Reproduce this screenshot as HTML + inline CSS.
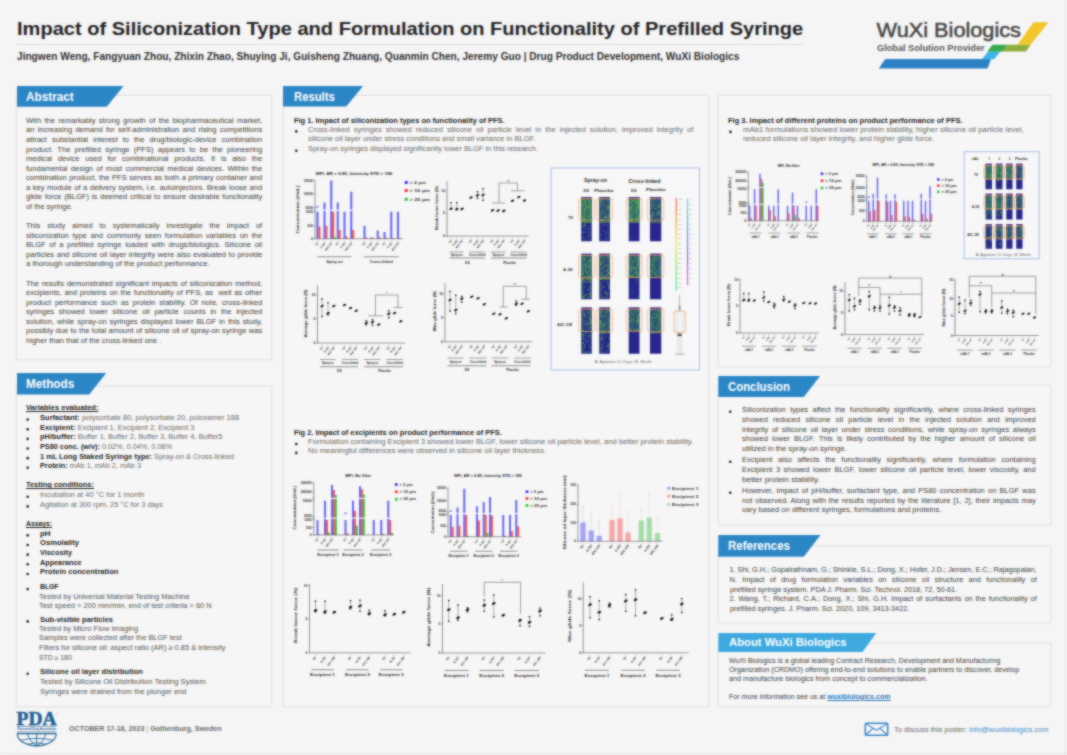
<!DOCTYPE html>
<html lang="en"><head><meta charset="utf-8"><title>Impact of Siliconization Type and Formulation on Functionality of Prefilled Syringe</title>
<style>
html,body{margin:0;padding:0}
body{width:1067px;height:755px;overflow:hidden;background:#f5f5f5;font-family:"Liberation Sans",sans-serif}
#pg{position:relative;width:1067px;height:755px;overflow:hidden;background:#f5f5f5}
#in{position:absolute;left:0;top:0;width:1067px;height:755px}
#soft{position:absolute;left:0;top:0;width:1067px;height:755px;-webkit-backdrop-filter:blur(.8px);backdrop-filter:blur(.8px);opacity:.65;pointer-events:none}
.t{position:absolute;white-space:pre;transform-origin:0 50%}
.box{position:absolute;border:1px solid #e6e6e6;background:#f6f6f6;box-shadow:0 0 1.5px rgba(0,0,0,.09)}
.tab{position:absolute}
#ov{position:absolute;left:0;top:0}
#ov text{font-family:"Liberation Sans",sans-serif}
.edge{position:absolute;background:#e4e4e4}
</style></head>
<body><div id="pg"><div id="in">
<div class="t " style="left:16.5px;top:17.48px;font-size:18.6px;line-height:23.25px;color:#232323;transform:scaleX(1.0785);"><span style="font-weight:700;">Impact of Siliconization Type and Formulation on Functionality of Prefilled Syringe</span></div>
<div style="position:absolute;left:17px;top:43.8px;width:786px;height:1px;background:#dcdcdc"></div>
<div class="t " style="left:16.8px;top:50.73px;font-size:10.2px;line-height:12.75px;color:#333;transform:scaleX(0.9928);"><span style="font-weight:700;">Jingwen Weng, Fangyuan Zhou, Zhixin Zhao, Shuying Ji, Guisheng Zhuang, Quanmin Chen, Jeremy Guo | Drug Product Development, WuXi Biologics</span></div>
<div class="box" style="left:16px;top:95.25px;width:254.4px;height:262.35px"></div>
<div class="box" style="left:16px;top:386px;width:254.4px;height:319px"></div>
<div class="box" style="left:282.5px;top:95px;width:424.75px;height:610px"></div>
<div class="box" style="left:717.75px;top:95px;width:330.75px;height:269.75px"></div>
<div class="box" style="left:717.75px;top:384.8px;width:330.75px;height:138.2px"></div>
<div class="box" style="left:717.75px;top:546.25px;width:330.75px;height:74.75px"></div>
<div class="box" style="left:717.75px;top:643.25px;width:330.75px;height:61.55px"></div>
<div class="tab" style="left:16.5px;top:85.75px;width:107.25px;height:21px;background:#2b86c5;clip-path:polygon(0 0,100% 0,84.15% 100%,0 100%)"></div>
<div class="t " style="left:26px;top:89.81px;font-size:11.9px;line-height:14.88px;color:#fff;transform:scaleX(0.9891);"><span style="font-weight:700;">Abstract</span></div>
<div class="tab" style="left:16.5px;top:373px;width:89.75px;height:21.5px;background:#2b86c5;clip-path:polygon(0 0,100% 0,81.06% 100%,0 100%)"></div>
<div class="t " style="left:26px;top:377.31px;font-size:11.9px;line-height:14.88px;color:#fff;transform:scaleX(0.9863);"><span style="font-weight:700;">Methods</span></div>
<div class="tab" style="left:283px;top:85.5px;width:80.5px;height:21px;background:#2b86c5;clip-path:polygon(0 0,100% 0,78.57% 100%,0 100%)"></div>
<div class="t " style="left:293.75px;top:89.56px;font-size:11.9px;line-height:14.88px;color:#fff;transform:scaleX(0.9480);"><span style="font-weight:700;">Results</span></div>
<div class="tab" style="left:718.25px;top:375.5px;width:102.25px;height:21.5px;background:#2b86c5;clip-path:polygon(0 0,100% 0,83.62% 100%,0 100%)"></div>
<div class="t " style="left:727.5px;top:379.81px;font-size:11.9px;line-height:14.88px;color:#fff;transform:scaleX(0.9570);"><span style="font-weight:700;">Conclusion</span></div>
<div class="tab" style="left:718.25px;top:535px;width:102.25px;height:21.75px;background:#2b86c5;clip-path:polygon(0 0,100% 0,83.62% 100%,0 100%)"></div>
<div class="t " style="left:727.5px;top:539.43px;font-size:11.9px;line-height:14.88px;color:#fff;transform:scaleX(0.9662);"><span style="font-weight:700;">References</span></div>
<div class="tab" style="left:718.25px;top:633px;width:158px;height:19px;background:#3eaadf;clip-path:polygon(0 0,100% 0,91.3% 100%,0 100%)"></div>
<div class="t " style="left:728.75px;top:635.05px;font-size:11.6px;line-height:14.5px;color:#fff;transform:scaleX(0.9716);"><span style="font-weight:700;">About WuXi Biologics</span></div>
<div class="t " style="left:26px;top:115.78px;font-size:7.55px;line-height:9.44px;color:#3e3e3e;word-spacing:1.21px;">With the remarkably strong growth of the biopharmaceutical market,</div>
<div class="t " style="left:26px;top:125.36px;font-size:7.55px;line-height:9.44px;color:#3e3e3e;word-spacing:1.2px;">an increasing demand for self-administration and rising competitions</div>
<div class="t " style="left:26px;top:134.93px;font-size:7.55px;line-height:9.44px;color:#3e3e3e;word-spacing:2.87px;">attract substantial interest to the drug/biologic-device combination</div>
<div class="t " style="left:26px;top:144.51px;font-size:7.55px;line-height:9.44px;color:#3e3e3e;word-spacing:2.12px;">product. The prefilled syringe (PFS) appears to be the pioneering</div>
<div class="t " style="left:26px;top:154.08px;font-size:7.55px;line-height:9.44px;color:#3e3e3e;word-spacing:3.64px;">medical device used for combinational products. It is also the</div>
<div class="t " style="left:26px;top:163.66px;font-size:7.55px;line-height:9.44px;color:#3e3e3e;word-spacing:1.16px;">fundamental design of most commercial medical devices. Within the</div>
<div class="t " style="left:26px;top:173.24px;font-size:7.55px;line-height:9.44px;color:#3e3e3e;word-spacing:0.42px;">combination product, the PFS serves as both a primary container and</div>
<div class="t " style="left:26px;top:182.81px;font-size:7.55px;line-height:9.44px;color:#3e3e3e;word-spacing:0.42px;">a key module of a delivery system, i.e. autoinjectors. Break loose and</div>
<div class="t " style="left:26px;top:192.39px;font-size:7.55px;line-height:9.44px;color:#3e3e3e;word-spacing:0.66px;">glide force (BLGF) is deemed critical to ensure desirable functionality</div>
<div class="t " style="left:26px;top:201.96px;font-size:7.55px;line-height:9.44px;color:#3e3e3e;transform:scaleX(0.9826);">of the syringe.</div>
<div class="t " style="left:26px;top:221.12px;font-size:7.55px;line-height:9.44px;color:#3e3e3e;word-spacing:4.78px;">This study aimed to systematically investigate the impact of</div>
<div class="t " style="left:26px;top:230.69px;font-size:7.55px;line-height:9.44px;color:#3e3e3e;word-spacing:1.58px;">siliconization type and commonly seen formulation variables on the</div>
<div class="t " style="left:26px;top:240.27px;font-size:7.55px;line-height:9.44px;color:#3e3e3e;word-spacing:1.54px;">BLGF of a prefilled syringe loaded with drugs/biologics. Silicone oil</div>
<div class="t " style="left:26px;top:249.84px;font-size:7.55px;line-height:9.44px;color:#3e3e3e;word-spacing:0.51px;">particles and silicone oil layer integrity were also evaluated to provide</div>
<div class="t " style="left:26px;top:259.42px;font-size:7.55px;line-height:9.44px;color:#3e3e3e;transform:scaleX(1.0149);">a thorough understanding of the product performance.</div>
<div class="t " style="left:26px;top:278.57px;font-size:7.55px;line-height:9.44px;color:#3e3e3e;word-spacing:0.61px;">The results demonstrated significant impacts of siliconization method,</div>
<div class="t " style="left:26px;top:288.15px;font-size:7.55px;line-height:9.44px;color:#3e3e3e;word-spacing:0.67px;">excipients, and proteins on the functionality of PFS, as  well as other</div>
<div class="t " style="left:26px;top:297.72px;font-size:7.55px;line-height:9.44px;color:#3e3e3e;word-spacing:1.65px;">product performance such as protein stability. Of note, cross-linked</div>
<div class="t " style="left:26px;top:307.3px;font-size:7.55px;line-height:9.44px;color:#3e3e3e;word-spacing:2.61px;">syringes showed lower silicone oil particle counts in the injected</div>
<div class="t " style="left:26px;top:316.88px;font-size:7.55px;line-height:9.44px;color:#3e3e3e;word-spacing:0.86px;">solution, while spray-on syringes displayed lower BLGF in this study,</div>
<div class="t " style="left:26px;top:326.45px;font-size:7.55px;line-height:9.44px;color:#3e3e3e;word-spacing:0.21px;">possibly due to the total amount of silicone oil of spray-on syringe was</div>
<div class="t " style="left:26px;top:336.03px;font-size:7.55px;line-height:9.44px;color:#3e3e3e;transform:scaleX(1.0043);">higher than that of the cross-linked one .</div>
<div class="t " style="left:25.5px;top:403.28px;font-size:7.55px;line-height:9.44px;color:#262626;transform:scaleX(0.9986);"><span style="font-weight:700;color:#262626;text-decoration:underline;">Variables evaluated:</span></div>
<div class="t " style="left:39.5px;top:412.93px;font-size:7.55px;line-height:9.44px;color:#6a6a6a;transform:scaleX(0.9995);"><span style="font-weight:700;color:#262626;">Surfactant:</span><span style="color:#6a6a6a;"> polysorbate 80, polysorbate 20, poloxamer 188</span></div>
<div class="t " style="left:39.5px;top:422.58px;font-size:7.55px;line-height:9.44px;color:#6a6a6a;transform:scaleX(0.9818);"><span style="font-weight:700;color:#262626;">Excipient:</span><span style="color:#6a6a6a;"> Excipient 1, Excipient 2, Excipient 3</span></div>
<div class="t " style="left:39.5px;top:432.23px;font-size:7.55px;line-height:9.44px;color:#6a6a6a;transform:scaleX(0.9899);"><span style="font-weight:700;color:#262626;">pH/buffer:</span><span style="color:#6a6a6a;"> Buffer 1, Buffer 2, Buffer 3, Buffer 4, Buffer5</span></div>
<div class="t " style="left:39.5px;top:441.88px;font-size:7.55px;line-height:9.44px;color:#6a6a6a;transform:scaleX(0.9649);"><span style="font-weight:700;color:#262626;">PS80 conc. (w/v):</span><span style="color:#6a6a6a;"> 0.02%, 0.04%, 0.08%</span></div>
<div class="t " style="left:39.5px;top:451.53px;font-size:7.55px;line-height:9.44px;color:#6a6a6a;transform:scaleX(0.9762);"><span style="font-weight:700;color:#262626;">1 mL Long Staked Syringe type:</span><span style="color:#6a6a6a;"> Spray-on &amp; Cross-linked</span></div>
<div class="t " style="left:39.5px;top:461.18px;font-size:7.55px;line-height:9.44px;color:#6a6a6a;transform:scaleX(0.9668);"><span style="font-weight:700;color:#262626;">Protein:</span><span style="color:#6a6a6a;"> mAb 1, mAb 2, mAb 3</span></div>
<div class="t " style="left:25.5px;top:480.48px;font-size:7.55px;line-height:9.44px;color:#262626;transform:scaleX(0.9846);"><span style="font-weight:700;color:#262626;text-decoration:underline;">Testing conditions:</span></div>
<div class="t " style="left:39.5px;top:490.13px;font-size:7.55px;line-height:9.44px;color:#6a6a6a;transform:scaleX(0.9992);">Incubation at 40 °C for 1 month</div>
<div class="t " style="left:39.5px;top:499.78px;font-size:7.55px;line-height:9.44px;color:#6a6a6a;transform:scaleX(0.9763);">Agitation at 300 rpm, 25 °C for 3 days</div>
<div class="t " style="left:25.5px;top:519.08px;font-size:7.55px;line-height:9.44px;color:#262626;transform:scaleX(0.8977);"><span style="font-weight:700;color:#262626;text-decoration:underline;">Assays:</span></div>
<div class="t " style="left:39.5px;top:528.73px;font-size:7.55px;line-height:9.44px;color:#262626;transform:scaleX(1.0433);"><span style="font-weight:700;color:#262626;">pH</span></div>
<div class="t " style="left:39.5px;top:538.38px;font-size:7.55px;line-height:9.44px;color:#262626;transform:scaleX(1.0103);"><span style="font-weight:700;color:#262626;">Osmolality</span></div>
<div class="t " style="left:39.5px;top:548.03px;font-size:7.55px;line-height:9.44px;color:#262626;transform:scaleX(0.9692);"><span style="font-weight:700;color:#262626;">Viscosity</span></div>
<div class="t " style="left:39.5px;top:557.68px;font-size:7.55px;line-height:9.44px;color:#262626;transform:scaleX(0.9602);"><span style="font-weight:700;color:#262626;">Appearance</span></div>
<div class="t " style="left:39.5px;top:567.33px;font-size:7.55px;line-height:9.44px;color:#262626;transform:scaleX(1.0061);"><span style="font-weight:700;color:#262626;">Protein concentration</span></div>
<div class="t " style="left:39.5px;top:582.28px;font-size:7.55px;line-height:9.44px;color:#262626;transform:scaleX(0.9003);"><span style="font-weight:700;color:#262626;">BLGF</span></div>
<div class="t " style="left:38.75px;top:591.78px;font-size:7.55px;line-height:9.44px;color:#555;transform:scaleX(0.9960);">Tested by Universal Material Testing Machine</div>
<div class="t " style="left:38.75px;top:601.28px;font-size:7.55px;line-height:9.44px;color:#555;transform:scaleX(0.9848);">Test speed = 200 mm/min, end of test criteria = 60 N</div>
<div class="t " style="left:39.5px;top:614.53px;font-size:7.55px;line-height:9.44px;color:#262626;transform:scaleX(0.9942);"><span style="font-weight:700;color:#262626;">Sub-visible particles</span></div>
<div class="t " style="left:38.75px;top:623.78px;font-size:7.55px;line-height:9.44px;color:#555;transform:scaleX(0.9938);">Tested by Micro Flow Imaging</div>
<div class="t " style="left:38.75px;top:633.28px;font-size:7.55px;line-height:9.44px;color:#555;transform:scaleX(0.9803);">Samples were collected after the BLGF test</div>
<div class="t " style="left:38.75px;top:643.28px;font-size:7.55px;line-height:9.44px;color:#555;transform:scaleX(0.9860);">Filters for silicone oil: aspect ratio (AR) ≥ 0.85 &amp; intensity</div>
<div class="t " style="left:38.75px;top:653.75px;font-size:6.4px;line-height:8px;color:#555;transform:scaleX(1.0721);">STD ≥ 180</div>
<div class="t " style="left:39.5px;top:666.78px;font-size:7.55px;line-height:9.44px;color:#262626;transform:scaleX(0.9981);"><span style="font-weight:700;color:#262626;">Silicone oil layer distribution</span></div>
<div class="t " style="left:40.25px;top:676.78px;font-size:7.55px;line-height:9.44px;color:#555;transform:scaleX(1.0046);">Tested by Silicone Oil Distribution Testing System</div>
<div class="t " style="left:40.25px;top:686.5px;font-size:7.2px;line-height:9px;color:#555;transform:scaleX(1.0476);">Syringes were drained from the plunger end</div>
<div class="t " style="left:293.75px;top:116.01px;font-size:7.5px;line-height:9.38px;color:#262626;transform:scaleX(0.9927);"><span style="font-weight:700;">Fig 1. Impact of siliconization types on functionality of PFS.</span></div>
<div class="t " style="left:308px;top:124.56px;font-size:7.5px;line-height:9.38px;color:#6a6a6a;word-spacing:2px;">Cross-linked syringes showed reduced silicone oil particle level in the injected solution, improved integrity of</div>
<div class="t " style="left:308px;top:134.06px;font-size:7.5px;line-height:9.38px;color:#6a6a6a;transform:scaleX(0.9986);">silicone oil layer under stress conditions and small variance in BLGF.</div>
<div class="t " style="left:308px;top:143.81px;font-size:7.5px;line-height:9.38px;color:#6a6a6a;transform:scaleX(0.9924);">Spray-on syringes displayed significantly lower BLGF in this research.</div>
<div class="t " style="left:293.75px;top:427.71px;font-size:7.5px;line-height:9.38px;color:#262626;transform:scaleX(0.9872);"><span style="font-weight:700;">Fig 2. Impact of excipients on product performance of PFS.</span></div>
<div class="t " style="left:308px;top:437.31px;font-size:7.5px;line-height:9.38px;color:#6a6a6a;transform:scaleX(1.0203);">Formulation containing Excipient 3 showed lower BLGF, lower silicone oil particle level, and better protein stability.</div>
<div class="t " style="left:308px;top:446.06px;font-size:7.5px;line-height:9.38px;color:#6a6a6a;transform:scaleX(1.0057);">No meaningful differences were observed in silicone oil layer thickness.</div>
<div class="t " style="left:728.25px;top:116.01px;font-size:7.5px;line-height:9.38px;color:#262626;transform:scaleX(0.9962);"><span style="font-weight:700;">Fig 3. Impact of different proteins on product performance of PFS.</span></div>
<div class="t " style="left:742.5px;top:125.12px;font-size:7.8px;line-height:9.75px;color:#6a6a6a;transform:scaleX(1.0019);">mAb1 formulations showed lower protein stability, higher silicone oil particle level,</div>
<div class="t " style="left:742.5px;top:134.43px;font-size:7.8px;line-height:9.75px;color:#6a6a6a;transform:scaleX(0.9779);">reduced silicone oil layer integrity, and higher glide force.</div>
<div class="t " style="left:742px;top:404.81px;font-size:7.5px;line-height:9.38px;color:#3e3e3e;word-spacing:2.3px;">Siliconization types affect the functionality significantly, where cross-linked syringes</div>
<div class="t " style="left:742px;top:414.56px;font-size:7.5px;line-height:9.38px;color:#3e3e3e;word-spacing:3.13px;">showed reduced silicone oil particle level in the injected solution and improved</div>
<div class="t " style="left:742px;top:424.56px;font-size:7.5px;line-height:9.38px;color:#3e3e3e;word-spacing:1.58px;">integrity of silicone oil layer under stress conditions, while spray-on syringes always</div>
<div class="t " style="left:742px;top:434.06px;font-size:7.5px;line-height:9.38px;color:#3e3e3e;word-spacing:1.98px;">showed lower BLGF. This is likely contributed by the higher amount of silicone oil</div>
<div class="t " style="left:742px;top:443.81px;font-size:7.5px;line-height:9.38px;color:#3e3e3e;transform:scaleX(1.0108);">utilized in the spray-on syringe.</div>
<div class="t " style="left:742px;top:454.81px;font-size:7.5px;line-height:9.38px;color:#3e3e3e;word-spacing:3.6px;">Excipient also affects the functionality significantly, where formulation containing</div>
<div class="t " style="left:742px;top:464.81px;font-size:7.5px;line-height:9.38px;color:#3e3e3e;word-spacing:1.42px;">Excipient 3 showed lower BLGF, lower silicone oil particle level, lower viscosity, and</div>
<div class="t " style="left:742px;top:474.56px;font-size:7.5px;line-height:9.38px;color:#3e3e3e;transform:scaleX(1.0644);">better protein stability.</div>
<div class="t " style="left:742px;top:485.81px;font-size:7.5px;line-height:9.38px;color:#3e3e3e;word-spacing:1.13px;">However, impact of pH/buffer, surfactant type, and PS80 concentration on BLGF was</div>
<div class="t " style="left:742px;top:495.56px;font-size:7.5px;line-height:9.38px;color:#3e3e3e;word-spacing:0.7px;">not observed. Along with the results reported by the literature [1, 2], their impacts may</div>
<div class="t " style="left:742px;top:505.31px;font-size:7.5px;line-height:9.38px;color:#3e3e3e;transform:scaleX(1.0146);">vary based on different syringes, formulations and proteins.</div>
<div class="t " style="left:729.5px;top:565.38px;font-size:7.4px;line-height:9.25px;color:#3e3e3e;letter-spacing:-0.06px;">1. Shi, G.H.; Gopalrathnam, G.; Shinkle, S.L.; Dong, X.; Hofer, J.D.; Jensen, E.C.; Rajagopalan,</div>
<div class="t " style="left:729.5px;top:575.38px;font-size:7.4px;line-height:9.25px;color:#3e3e3e;word-spacing:3.29px;">N. Impact of drug formulation variables on silicone oil structure and functionality of</div>
<div class="t " style="left:729.5px;top:584.88px;font-size:7.4px;line-height:9.25px;color:#3e3e3e;transform:scaleX(0.9900);">prefilled syringe system. PDA J. Pharm. Sci. Technol. 2018, 72, 50-61.</div>
<div class="t " style="left:729.5px;top:594.38px;font-size:7.4px;line-height:9.25px;color:#3e3e3e;word-spacing:0.85px;">2. Wang, T.; Richard, C.A.; Dong, X.; Shi, G.H. Impact of surfactants on the functionality of</div>
<div class="t " style="left:729.5px;top:603.88px;font-size:7.4px;line-height:9.25px;color:#3e3e3e;transform:scaleX(0.9850);">prefilled syringes. J. Pharm. Sci. 2020, 109, 3413-3422.</div>
<div class="t " style="left:728.75px;top:655.5px;font-size:7.2px;line-height:9px;color:#3e3e3e;transform:scaleX(0.9796);">WuXi Biologics is a global leading Contract Research, Development and Manufacturing</div>
<div class="t " style="left:728.75px;top:664.75px;font-size:7.2px;line-height:9px;color:#3e3e3e;transform:scaleX(0.9902);">Organization (CRDMO) offering end-to-end solutions to enable partners to discover, develop</div>
<div class="t " style="left:728.75px;top:673.5px;font-size:7.2px;line-height:9px;color:#3e3e3e;transform:scaleX(1.0084);">and manufacture biologics from concept to commercialization.</div>
<div class="t " style="left:728.75px;top:691.69px;font-size:7.3px;line-height:9.12px;color:#3e3e3e;transform:scaleX(0.9689);"><span style="color:#3e3e3e;">For more information see us at </span><span style="font-weight:700;color:#2a7bbf;text-decoration:underline;">wuxibiologics.com</span></div>
<div class="t " style="left:68.75px;top:723.95px;font-size:7.6px;line-height:9.5px;color:#6b6b6b;transform:scaleX(0.9362);"><span style="font-weight:700;color:#6b6b6b;">OCTOBER 17-18, 2023 </span><span style="color:#999;">| </span><span style="font-weight:700;color:#6b6b6b;">Gothenburg, Sweden</span></div>
<div class="t " style="left:893.75px;top:724.65px;font-size:7.6px;line-height:9.5px;color:#6a6a6a;transform:scaleX(0.9770);"><span style="color:#6a6a6a;">To discuss this poster: </span><span style="color:#3f8fcf;">info@wuxibiologics.com</span></div>
<div class="edge" style="left:1065px;top:0;width:1px;height:755px"></div><div class="edge" style="left:0;top:753px;width:1067px;height:1px"></div>
<svg id="ov" width="1067" height="755" viewBox="0 0 1067 755" >
<circle cx="27.7" cy="419.55" r="1.3" fill="#222"/>
<circle cx="27.7" cy="429.2" r="1.3" fill="#222"/>
<circle cx="27.7" cy="438.85" r="1.3" fill="#222"/>
<circle cx="27.7" cy="448.5" r="1.3" fill="#222"/>
<circle cx="27.7" cy="458.15" r="1.3" fill="#222"/>
<circle cx="27.7" cy="467.8" r="1.3" fill="#222"/>
<circle cx="27.7" cy="496.75" r="1.3" fill="#222"/>
<circle cx="27.7" cy="506.4" r="1.3" fill="#222"/>
<circle cx="27.7" cy="535.35" r="1.3" fill="#222"/>
<circle cx="27.7" cy="545" r="1.3" fill="#222"/>
<circle cx="27.7" cy="554.65" r="1.3" fill="#222"/>
<circle cx="27.7" cy="564.3" r="1.3" fill="#222"/>
<circle cx="27.7" cy="573.95" r="1.3" fill="#222"/>
<circle cx="27.7" cy="589.1" r="1.3" fill="#222"/>
<circle cx="27.7" cy="621.4" r="1.3" fill="#222"/>
<circle cx="27.7" cy="673.7" r="1.3" fill="#222"/>
<circle cx="296.3" cy="131.4" r="1.3" fill="#222"/>
<circle cx="296.3" cy="150.7" r="1.3" fill="#222"/>
<circle cx="296.3" cy="444.1" r="1.3" fill="#222"/>
<circle cx="296.3" cy="452.9" r="1.3" fill="#222"/>
<circle cx="730.5" cy="131.9" r="1.3" fill="#222"/>
<circle cx="730.2" cy="411.7" r="1.3" fill="#222"/>
<circle cx="730.2" cy="461.7" r="1.3" fill="#222"/>
<circle cx="730.2" cy="492.7" r="1.3" fill="#222"/>
<g id="fig1">
<text x="354.1" y="175.4" font-size="3.5" text-anchor="middle" font-weight="700" fill="#222" textLength="76.5" lengthAdjust="spacingAndGlyphs">MFI, AR &gt; 0.85, Intensity STD &gt; 180</text>
<rect x="316.45" y="211.75" width="2.1" height="27" fill="#6767f8"/>
<rect x="318.35" y="226.75" width="2.1" height="12" fill="#f25353"/>
<rect x="316.45" y="206" width="2.1" height="1.6" fill="#6767f8"/>
<rect x="323.45" y="202.5" width="2.1" height="36.25" fill="#6767f8"/>
<rect x="325.35" y="225.75" width="2.1" height="13" fill="#f25353"/>
<rect x="330.2" y="180.5" width="2.1" height="58.25" fill="#6767f8"/>
<rect x="332.1" y="211.75" width="2.1" height="27" fill="#f25353"/>
<rect x="334" y="237.2" width="2.1" height="1.55" fill="#35c240"/>
<rect x="336.7" y="202.5" width="2.1" height="36.25" fill="#6767f8"/>
<rect x="338.6" y="230" width="2.1" height="8.75" fill="#f25353"/>
<rect x="343.45" y="211.75" width="2.1" height="27" fill="#6767f8"/>
<rect x="345.35" y="236.25" width="2.1" height="2.5" fill="#f25353"/>
<rect x="350.2" y="191.75" width="2.1" height="47" fill="#6767f8"/>
<rect x="352.1" y="230" width="2.1" height="8.75" fill="#f25353"/>
<rect x="363.45" y="225.75" width="2.1" height="13" fill="#6767f8"/>
<rect x="365.35" y="237.6" width="2.1" height="1.15" fill="#f25353"/>
<rect x="370.2" y="237.3" width="2.1" height="1.45" fill="#6767f8"/>
<rect x="372.1" y="238" width="2.1" height="0.75" fill="#f25353"/>
<rect x="376.7" y="230.5" width="2.1" height="8.25" fill="#6767f8"/>
<rect x="378.6" y="237.3" width="2.1" height="1.45" fill="#f25353"/>
<rect x="383.45" y="232" width="2.1" height="6.75" fill="#6767f8"/>
<rect x="385.35" y="237.6" width="2.1" height="1.15" fill="#f25353"/>
<rect x="390.2" y="211.75" width="2.1" height="27" fill="#6767f8"/>
<rect x="392.1" y="238" width="2.1" height="0.75" fill="#f25353"/>
<rect x="396.95" y="211.75" width="2.1" height="27" fill="#6767f8"/>
<rect x="398.85" y="238" width="2.1" height="0.75" fill="#f25353"/>
<rect x="315.3" y="209.65" width="87.5" height="1.3" fill="#f6f6f6"/>
<path d="M315 180L315 239" stroke="#3a3a3a" stroke-width="0.5" fill="none"/>
<path d="M314.75 238.75L402.5 238.75" stroke="#3a3a3a" stroke-width="0.5" fill="none"/>
<path d="M313.4 180.5L315 180.5" stroke="#3a3a3a" stroke-width="0.45" fill="none"/>
<text x="312.7" y="181.6" font-size="3.2" text-anchor="end" font-weight="700" fill="#2a2a2a">15000</text>
<path d="M313.4 194L315 194" stroke="#3a3a3a" stroke-width="0.45" fill="none"/>
<text x="312.7" y="195.1" font-size="3.2" text-anchor="end" font-weight="700" fill="#2a2a2a">10000</text>
<path d="M313.4 207.5L315 207.5" stroke="#3a3a3a" stroke-width="0.45" fill="none"/>
<text x="312.7" y="208.6" font-size="3.2" text-anchor="end" font-weight="700" fill="#2a2a2a">5000</text>
<path d="M313.4 211.75L315 211.75" stroke="#3a3a3a" stroke-width="0.45" fill="none"/>
<text x="312.7" y="212.85" font-size="3.2" text-anchor="end" font-weight="700" fill="#2a2a2a">1000</text>
<path d="M313.4 225.75L315 225.75" stroke="#3a3a3a" stroke-width="0.45" fill="none"/>
<text x="312.7" y="226.85" font-size="3.2" text-anchor="end" font-weight="700" fill="#2a2a2a">500</text>
<path d="M313.4 238.75L315 238.75" stroke="#3a3a3a" stroke-width="0.45" fill="none"/>
<text x="312.7" y="239.85" font-size="3.2" text-anchor="end" font-weight="700" fill="#2a2a2a">0</text>
<rect x="313.5" y="209" width="3" height="1.4" fill="#f6f6f6"/>
<path d="M313.7 209L316.3 209" stroke="#3a3a3a" stroke-width="0.35" fill="none"/>
<path d="M313.7 210.4L316.3 210.4" stroke="#3a3a3a" stroke-width="0.35" fill="none"/>
<text x="299.2" y="209.5" font-size="3.3" text-anchor="middle" font-weight="700" fill="#2a2a2a" transform="rotate(-90 299.2 209.5)" textLength="48" lengthAdjust="spacingAndGlyphs">Concentration (#/mL)</text>
<rect x="404.75" y="181" width="3" height="3" fill="#3535ff"/>
<text x="409.45" y="183.8" font-size="3.6" font-weight="700" fill="#333" textLength="16.44" lengthAdjust="spacingAndGlyphs">&gt; 2 µm</text>
<rect x="404.75" y="189" width="3" height="3" fill="#ff3030"/>
<text x="409.45" y="191.8" font-size="3.6" font-weight="700" fill="#333" textLength="20.55" lengthAdjust="spacingAndGlyphs">&gt; 10 µm</text>
<rect x="404.75" y="197.75" width="3" height="3" fill="#28c832"/>
<text x="409.45" y="200.55" font-size="3.6" font-weight="700" fill="#333" textLength="20.55" lengthAdjust="spacingAndGlyphs">&gt; 25 µm</text>
<path d="M317.5 241L317.5 242.2" stroke="#3a3a3a" stroke-width="0.4" fill="none"/>
<text x="318.4" y="243.4" font-size="2.8" text-anchor="end" font-weight="700" fill="#2a2a2a" transform="rotate(-52 318.4 243.4)">T0</text>
<path d="M324.5 241L324.5 242.2" stroke="#3a3a3a" stroke-width="0.4" fill="none"/>
<text x="325.4" y="243.4" font-size="2.8" text-anchor="end" font-weight="700" fill="#2a2a2a" transform="rotate(-52 325.4 243.4)">A-3D</text>
<path d="M331.25 241L331.25 242.2" stroke="#3a3a3a" stroke-width="0.4" fill="none"/>
<text x="332.15" y="243.4" font-size="2.8" text-anchor="end" font-weight="700" fill="#2a2a2a" transform="rotate(-52 332.15 243.4)">40C-1M</text>
<path d="M337.75 241L337.75 242.2" stroke="#3a3a3a" stroke-width="0.4" fill="none"/>
<text x="338.65" y="243.4" font-size="2.8" text-anchor="end" font-weight="700" fill="#2a2a2a" transform="rotate(-52 338.65 243.4)">T0</text>
<path d="M344.5 241L344.5 242.2" stroke="#3a3a3a" stroke-width="0.4" fill="none"/>
<text x="345.4" y="243.4" font-size="2.8" text-anchor="end" font-weight="700" fill="#2a2a2a" transform="rotate(-52 345.4 243.4)">A-3D</text>
<path d="M351.25 241L351.25 242.2" stroke="#3a3a3a" stroke-width="0.4" fill="none"/>
<text x="352.15" y="243.4" font-size="2.8" text-anchor="end" font-weight="700" fill="#2a2a2a" transform="rotate(-52 352.15 243.4)">40C-1M</text>
<path d="M364.5 241L364.5 242.2" stroke="#3a3a3a" stroke-width="0.4" fill="none"/>
<text x="365.4" y="243.4" font-size="2.8" text-anchor="end" font-weight="700" fill="#2a2a2a" transform="rotate(-52 365.4 243.4)">T0</text>
<path d="M371.25 241L371.25 242.2" stroke="#3a3a3a" stroke-width="0.4" fill="none"/>
<text x="372.15" y="243.4" font-size="2.8" text-anchor="end" font-weight="700" fill="#2a2a2a" transform="rotate(-52 372.15 243.4)">A-3D</text>
<path d="M377.75 241L377.75 242.2" stroke="#3a3a3a" stroke-width="0.4" fill="none"/>
<text x="378.65" y="243.4" font-size="2.8" text-anchor="end" font-weight="700" fill="#2a2a2a" transform="rotate(-52 378.65 243.4)">40C-1M</text>
<path d="M384.5 241L384.5 242.2" stroke="#3a3a3a" stroke-width="0.4" fill="none"/>
<text x="385.4" y="243.4" font-size="2.8" text-anchor="end" font-weight="700" fill="#2a2a2a" transform="rotate(-52 385.4 243.4)">T0</text>
<path d="M391.25 241L391.25 242.2" stroke="#3a3a3a" stroke-width="0.4" fill="none"/>
<text x="392.15" y="243.4" font-size="2.8" text-anchor="end" font-weight="700" fill="#2a2a2a" transform="rotate(-52 392.15 243.4)">A-3D</text>
<path d="M398 241L398 242.2" stroke="#3a3a3a" stroke-width="0.4" fill="none"/>
<text x="398.9" y="243.4" font-size="2.8" text-anchor="end" font-weight="700" fill="#2a2a2a" transform="rotate(-52 398.9 243.4)">40C-1M</text>
<path d="M317.5 256.75L351.5 256.75" stroke="#333" stroke-width="0.55" fill="none"/>
<text x="334.5" y="262.97" font-size="3.4" text-anchor="middle" font-weight="700" fill="#2a2a2a" textLength="16.5" lengthAdjust="spacingAndGlyphs">Spray-on</text>
<path d="M363.75 256.75L398.75 256.75" stroke="#333" stroke-width="0.55" fill="none"/>
<text x="381.25" y="262.97" font-size="3.4" text-anchor="middle" font-weight="700" fill="#2a2a2a" textLength="23" lengthAdjust="spacingAndGlyphs">Cross-linked</text>
<path d="M447 181L447 236.35" stroke="#3a3a3a" stroke-width="0.5" fill="none"/>
<path d="M446.75 236.1L528.75 236.1" stroke="#3a3a3a" stroke-width="0.5" fill="none"/>
<path d="M445.4 190.75L447 190.75" stroke="#3a3a3a" stroke-width="0.45" fill="none"/>
<text x="444.7" y="191.85" font-size="3.2" text-anchor="end" font-weight="700" fill="#2a2a2a">10</text>
<path d="M445.4 213.2L447 213.2" stroke="#3a3a3a" stroke-width="0.45" fill="none"/>
<text x="444.7" y="214.3" font-size="3.2" text-anchor="end" font-weight="700" fill="#2a2a2a">5</text>
<path d="M445.4 236.1L447 236.1" stroke="#3a3a3a" stroke-width="0.45" fill="none"/>
<text x="444.7" y="237.2" font-size="3.2" text-anchor="end" font-weight="700" fill="#2a2a2a">0</text>
<path d="M446.1 195.24L447 195.24" stroke="#555" stroke-width="0.35" fill="none"/>
<path d="M446.1 199.73L447 199.73" stroke="#555" stroke-width="0.35" fill="none"/>
<path d="M446.1 204.22L447 204.22" stroke="#555" stroke-width="0.35" fill="none"/>
<path d="M446.1 208.71L447 208.71" stroke="#555" stroke-width="0.35" fill="none"/>
<path d="M446.1 217.78L447 217.78" stroke="#555" stroke-width="0.35" fill="none"/>
<path d="M446.1 222.36L447 222.36" stroke="#555" stroke-width="0.35" fill="none"/>
<path d="M446.1 226.94L447 226.94" stroke="#555" stroke-width="0.35" fill="none"/>
<path d="M446.1 231.52L447 231.52" stroke="#555" stroke-width="0.35" fill="none"/>
<text x="438" y="208" font-size="3.1" text-anchor="middle" font-weight="700" fill="#2a2a2a" transform="rotate(-90 438 208)" textLength="44" lengthAdjust="spacingAndGlyphs">Break loose force (N)</text>
<path d="M451 202.5L451 209.5" stroke="#444" stroke-width="0.4" fill="none"/>
<path d="M450 202.5L452 202.5" stroke="#444" stroke-width="0.4" fill="none"/>
<path d="M450 209.5L452 209.5" stroke="#444" stroke-width="0.4" fill="none"/>
<circle cx="451" cy="202.8" r="0.75" fill="#111"/>
<circle cx="451" cy="209.2" r="0.75" fill="#111"/>
<circle cx="451" cy="208.75" r="1.05" fill="#111"/>
<circle cx="451.9" cy="208.25" r="0.84" fill="#111"/>
<circle cx="450.2" cy="209.25" r="0.84" fill="#111"/>
<path d="M456.75 202.5L456.75 210" stroke="#444" stroke-width="0.4" fill="none"/>
<path d="M455.75 202.5L457.75 202.5" stroke="#444" stroke-width="0.4" fill="none"/>
<path d="M455.75 210L457.75 210" stroke="#444" stroke-width="0.4" fill="none"/>
<circle cx="456.75" cy="202.8" r="0.75" fill="#111"/>
<circle cx="456.75" cy="209.7" r="0.75" fill="#111"/>
<circle cx="456.75" cy="209" r="1.05" fill="#111"/>
<circle cx="457.65" cy="208.5" r="0.84" fill="#111"/>
<circle cx="455.95" cy="209.5" r="0.84" fill="#111"/>
<circle cx="462" cy="208.9" r="1.05" fill="#111"/>
<circle cx="462.9" cy="208.4" r="0.84" fill="#111"/>
<circle cx="461.2" cy="209.4" r="0.84" fill="#111"/>
<circle cx="471" cy="197.5" r="1.05" fill="#111"/>
<circle cx="471.9" cy="197" r="0.84" fill="#111"/>
<circle cx="470.2" cy="198" r="0.84" fill="#111"/>
<path d="M477.5 191.5L477.5 198.5" stroke="#444" stroke-width="0.4" fill="none"/>
<path d="M476.5 191.5L478.5 191.5" stroke="#444" stroke-width="0.4" fill="none"/>
<path d="M476.5 198.5L478.5 198.5" stroke="#444" stroke-width="0.4" fill="none"/>
<circle cx="477.5" cy="191.8" r="0.75" fill="#111"/>
<circle cx="477.5" cy="198.2" r="0.75" fill="#111"/>
<circle cx="477.5" cy="195.3" r="1.05" fill="#111"/>
<circle cx="478.4" cy="194.8" r="0.84" fill="#111"/>
<circle cx="476.7" cy="195.8" r="0.84" fill="#111"/>
<path d="M483 188.5L483 200.5" stroke="#444" stroke-width="0.4" fill="none"/>
<path d="M482 188.5L484 188.5" stroke="#444" stroke-width="0.4" fill="none"/>
<path d="M482 200.5L484 200.5" stroke="#444" stroke-width="0.4" fill="none"/>
<circle cx="483" cy="188.8" r="0.75" fill="#111"/>
<circle cx="483" cy="200.2" r="0.75" fill="#111"/>
<circle cx="483" cy="195" r="1.05" fill="#111"/>
<circle cx="483.9" cy="194.5" r="0.84" fill="#111"/>
<circle cx="482.2" cy="195.5" r="0.84" fill="#111"/>
<circle cx="492.5" cy="210.3" r="1.05" fill="#111"/>
<circle cx="493.4" cy="209.8" r="0.84" fill="#111"/>
<circle cx="491.7" cy="210.8" r="0.84" fill="#111"/>
<circle cx="498" cy="210.6" r="1.05" fill="#111"/>
<circle cx="498.9" cy="210.1" r="0.84" fill="#111"/>
<circle cx="497.2" cy="211.1" r="0.84" fill="#111"/>
<circle cx="503.75" cy="210.9" r="1.05" fill="#111"/>
<circle cx="504.65" cy="210.4" r="0.84" fill="#111"/>
<circle cx="502.95" cy="211.4" r="0.84" fill="#111"/>
<circle cx="512.5" cy="200.75" r="1.05" fill="#111"/>
<circle cx="513.4" cy="200.25" r="0.84" fill="#111"/>
<circle cx="511.7" cy="201.25" r="0.84" fill="#111"/>
<circle cx="518.75" cy="197" r="1.05" fill="#111"/>
<circle cx="519.65" cy="196.5" r="0.84" fill="#111"/>
<circle cx="517.95" cy="197.5" r="0.84" fill="#111"/>
<circle cx="524.5" cy="200.5" r="1.05" fill="#111"/>
<circle cx="525.4" cy="200" r="0.84" fill="#111"/>
<circle cx="523.7" cy="201" r="0.84" fill="#111"/>
<path d="M499 203L499 183L517.5 183L517.5 190.75" stroke="#444" stroke-width="0.5" fill="none"/>
<path d="M492 203L505 203" stroke="#444" stroke-width="0.5" fill="none"/>
<path d="M511 190.75L524.5 190.75" stroke="#444" stroke-width="0.5" fill="none"/>
<text x="508.25" y="182.6" font-size="2.8" text-anchor="middle" font-weight="700" fill="#333">**</text>
<path d="M451 238.4L451 239.6" stroke="#3a3a3a" stroke-width="0.4" fill="none"/>
<text x="451.9" y="240.8" font-size="2.8" text-anchor="end" font-weight="700" fill="#2a2a2a" transform="rotate(-52 451.9 240.8)">T0</text>
<path d="M456.75 238.4L456.75 239.6" stroke="#3a3a3a" stroke-width="0.4" fill="none"/>
<text x="457.65" y="240.8" font-size="2.8" text-anchor="end" font-weight="700" fill="#2a2a2a" transform="rotate(-52 457.65 240.8)">A-3D</text>
<path d="M462 238.4L462 239.6" stroke="#3a3a3a" stroke-width="0.4" fill="none"/>
<text x="462.9" y="240.8" font-size="2.8" text-anchor="end" font-weight="700" fill="#2a2a2a" transform="rotate(-52 462.9 240.8)">40C-1M</text>
<path d="M471 238.4L471 239.6" stroke="#3a3a3a" stroke-width="0.4" fill="none"/>
<text x="471.9" y="240.8" font-size="2.8" text-anchor="end" font-weight="700" fill="#2a2a2a" transform="rotate(-52 471.9 240.8)">T0</text>
<path d="M477.5 238.4L477.5 239.6" stroke="#3a3a3a" stroke-width="0.4" fill="none"/>
<text x="478.4" y="240.8" font-size="2.8" text-anchor="end" font-weight="700" fill="#2a2a2a" transform="rotate(-52 478.4 240.8)">A-3D</text>
<path d="M483 238.4L483 239.6" stroke="#3a3a3a" stroke-width="0.4" fill="none"/>
<text x="483.9" y="240.8" font-size="2.8" text-anchor="end" font-weight="700" fill="#2a2a2a" transform="rotate(-52 483.9 240.8)">40C-1M</text>
<path d="M492.5 238.4L492.5 239.6" stroke="#3a3a3a" stroke-width="0.4" fill="none"/>
<text x="493.4" y="240.8" font-size="2.8" text-anchor="end" font-weight="700" fill="#2a2a2a" transform="rotate(-52 493.4 240.8)">T0</text>
<path d="M498 238.4L498 239.6" stroke="#3a3a3a" stroke-width="0.4" fill="none"/>
<text x="498.9" y="240.8" font-size="2.8" text-anchor="end" font-weight="700" fill="#2a2a2a" transform="rotate(-52 498.9 240.8)">A-3D</text>
<path d="M503.75 238.4L503.75 239.6" stroke="#3a3a3a" stroke-width="0.4" fill="none"/>
<text x="504.65" y="240.8" font-size="2.8" text-anchor="end" font-weight="700" fill="#2a2a2a" transform="rotate(-52 504.65 240.8)">40C-1M</text>
<path d="M512.5 238.4L512.5 239.6" stroke="#3a3a3a" stroke-width="0.4" fill="none"/>
<text x="513.4" y="240.8" font-size="2.8" text-anchor="end" font-weight="700" fill="#2a2a2a" transform="rotate(-52 513.4 240.8)">T0</text>
<path d="M518.75 238.4L518.75 239.6" stroke="#3a3a3a" stroke-width="0.4" fill="none"/>
<text x="519.65" y="240.8" font-size="2.8" text-anchor="end" font-weight="700" fill="#2a2a2a" transform="rotate(-52 519.65 240.8)">A-3D</text>
<path d="M524.5 238.4L524.5 239.6" stroke="#3a3a3a" stroke-width="0.4" fill="none"/>
<text x="525.4" y="240.8" font-size="2.8" text-anchor="end" font-weight="700" fill="#2a2a2a" transform="rotate(-52 525.4 240.8)">40C-1M</text>
<path d="M449.5 252L463.5 252" stroke="#333" stroke-width="0.45" fill="none"/>
<text x="456.5" y="255.97" font-size="2.7" text-anchor="middle" font-weight="700" fill="#2a2a2a">Spray-on</text>
<path d="M469.5 252L485 252" stroke="#333" stroke-width="0.45" fill="none"/>
<text x="477.25" y="255.97" font-size="2.7" text-anchor="middle" font-weight="700" fill="#2a2a2a">Cross-linked</text>
<path d="M491 252L505.5 252" stroke="#333" stroke-width="0.45" fill="none"/>
<text x="498.25" y="255.97" font-size="2.7" text-anchor="middle" font-weight="700" fill="#2a2a2a">Spray-on</text>
<path d="M511 252L526.5 252" stroke="#333" stroke-width="0.45" fill="none"/>
<text x="518.75" y="255.97" font-size="2.7" text-anchor="middle" font-weight="700" fill="#2a2a2a">Cross-linked</text>
<path d="M449.5 258L485 258" stroke="#333" stroke-width="0.55" fill="none"/>
<path d="M491 258L526.5 258" stroke="#333" stroke-width="0.55" fill="none"/>
<text x="467.3" y="263.6" font-size="3.3" text-anchor="middle" font-weight="700" fill="#2a2a2a">DS</text>
<text x="509.5" y="263.6" font-size="3.3" text-anchor="middle" font-weight="700" fill="#2a2a2a">Placebo</text>
<path d="M317.5 285L317.5 343.25" stroke="#3a3a3a" stroke-width="0.5" fill="none"/>
<path d="M317.25 343L405 343" stroke="#3a3a3a" stroke-width="0.5" fill="none"/>
<path d="M315.9 295L317.5 295" stroke="#3a3a3a" stroke-width="0.45" fill="none"/>
<text x="315.2" y="296.1" font-size="3.2" text-anchor="end" font-weight="700" fill="#2a2a2a">10</text>
<path d="M315.9 318.5L317.5 318.5" stroke="#3a3a3a" stroke-width="0.45" fill="none"/>
<text x="315.2" y="319.6" font-size="3.2" text-anchor="end" font-weight="700" fill="#2a2a2a">5</text>
<path d="M315.9 343L317.5 343" stroke="#3a3a3a" stroke-width="0.45" fill="none"/>
<text x="315.2" y="344.1" font-size="3.2" text-anchor="end" font-weight="700" fill="#2a2a2a">0</text>
<path d="M316.6 299.7L317.5 299.7" stroke="#555" stroke-width="0.35" fill="none"/>
<path d="M316.6 304.4L317.5 304.4" stroke="#555" stroke-width="0.35" fill="none"/>
<path d="M316.6 309.1L317.5 309.1" stroke="#555" stroke-width="0.35" fill="none"/>
<path d="M316.6 313.8L317.5 313.8" stroke="#555" stroke-width="0.35" fill="none"/>
<path d="M316.6 323.4L317.5 323.4" stroke="#555" stroke-width="0.35" fill="none"/>
<path d="M316.6 328.3L317.5 328.3" stroke="#555" stroke-width="0.35" fill="none"/>
<path d="M316.6 333.2L317.5 333.2" stroke="#555" stroke-width="0.35" fill="none"/>
<path d="M316.6 338.1L317.5 338.1" stroke="#555" stroke-width="0.35" fill="none"/>
<text x="307.3" y="313.5" font-size="3.1" text-anchor="middle" font-weight="700" fill="#2a2a2a" transform="rotate(-90 307.3 313.5)" textLength="48" lengthAdjust="spacingAndGlyphs">Average glide force (N)</text>
<path d="M322 298.75L322 316.75" stroke="#444" stroke-width="0.4" fill="none"/>
<path d="M321 298.75L323 298.75" stroke="#444" stroke-width="0.4" fill="none"/>
<path d="M321 316.75L323 316.75" stroke="#444" stroke-width="0.4" fill="none"/>
<circle cx="322" cy="299.05" r="0.75" fill="#111"/>
<circle cx="322" cy="316.45" r="0.75" fill="#111"/>
<circle cx="322" cy="306" r="1.05" fill="#111"/>
<circle cx="322.9" cy="305.5" r="0.84" fill="#111"/>
<circle cx="321.2" cy="306.5" r="0.84" fill="#111"/>
<path d="M328 302.5L328 315" stroke="#444" stroke-width="0.4" fill="none"/>
<path d="M327 302.5L329 302.5" stroke="#444" stroke-width="0.4" fill="none"/>
<path d="M327 315L329 315" stroke="#444" stroke-width="0.4" fill="none"/>
<circle cx="328" cy="302.8" r="0.75" fill="#111"/>
<circle cx="328" cy="314.7" r="0.75" fill="#111"/>
<circle cx="328" cy="313.2" r="1.05" fill="#111"/>
<circle cx="328.9" cy="312.7" r="0.84" fill="#111"/>
<circle cx="327.2" cy="313.7" r="0.84" fill="#111"/>
<circle cx="333.75" cy="306" r="1.05" fill="#111"/>
<circle cx="334.65" cy="305.5" r="0.84" fill="#111"/>
<circle cx="332.95" cy="306.5" r="0.84" fill="#111"/>
<circle cx="344.5" cy="305" r="1.05" fill="#111"/>
<circle cx="345.4" cy="304.5" r="0.84" fill="#111"/>
<circle cx="343.7" cy="305.5" r="0.84" fill="#111"/>
<circle cx="350.5" cy="308" r="1.05" fill="#111"/>
<circle cx="351.4" cy="307.5" r="0.84" fill="#111"/>
<circle cx="349.7" cy="308.5" r="0.84" fill="#111"/>
<circle cx="356.25" cy="310.75" r="1.05" fill="#111"/>
<circle cx="357.15" cy="310.25" r="0.84" fill="#111"/>
<circle cx="355.45" cy="311.25" r="0.84" fill="#111"/>
<path d="M366.25 320.5L366.25 325" stroke="#444" stroke-width="0.4" fill="none"/>
<path d="M365.25 320.5L367.25 320.5" stroke="#444" stroke-width="0.4" fill="none"/>
<path d="M365.25 325L367.25 325" stroke="#444" stroke-width="0.4" fill="none"/>
<circle cx="366.25" cy="320.8" r="0.75" fill="#111"/>
<circle cx="366.25" cy="324.7" r="0.75" fill="#111"/>
<circle cx="366.25" cy="323" r="1.05" fill="#111"/>
<circle cx="367.15" cy="322.5" r="0.84" fill="#111"/>
<circle cx="365.45" cy="323.5" r="0.84" fill="#111"/>
<path d="M372.5 319.5L372.5 325.5" stroke="#444" stroke-width="0.4" fill="none"/>
<path d="M371.5 319.5L373.5 319.5" stroke="#444" stroke-width="0.4" fill="none"/>
<path d="M371.5 325.5L373.5 325.5" stroke="#444" stroke-width="0.4" fill="none"/>
<circle cx="372.5" cy="319.8" r="0.75" fill="#111"/>
<circle cx="372.5" cy="325.2" r="0.75" fill="#111"/>
<circle cx="372.5" cy="322" r="1.05" fill="#111"/>
<circle cx="373.4" cy="321.5" r="0.84" fill="#111"/>
<circle cx="371.7" cy="322.5" r="0.84" fill="#111"/>
<circle cx="378.75" cy="324.5" r="1.05" fill="#111"/>
<circle cx="379.65" cy="324" r="0.84" fill="#111"/>
<circle cx="377.95" cy="325" r="0.84" fill="#111"/>
<path d="M388.75 310.5L388.75 318" stroke="#444" stroke-width="0.4" fill="none"/>
<path d="M387.75 310.5L389.75 310.5" stroke="#444" stroke-width="0.4" fill="none"/>
<path d="M387.75 318L389.75 318" stroke="#444" stroke-width="0.4" fill="none"/>
<circle cx="388.75" cy="310.8" r="0.75" fill="#111"/>
<circle cx="388.75" cy="317.7" r="0.75" fill="#111"/>
<circle cx="388.75" cy="313.75" r="1.05" fill="#111"/>
<circle cx="389.65" cy="313.25" r="0.84" fill="#111"/>
<circle cx="387.95" cy="314.25" r="0.84" fill="#111"/>
<circle cx="394.5" cy="313" r="1.05" fill="#111"/>
<circle cx="395.4" cy="312.5" r="0.84" fill="#111"/>
<circle cx="393.7" cy="313.5" r="0.84" fill="#111"/>
<circle cx="400.75" cy="321.25" r="1.05" fill="#111"/>
<circle cx="401.65" cy="320.75" r="0.84" fill="#111"/>
<circle cx="399.95" cy="321.75" r="0.84" fill="#111"/>
<path d="M375.5 315.75L375.5 295L398 295L398 307.5" stroke="#444" stroke-width="0.5" fill="none"/>
<path d="M368 315.75L383 315.75" stroke="#444" stroke-width="0.5" fill="none"/>
<path d="M393.75 307.5L402.5 307.5" stroke="#444" stroke-width="0.5" fill="none"/>
<text x="386.75" y="294.6" font-size="2.8" text-anchor="middle" font-weight="700" fill="#333">*</text>
<path d="M322 345.4L322 346.6" stroke="#3a3a3a" stroke-width="0.4" fill="none"/>
<text x="322.9" y="347.8" font-size="2.8" text-anchor="end" font-weight="700" fill="#2a2a2a" transform="rotate(-52 322.9 347.8)">T0</text>
<path d="M328 345.4L328 346.6" stroke="#3a3a3a" stroke-width="0.4" fill="none"/>
<text x="328.9" y="347.8" font-size="2.8" text-anchor="end" font-weight="700" fill="#2a2a2a" transform="rotate(-52 328.9 347.8)">A-3D</text>
<path d="M333.75 345.4L333.75 346.6" stroke="#3a3a3a" stroke-width="0.4" fill="none"/>
<text x="334.65" y="347.8" font-size="2.8" text-anchor="end" font-weight="700" fill="#2a2a2a" transform="rotate(-52 334.65 347.8)">40C-1M</text>
<path d="M344.5 345.4L344.5 346.6" stroke="#3a3a3a" stroke-width="0.4" fill="none"/>
<text x="345.4" y="347.8" font-size="2.8" text-anchor="end" font-weight="700" fill="#2a2a2a" transform="rotate(-52 345.4 347.8)">T0</text>
<path d="M350.5 345.4L350.5 346.6" stroke="#3a3a3a" stroke-width="0.4" fill="none"/>
<text x="351.4" y="347.8" font-size="2.8" text-anchor="end" font-weight="700" fill="#2a2a2a" transform="rotate(-52 351.4 347.8)">A-3D</text>
<path d="M356.25 345.4L356.25 346.6" stroke="#3a3a3a" stroke-width="0.4" fill="none"/>
<text x="357.15" y="347.8" font-size="2.8" text-anchor="end" font-weight="700" fill="#2a2a2a" transform="rotate(-52 357.15 347.8)">40C-1M</text>
<path d="M366.25 345.4L366.25 346.6" stroke="#3a3a3a" stroke-width="0.4" fill="none"/>
<text x="367.15" y="347.8" font-size="2.8" text-anchor="end" font-weight="700" fill="#2a2a2a" transform="rotate(-52 367.15 347.8)">T0</text>
<path d="M372.5 345.4L372.5 346.6" stroke="#3a3a3a" stroke-width="0.4" fill="none"/>
<text x="373.4" y="347.8" font-size="2.8" text-anchor="end" font-weight="700" fill="#2a2a2a" transform="rotate(-52 373.4 347.8)">A-3D</text>
<path d="M378.75 345.4L378.75 346.6" stroke="#3a3a3a" stroke-width="0.4" fill="none"/>
<text x="379.65" y="347.8" font-size="2.8" text-anchor="end" font-weight="700" fill="#2a2a2a" transform="rotate(-52 379.65 347.8)">40C-1M</text>
<path d="M388.75 345.4L388.75 346.6" stroke="#3a3a3a" stroke-width="0.4" fill="none"/>
<text x="389.65" y="347.8" font-size="2.8" text-anchor="end" font-weight="700" fill="#2a2a2a" transform="rotate(-52 389.65 347.8)">T0</text>
<path d="M394.5 345.4L394.5 346.6" stroke="#3a3a3a" stroke-width="0.4" fill="none"/>
<text x="395.4" y="347.8" font-size="2.8" text-anchor="end" font-weight="700" fill="#2a2a2a" transform="rotate(-52 395.4 347.8)">A-3D</text>
<path d="M400.75 345.4L400.75 346.6" stroke="#3a3a3a" stroke-width="0.4" fill="none"/>
<text x="401.65" y="347.8" font-size="2.8" text-anchor="end" font-weight="700" fill="#2a2a2a" transform="rotate(-52 401.65 347.8)">40C-1M</text>
<path d="M320 359.5L335.5 359.5" stroke="#333" stroke-width="0.45" fill="none"/>
<text x="327.75" y="363.97" font-size="2.7" text-anchor="middle" font-weight="700" fill="#2a2a2a">Spray-on</text>
<path d="M342 359.5L358 359.5" stroke="#333" stroke-width="0.45" fill="none"/>
<text x="350" y="363.97" font-size="2.7" text-anchor="middle" font-weight="700" fill="#2a2a2a">Cross-linked</text>
<path d="M364 359.5L380.5 359.5" stroke="#333" stroke-width="0.45" fill="none"/>
<text x="372.25" y="363.97" font-size="2.7" text-anchor="middle" font-weight="700" fill="#2a2a2a">Spray-on</text>
<path d="M386.5 359.5L403 359.5" stroke="#333" stroke-width="0.45" fill="none"/>
<text x="394.75" y="363.97" font-size="2.7" text-anchor="middle" font-weight="700" fill="#2a2a2a">Cross-linked</text>
<path d="M320 366.75L358 366.75" stroke="#333" stroke-width="0.55" fill="none"/>
<path d="M364 366.75L403 366.75" stroke="#333" stroke-width="0.55" fill="none"/>
<text x="339.3" y="372.4" font-size="3.3" text-anchor="middle" font-weight="700" fill="#2a2a2a">DS</text>
<text x="384.5" y="372.4" font-size="3.3" text-anchor="middle" font-weight="700" fill="#2a2a2a">Placebo</text>
<path d="M445 283L445 342" stroke="#3a3a3a" stroke-width="0.5" fill="none"/>
<path d="M444.75 341.75L532.5 341.75" stroke="#3a3a3a" stroke-width="0.5" fill="none"/>
<path d="M443.4 293.75L445 293.75" stroke="#3a3a3a" stroke-width="0.45" fill="none"/>
<text x="442.7" y="294.85" font-size="3.2" text-anchor="end" font-weight="700" fill="#2a2a2a">10</text>
<path d="M443.4 317.5L445 317.5" stroke="#3a3a3a" stroke-width="0.45" fill="none"/>
<text x="442.7" y="318.6" font-size="3.2" text-anchor="end" font-weight="700" fill="#2a2a2a">5</text>
<path d="M443.4 341.75L445 341.75" stroke="#3a3a3a" stroke-width="0.45" fill="none"/>
<text x="442.7" y="342.85" font-size="3.2" text-anchor="end" font-weight="700" fill="#2a2a2a">0</text>
<path d="M444.1 298.5L445 298.5" stroke="#555" stroke-width="0.35" fill="none"/>
<path d="M444.1 303.25L445 303.25" stroke="#555" stroke-width="0.35" fill="none"/>
<path d="M444.1 308L445 308" stroke="#555" stroke-width="0.35" fill="none"/>
<path d="M444.1 312.75L445 312.75" stroke="#555" stroke-width="0.35" fill="none"/>
<path d="M444.1 322.35L445 322.35" stroke="#555" stroke-width="0.35" fill="none"/>
<path d="M444.1 327.2L445 327.2" stroke="#555" stroke-width="0.35" fill="none"/>
<path d="M444.1 332.05L445 332.05" stroke="#555" stroke-width="0.35" fill="none"/>
<path d="M444.1 336.9L445 336.9" stroke="#555" stroke-width="0.35" fill="none"/>
<text x="435.6" y="311" font-size="3.1" text-anchor="middle" font-weight="700" fill="#2a2a2a" transform="rotate(-90 435.6 311)" textLength="40" lengthAdjust="spacingAndGlyphs">Max glide force (N)</text>
<path d="M450 291.25L450 311.25" stroke="#444" stroke-width="0.4" fill="none"/>
<path d="M449 291.25L451 291.25" stroke="#444" stroke-width="0.4" fill="none"/>
<path d="M449 311.25L451 311.25" stroke="#444" stroke-width="0.4" fill="none"/>
<circle cx="450" cy="291.55" r="0.75" fill="#111"/>
<circle cx="450" cy="310.95" r="0.75" fill="#111"/>
<circle cx="450" cy="300" r="1.05" fill="#111"/>
<circle cx="450.9" cy="299.5" r="0.84" fill="#111"/>
<circle cx="449.2" cy="300.5" r="0.84" fill="#111"/>
<path d="M455.75 295L455.75 313.75" stroke="#444" stroke-width="0.4" fill="none"/>
<path d="M454.75 295L456.75 295" stroke="#444" stroke-width="0.4" fill="none"/>
<path d="M454.75 313.75L456.75 313.75" stroke="#444" stroke-width="0.4" fill="none"/>
<circle cx="455.75" cy="295.3" r="0.75" fill="#111"/>
<circle cx="455.75" cy="313.45" r="0.75" fill="#111"/>
<circle cx="455.75" cy="310" r="1.05" fill="#111"/>
<circle cx="456.65" cy="309.5" r="0.84" fill="#111"/>
<circle cx="454.95" cy="310.5" r="0.84" fill="#111"/>
<path d="M461.75 296.25L461.75 302.5" stroke="#444" stroke-width="0.4" fill="none"/>
<path d="M460.75 296.25L462.75 296.25" stroke="#444" stroke-width="0.4" fill="none"/>
<path d="M460.75 302.5L462.75 302.5" stroke="#444" stroke-width="0.4" fill="none"/>
<circle cx="461.75" cy="296.55" r="0.75" fill="#111"/>
<circle cx="461.75" cy="302.2" r="0.75" fill="#111"/>
<circle cx="461.75" cy="298.75" r="1.05" fill="#111"/>
<circle cx="462.65" cy="298.25" r="0.84" fill="#111"/>
<circle cx="460.95" cy="299.25" r="0.84" fill="#111"/>
<circle cx="471.75" cy="296.75" r="1.05" fill="#111"/>
<circle cx="472.65" cy="296.25" r="0.84" fill="#111"/>
<circle cx="470.95" cy="297.25" r="0.84" fill="#111"/>
<circle cx="478" cy="298.25" r="1.05" fill="#111"/>
<circle cx="478.9" cy="297.75" r="0.84" fill="#111"/>
<circle cx="477.2" cy="298.75" r="0.84" fill="#111"/>
<circle cx="484.25" cy="304.25" r="1.05" fill="#111"/>
<circle cx="485.15" cy="303.75" r="0.84" fill="#111"/>
<circle cx="483.45" cy="304.75" r="0.84" fill="#111"/>
<circle cx="493.75" cy="313.75" r="1.05" fill="#111"/>
<circle cx="494.65" cy="313.25" r="0.84" fill="#111"/>
<circle cx="492.95" cy="314.25" r="0.84" fill="#111"/>
<circle cx="500" cy="314.25" r="1.05" fill="#111"/>
<circle cx="500.9" cy="313.75" r="0.84" fill="#111"/>
<circle cx="499.2" cy="314.75" r="0.84" fill="#111"/>
<circle cx="506.25" cy="318.25" r="1.05" fill="#111"/>
<circle cx="507.15" cy="317.75" r="0.84" fill="#111"/>
<circle cx="505.45" cy="318.75" r="0.84" fill="#111"/>
<path d="M516.25 301L516.25 305.5" stroke="#444" stroke-width="0.4" fill="none"/>
<path d="M515.25 301L517.25 301" stroke="#444" stroke-width="0.4" fill="none"/>
<path d="M515.25 305.5L517.25 305.5" stroke="#444" stroke-width="0.4" fill="none"/>
<circle cx="516.25" cy="301.3" r="0.75" fill="#111"/>
<circle cx="516.25" cy="305.2" r="0.75" fill="#111"/>
<circle cx="516.25" cy="303.75" r="1.05" fill="#111"/>
<circle cx="517.15" cy="303.25" r="0.84" fill="#111"/>
<circle cx="515.45" cy="304.25" r="0.84" fill="#111"/>
<circle cx="522" cy="303.75" r="1.05" fill="#111"/>
<circle cx="522.9" cy="303.25" r="0.84" fill="#111"/>
<circle cx="521.2" cy="304.25" r="0.84" fill="#111"/>
<circle cx="528.25" cy="311.25" r="1.05" fill="#111"/>
<circle cx="529.15" cy="310.75" r="0.84" fill="#111"/>
<circle cx="527.45" cy="311.75" r="0.84" fill="#111"/>
<path d="M503.25 307L503.25 286.25L526.25 286.25L526.25 299.25" stroke="#444" stroke-width="0.5" fill="none"/>
<path d="M499.5 307L508 307" stroke="#444" stroke-width="0.5" fill="none"/>
<path d="M521.25 299.25L530 299.25" stroke="#444" stroke-width="0.5" fill="none"/>
<text x="514.75" y="285.85" font-size="2.8" text-anchor="middle" font-weight="700" fill="#333">**</text>
<path d="M450 344.1L450 345.3" stroke="#3a3a3a" stroke-width="0.4" fill="none"/>
<text x="450.9" y="346.5" font-size="2.8" text-anchor="end" font-weight="700" fill="#2a2a2a" transform="rotate(-52 450.9 346.5)">T0</text>
<path d="M455.75 344.1L455.75 345.3" stroke="#3a3a3a" stroke-width="0.4" fill="none"/>
<text x="456.65" y="346.5" font-size="2.8" text-anchor="end" font-weight="700" fill="#2a2a2a" transform="rotate(-52 456.65 346.5)">A-3D</text>
<path d="M461.75 344.1L461.75 345.3" stroke="#3a3a3a" stroke-width="0.4" fill="none"/>
<text x="462.65" y="346.5" font-size="2.8" text-anchor="end" font-weight="700" fill="#2a2a2a" transform="rotate(-52 462.65 346.5)">40C-1M</text>
<path d="M471.75 344.1L471.75 345.3" stroke="#3a3a3a" stroke-width="0.4" fill="none"/>
<text x="472.65" y="346.5" font-size="2.8" text-anchor="end" font-weight="700" fill="#2a2a2a" transform="rotate(-52 472.65 346.5)">T0</text>
<path d="M478 344.1L478 345.3" stroke="#3a3a3a" stroke-width="0.4" fill="none"/>
<text x="478.9" y="346.5" font-size="2.8" text-anchor="end" font-weight="700" fill="#2a2a2a" transform="rotate(-52 478.9 346.5)">A-3D</text>
<path d="M484.25 344.1L484.25 345.3" stroke="#3a3a3a" stroke-width="0.4" fill="none"/>
<text x="485.15" y="346.5" font-size="2.8" text-anchor="end" font-weight="700" fill="#2a2a2a" transform="rotate(-52 485.15 346.5)">40C-1M</text>
<path d="M493.75 344.1L493.75 345.3" stroke="#3a3a3a" stroke-width="0.4" fill="none"/>
<text x="494.65" y="346.5" font-size="2.8" text-anchor="end" font-weight="700" fill="#2a2a2a" transform="rotate(-52 494.65 346.5)">T0</text>
<path d="M500 344.1L500 345.3" stroke="#3a3a3a" stroke-width="0.4" fill="none"/>
<text x="500.9" y="346.5" font-size="2.8" text-anchor="end" font-weight="700" fill="#2a2a2a" transform="rotate(-52 500.9 346.5)">A-3D</text>
<path d="M506.25 344.1L506.25 345.3" stroke="#3a3a3a" stroke-width="0.4" fill="none"/>
<text x="507.15" y="346.5" font-size="2.8" text-anchor="end" font-weight="700" fill="#2a2a2a" transform="rotate(-52 507.15 346.5)">40C-1M</text>
<path d="M516.25 344.1L516.25 345.3" stroke="#3a3a3a" stroke-width="0.4" fill="none"/>
<text x="517.15" y="346.5" font-size="2.8" text-anchor="end" font-weight="700" fill="#2a2a2a" transform="rotate(-52 517.15 346.5)">T0</text>
<path d="M522 344.1L522 345.3" stroke="#3a3a3a" stroke-width="0.4" fill="none"/>
<text x="522.9" y="346.5" font-size="2.8" text-anchor="end" font-weight="700" fill="#2a2a2a" transform="rotate(-52 522.9 346.5)">A-3D</text>
<path d="M528.25 344.1L528.25 345.3" stroke="#3a3a3a" stroke-width="0.4" fill="none"/>
<text x="529.15" y="346.5" font-size="2.8" text-anchor="end" font-weight="700" fill="#2a2a2a" transform="rotate(-52 529.15 346.5)">40C-1M</text>
<path d="M447.5 358L463.5 358" stroke="#333" stroke-width="0.45" fill="none"/>
<text x="455.5" y="362.67" font-size="2.7" text-anchor="middle" font-weight="700" fill="#2a2a2a">Spray-on</text>
<path d="M469.5 358L486.5 358" stroke="#333" stroke-width="0.45" fill="none"/>
<text x="478" y="362.67" font-size="2.7" text-anchor="middle" font-weight="700" fill="#2a2a2a">Cross-linked</text>
<path d="M491.5 358L508.5 358" stroke="#333" stroke-width="0.45" fill="none"/>
<text x="500" y="362.67" font-size="2.7" text-anchor="middle" font-weight="700" fill="#2a2a2a">Spray-on</text>
<path d="M514 358L530.5 358" stroke="#333" stroke-width="0.45" fill="none"/>
<text x="522.25" y="362.67" font-size="2.7" text-anchor="middle" font-weight="700" fill="#2a2a2a">Cross-linked</text>
<path d="M447.5 365.75L486.5 365.75" stroke="#333" stroke-width="0.55" fill="none"/>
<path d="M491.5 365.75L530.5 365.75" stroke="#333" stroke-width="0.55" fill="none"/>
<text x="467" y="371.4" font-size="3.3" text-anchor="middle" font-weight="700" fill="#2a2a2a">DS</text>
<text x="512.5" y="371.4" font-size="3.3" text-anchor="middle" font-weight="700" fill="#2a2a2a">Placebo</text>
</g>
<g id="fig2">
<text x="358.25" y="476.8" font-size="3.2" text-anchor="middle" font-weight="700" fill="#222" textLength="26" lengthAdjust="spacingAndGlyphs">MFI, No filter</text>
<rect x="316.5" y="520" width="2" height="15" fill="#6767f8"/>
<rect x="318.4" y="534.25" width="2" height="0.75" fill="#f25353"/>
<rect x="324" y="500.75" width="2" height="34.25" fill="#6767f8"/>
<rect x="325.9" y="520" width="2" height="15" fill="#f25353"/>
<rect x="327.8" y="532.5" width="2" height="2.5" fill="#35c240"/>
<rect x="331" y="485" width="2" height="50" fill="#6767f8"/>
<rect x="332.9" y="490" width="2" height="45" fill="#f25353"/>
<rect x="334.8" y="495" width="2" height="40" fill="#35c240"/>
<rect x="344.5" y="520" width="2" height="15" fill="#6767f8"/>
<rect x="346.4" y="533.25" width="2" height="1.75" fill="#f25353"/>
<rect x="344.5" y="512.5" width="2" height="1.6" fill="#6767f8"/>
<rect x="352" y="500.75" width="2" height="34.25" fill="#6767f8"/>
<rect x="353.9" y="510.75" width="2" height="24.25" fill="#f25353"/>
<rect x="355.8" y="525.75" width="2" height="9.25" fill="#35c240"/>
<rect x="359" y="486.25" width="2" height="48.75" fill="#6767f8"/>
<rect x="360.9" y="489.25" width="2" height="45.75" fill="#f25353"/>
<rect x="362.8" y="494.5" width="2" height="40.5" fill="#35c240"/>
<rect x="372.75" y="520" width="2" height="15" fill="#6767f8"/>
<rect x="380.25" y="520" width="2" height="15" fill="#6767f8"/>
<rect x="382.15" y="534" width="2" height="1" fill="#f25353"/>
<rect x="387.25" y="500.75" width="2" height="34.25" fill="#6767f8"/>
<rect x="389.15" y="520" width="2" height="15" fill="#f25353"/>
<rect x="391.05" y="533" width="2" height="2" fill="#35c240"/>
<rect x="314.05" y="497.8" width="80" height="1.2" fill="#f6f6f6"/>
<rect x="314.05" y="517.6" width="80" height="1.2" fill="#f6f6f6"/>
<path d="M313.75 482L313.75 535.25" stroke="#3a3a3a" stroke-width="0.5" fill="none"/>
<path d="M313.5 535L393.75 535" stroke="#3a3a3a" stroke-width="0.5" fill="none"/>
<path d="M312.15 482.5L313.75 482.5" stroke="#3a3a3a" stroke-width="0.45" fill="none"/>
<text x="311.45" y="483.6" font-size="3.2" text-anchor="end" font-weight="700" fill="#2a2a2a">300000</text>
<path d="M312.15 492L313.75 492" stroke="#3a3a3a" stroke-width="0.45" fill="none"/>
<text x="311.45" y="493.1" font-size="3.2" text-anchor="end" font-weight="700" fill="#2a2a2a">200000</text>
<path d="M312.15 500.75L313.75 500.75" stroke="#3a3a3a" stroke-width="0.45" fill="none"/>
<text x="311.45" y="501.85" font-size="3.2" text-anchor="end" font-weight="700" fill="#2a2a2a">10000</text>
<path d="M312.15 516.25L313.75 516.25" stroke="#3a3a3a" stroke-width="0.45" fill="none"/>
<text x="311.45" y="517.35" font-size="3.2" text-anchor="end" font-weight="700" fill="#2a2a2a">5000</text>
<path d="M312.15 519.8L313.75 519.8" stroke="#3a3a3a" stroke-width="0.45" fill="none"/>
<text x="311.45" y="520.9" font-size="3.2" text-anchor="end" font-weight="700" fill="#2a2a2a">1000</text>
<path d="M312.15 527.5L313.75 527.5" stroke="#3a3a3a" stroke-width="0.45" fill="none"/>
<text x="311.45" y="528.6" font-size="3.2" text-anchor="end" font-weight="700" fill="#2a2a2a">500</text>
<path d="M312.15 535L313.75 535" stroke="#3a3a3a" stroke-width="0.45" fill="none"/>
<text x="311.45" y="536.1" font-size="3.2" text-anchor="end" font-weight="700" fill="#2a2a2a">0</text>
<rect x="312.25" y="497.5" width="3" height="1.4" fill="#f6f6f6"/>
<path d="M312.45 497.5L315.05 497.5" stroke="#3a3a3a" stroke-width="0.35" fill="none"/>
<path d="M312.45 498.9L315.05 498.9" stroke="#3a3a3a" stroke-width="0.35" fill="none"/>
<rect x="312.25" y="517.3" width="3" height="1.4" fill="#f6f6f6"/>
<path d="M312.45 517.3L315.05 517.3" stroke="#3a3a3a" stroke-width="0.35" fill="none"/>
<path d="M312.45 518.7L315.05 518.7" stroke="#3a3a3a" stroke-width="0.35" fill="none"/>
<text x="296" y="507.5" font-size="3.1" text-anchor="middle" font-weight="700" fill="#2a2a2a" transform="rotate(-90 296 507.5)" textLength="44" lengthAdjust="spacingAndGlyphs">Concentration (#/mL)</text>
<rect x="394.9" y="483.15" width="2.7" height="2.7" fill="#3535ff"/>
<text x="399.45" y="485.65" font-size="3.2" font-weight="700" fill="#333" textLength="13.24" lengthAdjust="spacingAndGlyphs">&gt; 2 µm</text>
<rect x="394.9" y="490.4" width="2.7" height="2.7" fill="#ff3030"/>
<text x="399.45" y="492.9" font-size="3.2" font-weight="700" fill="#333" textLength="16.55" lengthAdjust="spacingAndGlyphs">&gt; 10 µm</text>
<rect x="394.9" y="497.9" width="2.7" height="2.7" fill="#28c832"/>
<text x="399.45" y="500.4" font-size="3.2" font-weight="700" fill="#333" textLength="16.55" lengthAdjust="spacingAndGlyphs">&gt; 25 µm</text>
<path d="M317.5 537L317.5 538.2" stroke="#3a3a3a" stroke-width="0.4" fill="none"/>
<text x="318.4" y="539.4" font-size="2.8" text-anchor="end" font-weight="700" fill="#2a2a2a" transform="rotate(-52 318.4 539.4)">T0</text>
<path d="M325 537L325 538.2" stroke="#3a3a3a" stroke-width="0.4" fill="none"/>
<text x="325.9" y="539.4" font-size="2.8" text-anchor="end" font-weight="700" fill="#2a2a2a" transform="rotate(-52 325.9 539.4)">A-3D</text>
<path d="M332 537L332 538.2" stroke="#3a3a3a" stroke-width="0.4" fill="none"/>
<text x="332.9" y="539.4" font-size="2.8" text-anchor="end" font-weight="700" fill="#2a2a2a" transform="rotate(-52 332.9 539.4)">40C-1M</text>
<path d="M345.5 537L345.5 538.2" stroke="#3a3a3a" stroke-width="0.4" fill="none"/>
<text x="346.4" y="539.4" font-size="2.8" text-anchor="end" font-weight="700" fill="#2a2a2a" transform="rotate(-52 346.4 539.4)">T0</text>
<path d="M353 537L353 538.2" stroke="#3a3a3a" stroke-width="0.4" fill="none"/>
<text x="353.9" y="539.4" font-size="2.8" text-anchor="end" font-weight="700" fill="#2a2a2a" transform="rotate(-52 353.9 539.4)">A-3D</text>
<path d="M360 537L360 538.2" stroke="#3a3a3a" stroke-width="0.4" fill="none"/>
<text x="360.9" y="539.4" font-size="2.8" text-anchor="end" font-weight="700" fill="#2a2a2a" transform="rotate(-52 360.9 539.4)">40C-1M</text>
<path d="M373.75 537L373.75 538.2" stroke="#3a3a3a" stroke-width="0.4" fill="none"/>
<text x="374.65" y="539.4" font-size="2.8" text-anchor="end" font-weight="700" fill="#2a2a2a" transform="rotate(-52 374.65 539.4)">T0</text>
<path d="M381.25 537L381.25 538.2" stroke="#3a3a3a" stroke-width="0.4" fill="none"/>
<text x="382.15" y="539.4" font-size="2.8" text-anchor="end" font-weight="700" fill="#2a2a2a" transform="rotate(-52 382.15 539.4)">A-3D</text>
<path d="M388.25 537L388.25 538.2" stroke="#3a3a3a" stroke-width="0.4" fill="none"/>
<text x="389.15" y="539.4" font-size="2.8" text-anchor="end" font-weight="700" fill="#2a2a2a" transform="rotate(-52 389.15 539.4)">40C-1M</text>
<path d="M317.5 550L338.75 550" stroke="#333" stroke-width="0.55" fill="none"/>
<text x="328.12" y="556.4" font-size="3.2" text-anchor="middle" font-weight="700" fill="#2a2a2a" textLength="21.5" lengthAdjust="spacingAndGlyphs">Excipient 1</text>
<path d="M343.75 550L362.5 550" stroke="#333" stroke-width="0.55" fill="none"/>
<text x="353.12" y="556.4" font-size="3.2" text-anchor="middle" font-weight="700" fill="#2a2a2a" textLength="21.5" lengthAdjust="spacingAndGlyphs">Excipient 2</text>
<path d="M371.25 550L390 550" stroke="#333" stroke-width="0.55" fill="none"/>
<text x="380.62" y="556.4" font-size="3.2" text-anchor="middle" font-weight="700" fill="#2a2a2a" textLength="21.5" lengthAdjust="spacingAndGlyphs">Excipient 3</text>
<text x="488.1" y="476.8" font-size="3.1" text-anchor="middle" font-weight="700" fill="#222" textLength="67.5" lengthAdjust="spacingAndGlyphs">MFI, AR &gt; 0.85, Intensity STD &gt; 180</text>
<rect x="449.75" y="515" width="2" height="21.75" fill="#6767f8"/>
<rect x="451.65" y="526.75" width="2" height="10" fill="#f25353"/>
<rect x="449.75" y="510.4" width="2" height="1.6" fill="#6767f8"/>
<rect x="456.5" y="507.5" width="2" height="29.25" fill="#6767f8"/>
<rect x="458.4" y="525.75" width="2" height="11" fill="#f25353"/>
<rect x="463.25" y="488.75" width="2" height="48" fill="#6767f8"/>
<rect x="465.15" y="515" width="2" height="21.75" fill="#f25353"/>
<rect x="467.05" y="535.75" width="2" height="1" fill="#35c240"/>
<rect x="476" y="506.25" width="2" height="30.5" fill="#6767f8"/>
<rect x="477.9" y="520.5" width="2" height="16.25" fill="#f25353"/>
<rect x="482.75" y="502" width="2" height="34.75" fill="#6767f8"/>
<rect x="484.65" y="515" width="2" height="21.75" fill="#f25353"/>
<rect x="486.55" y="533" width="2" height="3.75" fill="#35c240"/>
<rect x="489" y="497" width="2" height="39.75" fill="#6767f8"/>
<rect x="490.9" y="515.5" width="2" height="21.25" fill="#f25353"/>
<rect x="502.25" y="515" width="2" height="21.75" fill="#6767f8"/>
<rect x="504.15" y="535.75" width="2" height="1" fill="#f25353"/>
<rect x="509" y="515" width="2" height="21.75" fill="#6767f8"/>
<rect x="510.9" y="531.25" width="2" height="5.5" fill="#f25353"/>
<rect x="515.25" y="500" width="2" height="36.75" fill="#6767f8"/>
<rect x="517.15" y="526.25" width="2" height="10.5" fill="#f25353"/>
<rect x="448.3" y="512.9" width="73.25" height="1.2" fill="#f6f6f6"/>
<path d="M448 487.5L448 537" stroke="#3a3a3a" stroke-width="0.5" fill="none"/>
<path d="M447.75 536.75L521.25 536.75" stroke="#3a3a3a" stroke-width="0.5" fill="none"/>
<path d="M446.4 488.25L448 488.25" stroke="#3a3a3a" stroke-width="0.45" fill="none"/>
<text x="445.7" y="489.35" font-size="3.2" text-anchor="end" font-weight="700" fill="#2a2a2a">15000</text>
<path d="M446.4 500.75L448 500.75" stroke="#3a3a3a" stroke-width="0.45" fill="none"/>
<text x="445.7" y="501.85" font-size="3.2" text-anchor="end" font-weight="700" fill="#2a2a2a">10000</text>
<path d="M446.4 511.25L448 511.25" stroke="#3a3a3a" stroke-width="0.45" fill="none"/>
<text x="445.7" y="512.35" font-size="3.2" text-anchor="end" font-weight="700" fill="#2a2a2a">5000</text>
<path d="M446.4 515L448 515" stroke="#3a3a3a" stroke-width="0.45" fill="none"/>
<text x="445.7" y="516.1" font-size="3.2" text-anchor="end" font-weight="700" fill="#2a2a2a">1000</text>
<path d="M446.4 526.25L448 526.25" stroke="#3a3a3a" stroke-width="0.45" fill="none"/>
<text x="445.7" y="527.35" font-size="3.2" text-anchor="end" font-weight="700" fill="#2a2a2a">500</text>
<path d="M446.4 536.75L448 536.75" stroke="#3a3a3a" stroke-width="0.45" fill="none"/>
<text x="445.7" y="537.85" font-size="3.2" text-anchor="end" font-weight="700" fill="#2a2a2a">0</text>
<rect x="446.5" y="512.5" width="3" height="1.4" fill="#f6f6f6"/>
<path d="M446.7 512.5L449.3 512.5" stroke="#3a3a3a" stroke-width="0.35" fill="none"/>
<path d="M446.7 513.9L449.3 513.9" stroke="#3a3a3a" stroke-width="0.35" fill="none"/>
<text x="434" y="512.5" font-size="3.1" text-anchor="middle" font-weight="700" fill="#2a2a2a" transform="rotate(-90 434 512.5)" textLength="42" lengthAdjust="spacingAndGlyphs">Concentration (#/mL)</text>
<rect x="525.65" y="490.4" width="2.7" height="2.7" fill="#3535ff"/>
<text x="530.2" y="492.9" font-size="3.2" font-weight="700" fill="#333" textLength="13.44" lengthAdjust="spacingAndGlyphs">&gt; 2 µm</text>
<rect x="525.65" y="497.15" width="2.7" height="2.7" fill="#ff3030"/>
<text x="530.2" y="499.65" font-size="3.2" font-weight="700" fill="#333" textLength="16.8" lengthAdjust="spacingAndGlyphs">&gt; 10 µm</text>
<rect x="525.65" y="504.15" width="2.7" height="2.7" fill="#28c832"/>
<text x="530.2" y="506.65" font-size="3.2" font-weight="700" fill="#333" textLength="16.8" lengthAdjust="spacingAndGlyphs">&gt; 25 µm</text>
<path d="M450.75 538.7L450.75 539.9" stroke="#3a3a3a" stroke-width="0.4" fill="none"/>
<text x="451.65" y="541.1" font-size="2.8" text-anchor="end" font-weight="700" fill="#2a2a2a" transform="rotate(-52 451.65 541.1)">T0</text>
<path d="M457.5 538.7L457.5 539.9" stroke="#3a3a3a" stroke-width="0.4" fill="none"/>
<text x="458.4" y="541.1" font-size="2.8" text-anchor="end" font-weight="700" fill="#2a2a2a" transform="rotate(-52 458.4 541.1)">A-3D</text>
<path d="M464.25 538.7L464.25 539.9" stroke="#3a3a3a" stroke-width="0.4" fill="none"/>
<text x="465.15" y="541.1" font-size="2.8" text-anchor="end" font-weight="700" fill="#2a2a2a" transform="rotate(-52 465.15 541.1)">40C-1M</text>
<path d="M477 538.7L477 539.9" stroke="#3a3a3a" stroke-width="0.4" fill="none"/>
<text x="477.9" y="541.1" font-size="2.8" text-anchor="end" font-weight="700" fill="#2a2a2a" transform="rotate(-52 477.9 541.1)">T0</text>
<path d="M483.75 538.7L483.75 539.9" stroke="#3a3a3a" stroke-width="0.4" fill="none"/>
<text x="484.65" y="541.1" font-size="2.8" text-anchor="end" font-weight="700" fill="#2a2a2a" transform="rotate(-52 484.65 541.1)">A-3D</text>
<path d="M490 538.7L490 539.9" stroke="#3a3a3a" stroke-width="0.4" fill="none"/>
<text x="490.9" y="541.1" font-size="2.8" text-anchor="end" font-weight="700" fill="#2a2a2a" transform="rotate(-52 490.9 541.1)">40C-1M</text>
<path d="M503.25 538.7L503.25 539.9" stroke="#3a3a3a" stroke-width="0.4" fill="none"/>
<text x="504.15" y="541.1" font-size="2.8" text-anchor="end" font-weight="700" fill="#2a2a2a" transform="rotate(-52 504.15 541.1)">T0</text>
<path d="M510 538.7L510 539.9" stroke="#3a3a3a" stroke-width="0.4" fill="none"/>
<text x="510.9" y="541.1" font-size="2.8" text-anchor="end" font-weight="700" fill="#2a2a2a" transform="rotate(-52 510.9 541.1)">A-3D</text>
<path d="M516.25 538.7L516.25 539.9" stroke="#3a3a3a" stroke-width="0.4" fill="none"/>
<text x="517.15" y="541.1" font-size="2.8" text-anchor="end" font-weight="700" fill="#2a2a2a" transform="rotate(-52 517.15 541.1)">40C-1M</text>
<path d="M450 551.25L467.5 551.25" stroke="#333" stroke-width="0.55" fill="none"/>
<text x="458.75" y="556.9" font-size="3.2" text-anchor="middle" font-weight="700" fill="#2a2a2a" textLength="20.5" lengthAdjust="spacingAndGlyphs">Excipient 1</text>
<path d="M475 551.25L492.5 551.25" stroke="#333" stroke-width="0.55" fill="none"/>
<text x="483.75" y="556.9" font-size="3.2" text-anchor="middle" font-weight="700" fill="#2a2a2a" textLength="20.5" lengthAdjust="spacingAndGlyphs">Excipient 2</text>
<path d="M500 551.25L517.5 551.25" stroke="#333" stroke-width="0.55" fill="none"/>
<text x="508.75" y="556.9" font-size="3.2" text-anchor="middle" font-weight="700" fill="#2a2a2a" textLength="20.5" lengthAdjust="spacingAndGlyphs">Excipient 3</text>
<path d="M583 506.25L583 522.5" stroke="#a3a3fb" stroke-width="0.45" fill="none" opacity="0.6"/>
<path d="M581.8 506.25L584.2 506.25" stroke="#a3a3fb" stroke-width="0.45" fill="none" opacity="0.6"/>
<rect x="580.35" y="522.5" width="5.3" height="18.75" fill="#a3a3fb"/>
<path d="M591.25 513.75L591.25 530.5" stroke="#a3a3fb" stroke-width="0.45" fill="none" opacity="0.6"/>
<path d="M590.05 513.75L592.45 513.75" stroke="#a3a3fb" stroke-width="0.45" fill="none" opacity="0.6"/>
<rect x="588.6" y="530.5" width="5.3" height="10.75" fill="#a3a3fb"/>
<path d="M599.25 520.5L599.25 535.75" stroke="#a3a3fb" stroke-width="0.45" fill="none" opacity="0.6"/>
<path d="M598.05 520.5L600.45 520.5" stroke="#a3a3fb" stroke-width="0.45" fill="none" opacity="0.6"/>
<rect x="596.6" y="535.75" width="5.3" height="5.5" fill="#a3a3fb"/>
<path d="M612 505.5L612 520" stroke="#f6a6a6" stroke-width="0.45" fill="none" opacity="0.6"/>
<path d="M610.8 505.5L613.2 505.5" stroke="#f6a6a6" stroke-width="0.45" fill="none" opacity="0.6"/>
<rect x="609.35" y="520" width="5.3" height="21.25" fill="#f6a6a6"/>
<path d="M620 491.75L620 518.25" stroke="#f6a6a6" stroke-width="0.45" fill="none" opacity="0.6"/>
<path d="M618.8 491.75L621.2 491.75" stroke="#f6a6a6" stroke-width="0.45" fill="none" opacity="0.6"/>
<rect x="617.35" y="518.25" width="5.3" height="23" fill="#f6a6a6"/>
<path d="M628 511.25L628 532.5" stroke="#f6a6a6" stroke-width="0.45" fill="none" opacity="0.6"/>
<path d="M626.8 511.25L629.2 511.25" stroke="#f6a6a6" stroke-width="0.45" fill="none" opacity="0.6"/>
<rect x="625.35" y="532.5" width="5.3" height="8.75" fill="#f6a6a6"/>
<path d="M641.25 508.75L641.25 520.5" stroke="#a6dca9" stroke-width="0.45" fill="none" opacity="0.6"/>
<path d="M640.05 508.75L642.45 508.75" stroke="#a6dca9" stroke-width="0.45" fill="none" opacity="0.6"/>
<rect x="638.6" y="520.5" width="5.3" height="20.75" fill="#a6dca9"/>
<path d="M649.25 492.5L649.25 517.5" stroke="#a6dca9" stroke-width="0.45" fill="none" opacity="0.6"/>
<path d="M648.05 492.5L650.45 492.5" stroke="#a6dca9" stroke-width="0.45" fill="none" opacity="0.6"/>
<rect x="646.6" y="517.5" width="5.3" height="23.75" fill="#a6dca9"/>
<path d="M657.5 516.25L657.5 533" stroke="#a6dca9" stroke-width="0.45" fill="none" opacity="0.6"/>
<path d="M656.3 516.25L658.7 516.25" stroke="#a6dca9" stroke-width="0.45" fill="none" opacity="0.6"/>
<rect x="654.85" y="533" width="5.3" height="8.25" fill="#a6dca9"/>
<path d="M578 484.5L578 541.5" stroke="#3a3a3a" stroke-width="0.5" fill="none"/>
<path d="M577.75 541.25L662.5 541.25" stroke="#3a3a3a" stroke-width="0.5" fill="none"/>
<path d="M576.4 485L578 485" stroke="#3a3a3a" stroke-width="0.45" fill="none"/>
<text x="575.7" y="486.1" font-size="3.2" text-anchor="end" font-weight="700" fill="#2a2a2a">300</text>
<path d="M576.4 504.25L578 504.25" stroke="#3a3a3a" stroke-width="0.45" fill="none"/>
<text x="575.7" y="505.35" font-size="3.2" text-anchor="end" font-weight="700" fill="#2a2a2a">200</text>
<path d="M576.4 522.5L578 522.5" stroke="#3a3a3a" stroke-width="0.45" fill="none"/>
<text x="575.7" y="523.6" font-size="3.2" text-anchor="end" font-weight="700" fill="#2a2a2a">100</text>
<path d="M576.4 541.25L578 541.25" stroke="#3a3a3a" stroke-width="0.45" fill="none"/>
<text x="575.7" y="542.35" font-size="3.2" text-anchor="end" font-weight="700" fill="#2a2a2a">0</text>
<text x="565.8" y="512.5" font-size="3.3" text-anchor="middle" font-weight="700" fill="#2a2a2a" transform="rotate(-90 565.8 512.5)" textLength="74" lengthAdjust="spacingAndGlyphs">Silicone oil layer thickness (nm)</text>
<rect x="667.25" y="486.75" width="3" height="3" fill="#a3a3fb"/>
<text x="671.95" y="489.55" font-size="3.6" font-weight="700" fill="#333" textLength="26.5" lengthAdjust="spacingAndGlyphs">Excipient 1</text>
<rect x="667.25" y="494.75" width="3" height="3" fill="#f6a6a6"/>
<text x="671.95" y="497.55" font-size="3.6" font-weight="700" fill="#333" textLength="26.5" lengthAdjust="spacingAndGlyphs">Excipient 2</text>
<rect x="667.25" y="503" width="3" height="3" fill="#a6dca9"/>
<text x="671.95" y="505.8" font-size="3.6" font-weight="700" fill="#333" textLength="26.5" lengthAdjust="spacingAndGlyphs">Excipient 3</text>
<path d="M583 543.8L583 545" stroke="#3a3a3a" stroke-width="0.4" fill="none"/>
<text x="583.9" y="546.2" font-size="3.3" text-anchor="end" font-weight="700" fill="#2a2a2a" transform="rotate(-52 583.9 546.2)">T0</text>
<path d="M591.25 543.8L591.25 545" stroke="#3a3a3a" stroke-width="0.4" fill="none"/>
<text x="592.15" y="546.2" font-size="3.3" text-anchor="end" font-weight="700" fill="#2a2a2a" transform="rotate(-52 592.15 546.2)">A-3D</text>
<path d="M599.25 543.8L599.25 545" stroke="#3a3a3a" stroke-width="0.4" fill="none"/>
<text x="600.15" y="546.2" font-size="3.3" text-anchor="end" font-weight="700" fill="#2a2a2a" transform="rotate(-52 600.15 546.2)">40C-1M</text>
<path d="M612 543.8L612 545" stroke="#3a3a3a" stroke-width="0.4" fill="none"/>
<text x="612.9" y="546.2" font-size="3.3" text-anchor="end" font-weight="700" fill="#2a2a2a" transform="rotate(-52 612.9 546.2)">T0</text>
<path d="M620 543.8L620 545" stroke="#3a3a3a" stroke-width="0.4" fill="none"/>
<text x="620.9" y="546.2" font-size="3.3" text-anchor="end" font-weight="700" fill="#2a2a2a" transform="rotate(-52 620.9 546.2)">A-3D</text>
<path d="M628 543.8L628 545" stroke="#3a3a3a" stroke-width="0.4" fill="none"/>
<text x="628.9" y="546.2" font-size="3.3" text-anchor="end" font-weight="700" fill="#2a2a2a" transform="rotate(-52 628.9 546.2)">40C-1M</text>
<path d="M641.25 543.8L641.25 545" stroke="#3a3a3a" stroke-width="0.4" fill="none"/>
<text x="642.15" y="546.2" font-size="3.3" text-anchor="end" font-weight="700" fill="#2a2a2a" transform="rotate(-52 642.15 546.2)">T0</text>
<path d="M649.25 543.8L649.25 545" stroke="#3a3a3a" stroke-width="0.4" fill="none"/>
<text x="650.15" y="546.2" font-size="3.3" text-anchor="end" font-weight="700" fill="#2a2a2a" transform="rotate(-52 650.15 546.2)">A-3D</text>
<path d="M657.5 543.8L657.5 545" stroke="#3a3a3a" stroke-width="0.4" fill="none"/>
<text x="658.4" y="546.2" font-size="3.3" text-anchor="end" font-weight="700" fill="#2a2a2a" transform="rotate(-52 658.4 546.2)">40C-1M</text>
<path d="M309.5 584L309.5 653" stroke="#3a3a3a" stroke-width="0.5" fill="none"/>
<path d="M309.25 652.75L410.5 652.75" stroke="#3a3a3a" stroke-width="0.5" fill="none"/>
<path d="M307.9 585.5L309.5 585.5" stroke="#3a3a3a" stroke-width="0.45" fill="none"/>
<text x="307.2" y="586.6" font-size="3.2" text-anchor="end" font-weight="700" fill="#2a2a2a">10</text>
<path d="M307.9 619L309.5 619" stroke="#3a3a3a" stroke-width="0.45" fill="none"/>
<text x="307.2" y="620.1" font-size="3.2" text-anchor="end" font-weight="700" fill="#2a2a2a">5</text>
<path d="M307.9 652.75L309.5 652.75" stroke="#3a3a3a" stroke-width="0.45" fill="none"/>
<text x="307.2" y="653.85" font-size="3.2" text-anchor="end" font-weight="700" fill="#2a2a2a">0</text>
<path d="M308.6 592.2L309.5 592.2" stroke="#555" stroke-width="0.35" fill="none"/>
<path d="M308.6 598.9L309.5 598.9" stroke="#555" stroke-width="0.35" fill="none"/>
<path d="M308.6 605.6L309.5 605.6" stroke="#555" stroke-width="0.35" fill="none"/>
<path d="M308.6 612.3L309.5 612.3" stroke="#555" stroke-width="0.35" fill="none"/>
<path d="M308.6 625.75L309.5 625.75" stroke="#555" stroke-width="0.35" fill="none"/>
<path d="M308.6 632.5L309.5 632.5" stroke="#555" stroke-width="0.35" fill="none"/>
<path d="M308.6 639.25L309.5 639.25" stroke="#555" stroke-width="0.35" fill="none"/>
<path d="M308.6 646L309.5 646" stroke="#555" stroke-width="0.35" fill="none"/>
<text x="297.3" y="615.5" font-size="3.4" text-anchor="middle" font-weight="700" fill="#2a2a2a" transform="rotate(-90 297.3 615.5)" textLength="55.5" lengthAdjust="spacingAndGlyphs">Break loose force (N)</text>
<path d="M315.5 601L315.5 612" stroke="#444" stroke-width="0.4" fill="none"/>
<path d="M314.5 601L316.5 601" stroke="#444" stroke-width="0.4" fill="none"/>
<path d="M314.5 612L316.5 612" stroke="#444" stroke-width="0.4" fill="none"/>
<circle cx="315.5" cy="601.3" r="0.75" fill="#111"/>
<circle cx="315.5" cy="611.7" r="0.75" fill="#111"/>
<circle cx="315.5" cy="610.5" r="1.15" fill="#111"/>
<circle cx="316.4" cy="610" r="0.92" fill="#111"/>
<circle cx="314.7" cy="611" r="0.92" fill="#111"/>
<path d="M325 601L325 613.5" stroke="#444" stroke-width="0.4" fill="none"/>
<path d="M324 601L326 601" stroke="#444" stroke-width="0.4" fill="none"/>
<path d="M324 613.5L326 613.5" stroke="#444" stroke-width="0.4" fill="none"/>
<circle cx="325" cy="601.3" r="0.75" fill="#111"/>
<circle cx="325" cy="613.2" r="0.75" fill="#111"/>
<circle cx="325" cy="611.75" r="1.15" fill="#111"/>
<circle cx="325.9" cy="611.25" r="0.92" fill="#111"/>
<circle cx="324.2" cy="612.25" r="0.92" fill="#111"/>
<circle cx="334.25" cy="612.25" r="1.15" fill="#111"/>
<circle cx="335.15" cy="611.75" r="0.92" fill="#111"/>
<circle cx="333.45" cy="612.75" r="0.92" fill="#111"/>
<path d="M350.5 600.5L350.5 609" stroke="#444" stroke-width="0.4" fill="none"/>
<path d="M349.5 600.5L351.5 600.5" stroke="#444" stroke-width="0.4" fill="none"/>
<path d="M349.5 609L351.5 609" stroke="#444" stroke-width="0.4" fill="none"/>
<circle cx="350.5" cy="600.8" r="0.75" fill="#111"/>
<circle cx="350.5" cy="608.7" r="0.75" fill="#111"/>
<circle cx="350.5" cy="607.25" r="1.15" fill="#111"/>
<circle cx="351.4" cy="606.75" r="0.92" fill="#111"/>
<circle cx="349.7" cy="607.75" r="0.92" fill="#111"/>
<path d="M360 600L360 611.5" stroke="#444" stroke-width="0.4" fill="none"/>
<path d="M359 600L361 600" stroke="#444" stroke-width="0.4" fill="none"/>
<path d="M359 611.5L361 611.5" stroke="#444" stroke-width="0.4" fill="none"/>
<circle cx="360" cy="600.3" r="0.75" fill="#111"/>
<circle cx="360" cy="611.2" r="0.75" fill="#111"/>
<circle cx="360" cy="606" r="1.15" fill="#111"/>
<circle cx="360.9" cy="605.5" r="0.92" fill="#111"/>
<circle cx="359.2" cy="606.5" r="0.92" fill="#111"/>
<path d="M369.25 610L369.25 615" stroke="#444" stroke-width="0.4" fill="none"/>
<path d="M368.25 610L370.25 610" stroke="#444" stroke-width="0.4" fill="none"/>
<path d="M368.25 615L370.25 615" stroke="#444" stroke-width="0.4" fill="none"/>
<circle cx="369.25" cy="610.3" r="0.75" fill="#111"/>
<circle cx="369.25" cy="614.7" r="0.75" fill="#111"/>
<circle cx="369.25" cy="613.5" r="1.15" fill="#111"/>
<circle cx="370.15" cy="613" r="0.92" fill="#111"/>
<circle cx="368.45" cy="614" r="0.92" fill="#111"/>
<path d="M385 610.5L385 616" stroke="#444" stroke-width="0.4" fill="none"/>
<path d="M384 610.5L386 610.5" stroke="#444" stroke-width="0.4" fill="none"/>
<path d="M384 616L386 616" stroke="#444" stroke-width="0.4" fill="none"/>
<circle cx="385" cy="610.8" r="0.75" fill="#111"/>
<circle cx="385" cy="615.7" r="0.75" fill="#111"/>
<circle cx="385" cy="614.75" r="1.15" fill="#111"/>
<circle cx="385.9" cy="614.25" r="0.92" fill="#111"/>
<circle cx="384.2" cy="615.25" r="0.92" fill="#111"/>
<circle cx="394.25" cy="614.25" r="1.15" fill="#111"/>
<circle cx="395.15" cy="613.75" r="0.92" fill="#111"/>
<circle cx="393.45" cy="614.75" r="0.92" fill="#111"/>
<circle cx="403.75" cy="612.25" r="1.15" fill="#111"/>
<circle cx="404.65" cy="611.75" r="0.92" fill="#111"/>
<circle cx="402.95" cy="612.75" r="0.92" fill="#111"/>
<path d="M315.5 655.4L315.5 656.6" stroke="#3a3a3a" stroke-width="0.4" fill="none"/>
<text x="316.4" y="657.8" font-size="3" text-anchor="end" font-weight="700" fill="#2a2a2a" transform="rotate(-52 316.4 657.8)">T0</text>
<path d="M325 655.4L325 656.6" stroke="#3a3a3a" stroke-width="0.4" fill="none"/>
<text x="325.9" y="657.8" font-size="3" text-anchor="end" font-weight="700" fill="#2a2a2a" transform="rotate(-52 325.9 657.8)">A-3D</text>
<path d="M334.25 655.4L334.25 656.6" stroke="#3a3a3a" stroke-width="0.4" fill="none"/>
<text x="335.15" y="657.8" font-size="3" text-anchor="end" font-weight="700" fill="#2a2a2a" transform="rotate(-52 335.15 657.8)">40C-1M</text>
<path d="M350.5 655.4L350.5 656.6" stroke="#3a3a3a" stroke-width="0.4" fill="none"/>
<text x="351.4" y="657.8" font-size="3" text-anchor="end" font-weight="700" fill="#2a2a2a" transform="rotate(-52 351.4 657.8)">T0</text>
<path d="M360 655.4L360 656.6" stroke="#3a3a3a" stroke-width="0.4" fill="none"/>
<text x="360.9" y="657.8" font-size="3" text-anchor="end" font-weight="700" fill="#2a2a2a" transform="rotate(-52 360.9 657.8)">A-3D</text>
<path d="M369.25 655.4L369.25 656.6" stroke="#3a3a3a" stroke-width="0.4" fill="none"/>
<text x="370.15" y="657.8" font-size="3" text-anchor="end" font-weight="700" fill="#2a2a2a" transform="rotate(-52 370.15 657.8)">40C-1M</text>
<path d="M385 655.4L385 656.6" stroke="#3a3a3a" stroke-width="0.4" fill="none"/>
<text x="385.9" y="657.8" font-size="3" text-anchor="end" font-weight="700" fill="#2a2a2a" transform="rotate(-52 385.9 657.8)">T0</text>
<path d="M394.25 655.4L394.25 656.6" stroke="#3a3a3a" stroke-width="0.4" fill="none"/>
<text x="395.15" y="657.8" font-size="3" text-anchor="end" font-weight="700" fill="#2a2a2a" transform="rotate(-52 395.15 657.8)">A-3D</text>
<path d="M403.75 655.4L403.75 656.6" stroke="#3a3a3a" stroke-width="0.4" fill="none"/>
<text x="404.65" y="657.8" font-size="3" text-anchor="end" font-weight="700" fill="#2a2a2a" transform="rotate(-52 404.65 657.8)">40C-1M</text>
<path d="M311.25 669.75L333.75 669.75" stroke="#333" stroke-width="0.55" fill="none"/>
<text x="322.5" y="676.3" font-size="3.6" text-anchor="middle" font-weight="700" fill="#2a2a2a" textLength="25" lengthAdjust="spacingAndGlyphs">Excipient 1</text>
<path d="M346.25 669.75L368.75 669.75" stroke="#333" stroke-width="0.55" fill="none"/>
<text x="357.5" y="676.3" font-size="3.6" text-anchor="middle" font-weight="700" fill="#2a2a2a" textLength="25" lengthAdjust="spacingAndGlyphs">Excipient 2</text>
<path d="M380 669.75L402.5 669.75" stroke="#333" stroke-width="0.55" fill="none"/>
<text x="391.25" y="676.3" font-size="3.6" text-anchor="middle" font-weight="700" fill="#2a2a2a" textLength="25" lengthAdjust="spacingAndGlyphs">Excipient 3</text>
<path d="M442.5 584L442.5 653.25" stroke="#3a3a3a" stroke-width="0.5" fill="none"/>
<path d="M442.25 653L545.5 653" stroke="#3a3a3a" stroke-width="0.5" fill="none"/>
<path d="M440.9 595.5L442.5 595.5" stroke="#3a3a3a" stroke-width="0.45" fill="none"/>
<text x="440.2" y="596.6" font-size="3.2" text-anchor="end" font-weight="700" fill="#2a2a2a">10</text>
<path d="M440.9 624L442.5 624" stroke="#3a3a3a" stroke-width="0.45" fill="none"/>
<text x="440.2" y="625.1" font-size="3.2" text-anchor="end" font-weight="700" fill="#2a2a2a">5</text>
<path d="M440.9 653L442.5 653" stroke="#3a3a3a" stroke-width="0.45" fill="none"/>
<text x="440.2" y="654.1" font-size="3.2" text-anchor="end" font-weight="700" fill="#2a2a2a">0</text>
<path d="M441.6 601.2L442.5 601.2" stroke="#555" stroke-width="0.35" fill="none"/>
<path d="M441.6 606.9L442.5 606.9" stroke="#555" stroke-width="0.35" fill="none"/>
<path d="M441.6 612.6L442.5 612.6" stroke="#555" stroke-width="0.35" fill="none"/>
<path d="M441.6 618.3L442.5 618.3" stroke="#555" stroke-width="0.35" fill="none"/>
<path d="M441.6 629.8L442.5 629.8" stroke="#555" stroke-width="0.35" fill="none"/>
<path d="M441.6 635.6L442.5 635.6" stroke="#555" stroke-width="0.35" fill="none"/>
<path d="M441.6 641.4L442.5 641.4" stroke="#555" stroke-width="0.35" fill="none"/>
<path d="M441.6 647.2L442.5 647.2" stroke="#555" stroke-width="0.35" fill="none"/>
<text x="430" y="617.2" font-size="3.4" text-anchor="middle" font-weight="700" fill="#2a2a2a" transform="rotate(-90 430 617.2)" textLength="59" lengthAdjust="spacingAndGlyphs">Average glide force (N)</text>
<path d="M448.75 600.25L448.75 621.5" stroke="#444" stroke-width="0.4" fill="none"/>
<path d="M447.75 600.25L449.75 600.25" stroke="#444" stroke-width="0.4" fill="none"/>
<path d="M447.75 621.5L449.75 621.5" stroke="#444" stroke-width="0.4" fill="none"/>
<circle cx="448.75" cy="600.55" r="0.75" fill="#111"/>
<circle cx="448.75" cy="621.2" r="0.75" fill="#111"/>
<circle cx="448.75" cy="609.75" r="1.15" fill="#111"/>
<circle cx="449.65" cy="609.25" r="0.92" fill="#111"/>
<circle cx="447.95" cy="610.25" r="0.92" fill="#111"/>
<path d="M458 604.75L458 620.5" stroke="#444" stroke-width="0.4" fill="none"/>
<path d="M457 604.75L459 604.75" stroke="#444" stroke-width="0.4" fill="none"/>
<path d="M457 620.5L459 620.5" stroke="#444" stroke-width="0.4" fill="none"/>
<circle cx="458" cy="605.05" r="0.75" fill="#111"/>
<circle cx="458" cy="620.2" r="0.75" fill="#111"/>
<circle cx="458" cy="617.75" r="1.15" fill="#111"/>
<circle cx="458.9" cy="617.25" r="0.92" fill="#111"/>
<circle cx="457.2" cy="618.25" r="0.92" fill="#111"/>
<path d="M467.5 607.5L467.5 612" stroke="#444" stroke-width="0.4" fill="none"/>
<path d="M466.5 607.5L468.5 607.5" stroke="#444" stroke-width="0.4" fill="none"/>
<path d="M466.5 612L468.5 612" stroke="#444" stroke-width="0.4" fill="none"/>
<circle cx="467.5" cy="607.8" r="0.75" fill="#111"/>
<circle cx="467.5" cy="611.7" r="0.75" fill="#111"/>
<circle cx="467.5" cy="609.75" r="1.15" fill="#111"/>
<circle cx="468.4" cy="609.25" r="0.92" fill="#111"/>
<circle cx="466.7" cy="610.25" r="0.92" fill="#111"/>
<path d="M484.25 599.75L484.25 611.5" stroke="#444" stroke-width="0.4" fill="none"/>
<path d="M483.25 599.75L485.25 599.75" stroke="#444" stroke-width="0.4" fill="none"/>
<path d="M483.25 611.5L485.25 611.5" stroke="#444" stroke-width="0.4" fill="none"/>
<circle cx="484.25" cy="600.05" r="0.75" fill="#111"/>
<circle cx="484.25" cy="611.2" r="0.75" fill="#111"/>
<circle cx="484.25" cy="605.25" r="1.15" fill="#111"/>
<circle cx="485.15" cy="604.75" r="0.92" fill="#111"/>
<circle cx="483.45" cy="605.75" r="0.92" fill="#111"/>
<path d="M493.75 594.75L493.75 617.25" stroke="#444" stroke-width="0.4" fill="none"/>
<path d="M492.75 594.75L494.75 594.75" stroke="#444" stroke-width="0.4" fill="none"/>
<path d="M492.75 617.25L494.75 617.25" stroke="#444" stroke-width="0.4" fill="none"/>
<circle cx="493.75" cy="595.05" r="0.75" fill="#111"/>
<circle cx="493.75" cy="616.95" r="0.75" fill="#111"/>
<circle cx="493.75" cy="603.5" r="1.15" fill="#111"/>
<circle cx="494.65" cy="603" r="0.92" fill="#111"/>
<circle cx="492.95" cy="604" r="0.92" fill="#111"/>
<circle cx="503.25" cy="615.25" r="1.15" fill="#111"/>
<circle cx="504.15" cy="614.75" r="0.92" fill="#111"/>
<circle cx="502.45" cy="615.75" r="0.92" fill="#111"/>
<path d="M520 619.25L520 626" stroke="#444" stroke-width="0.4" fill="none"/>
<path d="M519 619.25L521 619.25" stroke="#444" stroke-width="0.4" fill="none"/>
<path d="M519 626L521 626" stroke="#444" stroke-width="0.4" fill="none"/>
<circle cx="520" cy="619.55" r="0.75" fill="#111"/>
<circle cx="520" cy="625.7" r="0.75" fill="#111"/>
<circle cx="520" cy="620.5" r="1.15" fill="#111"/>
<circle cx="520.9" cy="620" r="0.92" fill="#111"/>
<circle cx="519.2" cy="621" r="0.92" fill="#111"/>
<path d="M529.5 616.75L529.5 626.75" stroke="#444" stroke-width="0.4" fill="none"/>
<path d="M528.5 616.75L530.5 616.75" stroke="#444" stroke-width="0.4" fill="none"/>
<path d="M528.5 626.75L530.5 626.75" stroke="#444" stroke-width="0.4" fill="none"/>
<circle cx="529.5" cy="617.05" r="0.75" fill="#111"/>
<circle cx="529.5" cy="626.45" r="0.75" fill="#111"/>
<circle cx="529.5" cy="622.25" r="1.15" fill="#111"/>
<circle cx="530.4" cy="621.75" r="0.92" fill="#111"/>
<circle cx="528.7" cy="622.75" r="0.92" fill="#111"/>
<path d="M540 608L540 616" stroke="#444" stroke-width="0.4" fill="none"/>
<path d="M539 608L541 608" stroke="#444" stroke-width="0.4" fill="none"/>
<path d="M539 616L541 616" stroke="#444" stroke-width="0.4" fill="none"/>
<circle cx="540" cy="608.3" r="0.75" fill="#111"/>
<circle cx="540" cy="615.7" r="0.75" fill="#111"/>
<circle cx="540" cy="611" r="1.15" fill="#111"/>
<circle cx="540.9" cy="610.5" r="0.92" fill="#111"/>
<circle cx="539.2" cy="611.5" r="0.92" fill="#111"/>
<path d="M484.25 596.5L484.25 582.25L520.5 582.25L520.5 614" stroke="#444" stroke-width="0.5" fill="none"/>
<text x="502.38" y="581.85" font-size="2.8" text-anchor="middle" font-weight="700" fill="#333">*</text>
<path d="M448.75 655.7L448.75 656.9" stroke="#3a3a3a" stroke-width="0.4" fill="none"/>
<text x="449.65" y="658.1" font-size="3" text-anchor="end" font-weight="700" fill="#2a2a2a" transform="rotate(-52 449.65 658.1)">T0</text>
<path d="M458 655.7L458 656.9" stroke="#3a3a3a" stroke-width="0.4" fill="none"/>
<text x="458.9" y="658.1" font-size="3" text-anchor="end" font-weight="700" fill="#2a2a2a" transform="rotate(-52 458.9 658.1)">A-3D</text>
<path d="M467.5 655.7L467.5 656.9" stroke="#3a3a3a" stroke-width="0.4" fill="none"/>
<text x="468.4" y="658.1" font-size="3" text-anchor="end" font-weight="700" fill="#2a2a2a" transform="rotate(-52 468.4 658.1)">40C-1M</text>
<path d="M484.25 655.7L484.25 656.9" stroke="#3a3a3a" stroke-width="0.4" fill="none"/>
<text x="485.15" y="658.1" font-size="3" text-anchor="end" font-weight="700" fill="#2a2a2a" transform="rotate(-52 485.15 658.1)">T0</text>
<path d="M493.75 655.7L493.75 656.9" stroke="#3a3a3a" stroke-width="0.4" fill="none"/>
<text x="494.65" y="658.1" font-size="3" text-anchor="end" font-weight="700" fill="#2a2a2a" transform="rotate(-52 494.65 658.1)">A-3D</text>
<path d="M503.25 655.7L503.25 656.9" stroke="#3a3a3a" stroke-width="0.4" fill="none"/>
<text x="504.15" y="658.1" font-size="3" text-anchor="end" font-weight="700" fill="#2a2a2a" transform="rotate(-52 504.15 658.1)">40C-1M</text>
<path d="M520 655.7L520 656.9" stroke="#3a3a3a" stroke-width="0.4" fill="none"/>
<text x="520.9" y="658.1" font-size="3" text-anchor="end" font-weight="700" fill="#2a2a2a" transform="rotate(-52 520.9 658.1)">T0</text>
<path d="M529.5 655.7L529.5 656.9" stroke="#3a3a3a" stroke-width="0.4" fill="none"/>
<text x="530.4" y="658.1" font-size="3" text-anchor="end" font-weight="700" fill="#2a2a2a" transform="rotate(-52 530.4 658.1)">A-3D</text>
<path d="M540 655.7L540 656.9" stroke="#3a3a3a" stroke-width="0.4" fill="none"/>
<text x="540.9" y="658.1" font-size="3" text-anchor="end" font-weight="700" fill="#2a2a2a" transform="rotate(-52 540.9 658.1)">40C-1M</text>
<path d="M444.5 670.5L468.5 670.5" stroke="#333" stroke-width="0.55" fill="none"/>
<text x="456.5" y="676.8" font-size="3.6" text-anchor="middle" font-weight="700" fill="#2a2a2a" textLength="25" lengthAdjust="spacingAndGlyphs">Excipient 1</text>
<path d="M479.5 670.5L504 670.5" stroke="#333" stroke-width="0.55" fill="none"/>
<text x="491.75" y="676.8" font-size="3.6" text-anchor="middle" font-weight="700" fill="#2a2a2a" textLength="25" lengthAdjust="spacingAndGlyphs">Excipient 2</text>
<path d="M514.5 670.5L539 670.5" stroke="#333" stroke-width="0.55" fill="none"/>
<text x="526.75" y="676.8" font-size="3.6" text-anchor="middle" font-weight="700" fill="#2a2a2a" textLength="25" lengthAdjust="spacingAndGlyphs">Excipient 3</text>
<path d="M583.25 582.25L583.25 653" stroke="#3a3a3a" stroke-width="0.5" fill="none"/>
<path d="M583 652.75L688.75 652.75" stroke="#3a3a3a" stroke-width="0.5" fill="none"/>
<path d="M581.65 598.5L583.25 598.5" stroke="#3a3a3a" stroke-width="0.45" fill="none"/>
<text x="580.95" y="599.6" font-size="3.2" text-anchor="end" font-weight="700" fill="#2a2a2a">10</text>
<path d="M581.65 625.5L583.25 625.5" stroke="#3a3a3a" stroke-width="0.45" fill="none"/>
<text x="580.95" y="626.6" font-size="3.2" text-anchor="end" font-weight="700" fill="#2a2a2a">5</text>
<path d="M581.65 652.75L583.25 652.75" stroke="#3a3a3a" stroke-width="0.45" fill="none"/>
<text x="580.95" y="653.85" font-size="3.2" text-anchor="end" font-weight="700" fill="#2a2a2a">0</text>
<path d="M582.35 603.9L583.25 603.9" stroke="#555" stroke-width="0.35" fill="none"/>
<path d="M582.35 609.3L583.25 609.3" stroke="#555" stroke-width="0.35" fill="none"/>
<path d="M582.35 614.7L583.25 614.7" stroke="#555" stroke-width="0.35" fill="none"/>
<path d="M582.35 620.1L583.25 620.1" stroke="#555" stroke-width="0.35" fill="none"/>
<path d="M582.35 630.95L583.25 630.95" stroke="#555" stroke-width="0.35" fill="none"/>
<path d="M582.35 636.4L583.25 636.4" stroke="#555" stroke-width="0.35" fill="none"/>
<path d="M582.35 641.85L583.25 641.85" stroke="#555" stroke-width="0.35" fill="none"/>
<path d="M582.35 647.3L583.25 647.3" stroke="#555" stroke-width="0.35" fill="none"/>
<text x="570.6" y="616" font-size="3.4" text-anchor="middle" font-weight="700" fill="#2a2a2a" transform="rotate(-90 570.6 616)" textLength="52" lengthAdjust="spacingAndGlyphs">Max glide force (N)</text>
<path d="M590 596.5L590 618" stroke="#444" stroke-width="0.4" fill="none"/>
<path d="M589 596.5L591 596.5" stroke="#444" stroke-width="0.4" fill="none"/>
<path d="M589 618L591 618" stroke="#444" stroke-width="0.4" fill="none"/>
<circle cx="590" cy="596.8" r="0.75" fill="#111"/>
<circle cx="590" cy="617.7" r="0.75" fill="#111"/>
<circle cx="590" cy="604.75" r="1.15" fill="#111"/>
<circle cx="590.9" cy="604.25" r="0.92" fill="#111"/>
<circle cx="589.2" cy="605.25" r="0.92" fill="#111"/>
<path d="M599.25 600.5L599.25 619.75" stroke="#444" stroke-width="0.4" fill="none"/>
<path d="M598.25 600.5L600.25 600.5" stroke="#444" stroke-width="0.4" fill="none"/>
<path d="M598.25 619.75L600.25 619.75" stroke="#444" stroke-width="0.4" fill="none"/>
<circle cx="599.25" cy="600.8" r="0.75" fill="#111"/>
<circle cx="599.25" cy="619.45" r="0.75" fill="#111"/>
<circle cx="599.25" cy="612.25" r="1.15" fill="#111"/>
<circle cx="600.15" cy="611.75" r="0.92" fill="#111"/>
<circle cx="598.45" cy="612.75" r="0.92" fill="#111"/>
<path d="M609.5 603L609.5 607.25" stroke="#444" stroke-width="0.4" fill="none"/>
<path d="M608.5 603L610.5 603" stroke="#444" stroke-width="0.4" fill="none"/>
<path d="M608.5 607.25L610.5 607.25" stroke="#444" stroke-width="0.4" fill="none"/>
<circle cx="609.5" cy="603.3" r="0.75" fill="#111"/>
<circle cx="609.5" cy="606.95" r="0.75" fill="#111"/>
<circle cx="609.5" cy="605.25" r="1.15" fill="#111"/>
<circle cx="610.4" cy="604.75" r="0.92" fill="#111"/>
<circle cx="608.7" cy="605.75" r="0.92" fill="#111"/>
<path d="M625.75 594.25L625.75 611.5" stroke="#444" stroke-width="0.4" fill="none"/>
<path d="M624.75 594.25L626.75 594.25" stroke="#444" stroke-width="0.4" fill="none"/>
<path d="M624.75 611.5L626.75 611.5" stroke="#444" stroke-width="0.4" fill="none"/>
<circle cx="625.75" cy="594.55" r="0.75" fill="#111"/>
<circle cx="625.75" cy="611.2" r="0.75" fill="#111"/>
<circle cx="625.75" cy="601" r="1.15" fill="#111"/>
<circle cx="626.65" cy="600.5" r="0.92" fill="#111"/>
<circle cx="624.95" cy="601.5" r="0.92" fill="#111"/>
<path d="M635.5 589.75L635.5 616" stroke="#444" stroke-width="0.4" fill="none"/>
<path d="M634.5 589.75L636.5 589.75" stroke="#444" stroke-width="0.4" fill="none"/>
<path d="M634.5 616L636.5 616" stroke="#444" stroke-width="0.4" fill="none"/>
<circle cx="635.5" cy="590.05" r="0.75" fill="#111"/>
<circle cx="635.5" cy="615.7" r="0.75" fill="#111"/>
<circle cx="635.5" cy="599.75" r="1.15" fill="#111"/>
<circle cx="636.4" cy="599.25" r="0.92" fill="#111"/>
<circle cx="634.7" cy="600.25" r="0.92" fill="#111"/>
<circle cx="645" cy="612.75" r="1.15" fill="#111"/>
<circle cx="645.9" cy="612.25" r="0.92" fill="#111"/>
<circle cx="644.2" cy="613.25" r="0.92" fill="#111"/>
<circle cx="661.75" cy="618.5" r="1.15" fill="#111"/>
<circle cx="662.65" cy="618" r="0.92" fill="#111"/>
<circle cx="660.95" cy="619" r="0.92" fill="#111"/>
<path d="M671.75 614.5L671.75 620.5" stroke="#444" stroke-width="0.4" fill="none"/>
<path d="M670.75 614.5L672.75 614.5" stroke="#444" stroke-width="0.4" fill="none"/>
<path d="M670.75 620.5L672.75 620.5" stroke="#444" stroke-width="0.4" fill="none"/>
<circle cx="671.75" cy="614.8" r="0.75" fill="#111"/>
<circle cx="671.75" cy="620.2" r="0.75" fill="#111"/>
<circle cx="671.75" cy="619.25" r="1.15" fill="#111"/>
<circle cx="672.65" cy="618.75" r="0.92" fill="#111"/>
<circle cx="670.95" cy="619.75" r="0.92" fill="#111"/>
<path d="M681.75 598.5L681.75 612.75" stroke="#444" stroke-width="0.4" fill="none"/>
<path d="M680.75 598.5L682.75 598.5" stroke="#444" stroke-width="0.4" fill="none"/>
<path d="M680.75 612.75L682.75 612.75" stroke="#444" stroke-width="0.4" fill="none"/>
<circle cx="681.75" cy="598.8" r="0.75" fill="#111"/>
<circle cx="681.75" cy="612.45" r="0.75" fill="#111"/>
<circle cx="681.75" cy="604" r="1.15" fill="#111"/>
<circle cx="682.65" cy="603.5" r="0.92" fill="#111"/>
<circle cx="680.95" cy="604.5" r="0.92" fill="#111"/>
<path d="M590 655.4L590 656.6" stroke="#3a3a3a" stroke-width="0.4" fill="none"/>
<text x="590.9" y="657.8" font-size="3" text-anchor="end" font-weight="700" fill="#2a2a2a" transform="rotate(-52 590.9 657.8)">T0</text>
<path d="M599.25 655.4L599.25 656.6" stroke="#3a3a3a" stroke-width="0.4" fill="none"/>
<text x="600.15" y="657.8" font-size="3" text-anchor="end" font-weight="700" fill="#2a2a2a" transform="rotate(-52 600.15 657.8)">A-3D</text>
<path d="M609.5 655.4L609.5 656.6" stroke="#3a3a3a" stroke-width="0.4" fill="none"/>
<text x="610.4" y="657.8" font-size="3" text-anchor="end" font-weight="700" fill="#2a2a2a" transform="rotate(-52 610.4 657.8)">40C-1M</text>
<path d="M625.75 655.4L625.75 656.6" stroke="#3a3a3a" stroke-width="0.4" fill="none"/>
<text x="626.65" y="657.8" font-size="3" text-anchor="end" font-weight="700" fill="#2a2a2a" transform="rotate(-52 626.65 657.8)">T0</text>
<path d="M635.5 655.4L635.5 656.6" stroke="#3a3a3a" stroke-width="0.4" fill="none"/>
<text x="636.4" y="657.8" font-size="3" text-anchor="end" font-weight="700" fill="#2a2a2a" transform="rotate(-52 636.4 657.8)">A-3D</text>
<path d="M645 655.4L645 656.6" stroke="#3a3a3a" stroke-width="0.4" fill="none"/>
<text x="645.9" y="657.8" font-size="3" text-anchor="end" font-weight="700" fill="#2a2a2a" transform="rotate(-52 645.9 657.8)">40C-1M</text>
<path d="M661.75 655.4L661.75 656.6" stroke="#3a3a3a" stroke-width="0.4" fill="none"/>
<text x="662.65" y="657.8" font-size="3" text-anchor="end" font-weight="700" fill="#2a2a2a" transform="rotate(-52 662.65 657.8)">T0</text>
<path d="M671.75 655.4L671.75 656.6" stroke="#3a3a3a" stroke-width="0.4" fill="none"/>
<text x="672.65" y="657.8" font-size="3" text-anchor="end" font-weight="700" fill="#2a2a2a" transform="rotate(-52 672.65 657.8)">A-3D</text>
<path d="M681.75 655.4L681.75 656.6" stroke="#3a3a3a" stroke-width="0.4" fill="none"/>
<text x="682.65" y="657.8" font-size="3" text-anchor="end" font-weight="700" fill="#2a2a2a" transform="rotate(-52 682.65 657.8)">40C-1M</text>
<path d="M585 670.25L609 670.25" stroke="#333" stroke-width="0.55" fill="none"/>
<text x="597" y="676.55" font-size="3.6" text-anchor="middle" font-weight="700" fill="#2a2a2a" textLength="25" lengthAdjust="spacingAndGlyphs">Excipient 1</text>
<path d="M621.25 670.25L645 670.25" stroke="#333" stroke-width="0.55" fill="none"/>
<text x="633.12" y="676.55" font-size="3.6" text-anchor="middle" font-weight="700" fill="#2a2a2a" textLength="25" lengthAdjust="spacingAndGlyphs">Excipient 2</text>
<path d="M656.25 670.25L680 670.25" stroke="#333" stroke-width="0.55" fill="none"/>
<text x="668.12" y="676.55" font-size="3.6" text-anchor="middle" font-weight="700" fill="#2a2a2a" textLength="25" lengthAdjust="spacingAndGlyphs">Excipient 3</text>
</g>
<g id="fig3">
<text x="788.75" y="166.7" font-size="2.9" text-anchor="middle" font-weight="700" fill="#222" textLength="22" lengthAdjust="spacingAndGlyphs">MFI, No filter</text>
<rect x="748.85" y="205.75" width="1.5" height="15" fill="#6767f8"/>
<rect x="750.25" y="218" width="1.5" height="2.75" fill="#f25353"/>
<rect x="753.85" y="189.25" width="1.5" height="31.5" fill="#6767f8"/>
<rect x="755.25" y="205.75" width="1.5" height="15" fill="#f25353"/>
<rect x="759.25" y="173.75" width="1.5" height="47" fill="#6767f8"/>
<rect x="760.65" y="178.75" width="1.5" height="42" fill="#f25353"/>
<rect x="762.05" y="182.5" width="1.5" height="38.25" fill="#35c240"/>
<rect x="768" y="205.75" width="1.5" height="15" fill="#6767f8"/>
<rect x="769.4" y="210" width="1.5" height="10.75" fill="#f25353"/>
<rect x="773" y="205.75" width="1.5" height="15" fill="#6767f8"/>
<rect x="774.4" y="216.25" width="1.5" height="4.5" fill="#f25353"/>
<rect x="777.5" y="189.25" width="1.5" height="31.5" fill="#6767f8"/>
<rect x="786.75" y="205.75" width="1.5" height="15" fill="#6767f8"/>
<rect x="788.15" y="213.25" width="1.5" height="7.5" fill="#f25353"/>
<rect x="791.75" y="192.5" width="1.5" height="28.25" fill="#6767f8"/>
<rect x="793.15" y="205.75" width="1.5" height="15" fill="#f25353"/>
<rect x="794.55" y="215" width="1.5" height="5.75" fill="#35c240"/>
<rect x="796.75" y="205.75" width="1.5" height="15" fill="#6767f8"/>
<rect x="798.15" y="218" width="1.5" height="2.75" fill="#f25353"/>
<rect x="805.5" y="205.75" width="1.5" height="15" fill="#6767f8"/>
<rect x="805.5" y="201.5" width="1.5" height="1.6" fill="#6767f8"/>
<rect x="810.5" y="205.75" width="1.5" height="15" fill="#6767f8"/>
<rect x="815.5" y="189.25" width="1.5" height="31.5" fill="#6767f8"/>
<rect x="816.9" y="205.75" width="1.5" height="15" fill="#f25353"/>
<rect x="748.55" y="186.9" width="70.75" height="1" fill="#f6f6f6"/>
<rect x="748.55" y="203.8" width="70.75" height="1" fill="#f6f6f6"/>
<path d="M748.25 171.25L748.25 221" stroke="#3a3a3a" stroke-width="0.5" fill="none"/>
<path d="M748 220.75L819 220.75" stroke="#3a3a3a" stroke-width="0.5" fill="none"/>
<path d="M746.65 172L748.25 172" stroke="#3a3a3a" stroke-width="0.45" fill="none"/>
<text x="745.95" y="173.1" font-size="3.2" text-anchor="end" font-weight="700" fill="#2a2a2a">300000</text>
<path d="M746.65 181.25L748.25 181.25" stroke="#3a3a3a" stroke-width="0.45" fill="none"/>
<text x="745.95" y="182.35" font-size="3.2" text-anchor="end" font-weight="700" fill="#2a2a2a">200000</text>
<path d="M746.65 189.25L748.25 189.25" stroke="#3a3a3a" stroke-width="0.45" fill="none"/>
<text x="745.95" y="190.35" font-size="3.2" text-anchor="end" font-weight="700" fill="#2a2a2a">10000</text>
<path d="M746.65 202.5L748.25 202.5" stroke="#3a3a3a" stroke-width="0.45" fill="none"/>
<text x="745.95" y="203.6" font-size="3.2" text-anchor="end" font-weight="700" fill="#2a2a2a">5000</text>
<path d="M746.65 205.9L748.25 205.9" stroke="#3a3a3a" stroke-width="0.45" fill="none"/>
<text x="745.95" y="207" font-size="3.2" text-anchor="end" font-weight="700" fill="#2a2a2a">1000</text>
<path d="M746.65 213.25L748.25 213.25" stroke="#3a3a3a" stroke-width="0.45" fill="none"/>
<text x="745.95" y="214.35" font-size="3.2" text-anchor="end" font-weight="700" fill="#2a2a2a">500</text>
<path d="M746.65 220.75L748.25 220.75" stroke="#3a3a3a" stroke-width="0.45" fill="none"/>
<text x="745.95" y="221.85" font-size="3.2" text-anchor="end" font-weight="700" fill="#2a2a2a">0</text>
<rect x="746.75" y="186.6" width="3" height="1.4" fill="#f6f6f6"/>
<path d="M746.95 186.6L749.55 186.6" stroke="#3a3a3a" stroke-width="0.35" fill="none"/>
<path d="M746.95 188L749.55 188" stroke="#3a3a3a" stroke-width="0.35" fill="none"/>
<rect x="746.75" y="203.5" width="3" height="1.4" fill="#f6f6f6"/>
<path d="M746.95 203.5L749.55 203.5" stroke="#3a3a3a" stroke-width="0.35" fill="none"/>
<path d="M746.95 204.9L749.55 204.9" stroke="#3a3a3a" stroke-width="0.35" fill="none"/>
<text x="731.4" y="196" font-size="2.9" text-anchor="middle" font-weight="700" fill="#2a2a2a" transform="rotate(-90 731.4 196)" textLength="38" lengthAdjust="spacingAndGlyphs">Concentration (#/mL)</text>
<rect x="820.7" y="172.45" width="2.6" height="2.6" fill="#3535ff"/>
<text x="825.2" y="174.83" font-size="3" font-weight="700" fill="#333" textLength="13.04" lengthAdjust="spacingAndGlyphs">&gt; 2 µm</text>
<rect x="820.7" y="179.45" width="2.6" height="2.6" fill="#ff3030"/>
<text x="825.2" y="181.83" font-size="3" font-weight="700" fill="#333" textLength="16.3" lengthAdjust="spacingAndGlyphs">&gt; 10 µm</text>
<rect x="820.7" y="186.7" width="2.6" height="2.6" fill="#28c832"/>
<text x="825.2" y="189.08" font-size="3" font-weight="700" fill="#333" textLength="16.3" lengthAdjust="spacingAndGlyphs">&gt; 25 µm</text>
<path d="M749.6 222.4L749.6 223.6" stroke="#3a3a3a" stroke-width="0.4" fill="none"/>
<text x="750.5" y="224.8" font-size="2.2" text-anchor="end" font-weight="700" fill="#2a2a2a" transform="rotate(-52 750.5 224.8)">T0</text>
<path d="M754.6 222.4L754.6 223.6" stroke="#3a3a3a" stroke-width="0.4" fill="none"/>
<text x="755.5" y="224.8" font-size="2.2" text-anchor="end" font-weight="700" fill="#2a2a2a" transform="rotate(-52 755.5 224.8)">A-3D</text>
<path d="M760 222.4L760 223.6" stroke="#3a3a3a" stroke-width="0.4" fill="none"/>
<text x="760.9" y="224.8" font-size="2.2" text-anchor="end" font-weight="700" fill="#2a2a2a" transform="rotate(-52 760.9 224.8)">40C-1M</text>
<path d="M768.75 222.4L768.75 223.6" stroke="#3a3a3a" stroke-width="0.4" fill="none"/>
<text x="769.65" y="224.8" font-size="2.2" text-anchor="end" font-weight="700" fill="#2a2a2a" transform="rotate(-52 769.65 224.8)">T0</text>
<path d="M773.75 222.4L773.75 223.6" stroke="#3a3a3a" stroke-width="0.4" fill="none"/>
<text x="774.65" y="224.8" font-size="2.2" text-anchor="end" font-weight="700" fill="#2a2a2a" transform="rotate(-52 774.65 224.8)">A-3D</text>
<path d="M778.25 222.4L778.25 223.6" stroke="#3a3a3a" stroke-width="0.4" fill="none"/>
<text x="779.15" y="224.8" font-size="2.2" text-anchor="end" font-weight="700" fill="#2a2a2a" transform="rotate(-52 779.15 224.8)">40C-1M</text>
<path d="M787.5 222.4L787.5 223.6" stroke="#3a3a3a" stroke-width="0.4" fill="none"/>
<text x="788.4" y="224.8" font-size="2.2" text-anchor="end" font-weight="700" fill="#2a2a2a" transform="rotate(-52 788.4 224.8)">T0</text>
<path d="M792.5 222.4L792.5 223.6" stroke="#3a3a3a" stroke-width="0.4" fill="none"/>
<text x="793.4" y="224.8" font-size="2.2" text-anchor="end" font-weight="700" fill="#2a2a2a" transform="rotate(-52 793.4 224.8)">A-3D</text>
<path d="M797.5 222.4L797.5 223.6" stroke="#3a3a3a" stroke-width="0.4" fill="none"/>
<text x="798.4" y="224.8" font-size="2.2" text-anchor="end" font-weight="700" fill="#2a2a2a" transform="rotate(-52 798.4 224.8)">40C-1M</text>
<path d="M806.25 222.4L806.25 223.6" stroke="#3a3a3a" stroke-width="0.4" fill="none"/>
<text x="807.15" y="224.8" font-size="2.2" text-anchor="end" font-weight="700" fill="#2a2a2a" transform="rotate(-52 807.15 224.8)">T0</text>
<path d="M811.25 222.4L811.25 223.6" stroke="#3a3a3a" stroke-width="0.4" fill="none"/>
<text x="812.15" y="224.8" font-size="2.2" text-anchor="end" font-weight="700" fill="#2a2a2a" transform="rotate(-52 812.15 224.8)">A-3D</text>
<path d="M816.25 222.4L816.25 223.6" stroke="#3a3a3a" stroke-width="0.4" fill="none"/>
<text x="817.15" y="224.8" font-size="2.2" text-anchor="end" font-weight="700" fill="#2a2a2a" transform="rotate(-52 817.15 224.8)">40C-1M</text>
<path d="M749.5 233L761.5 233" stroke="#333" stroke-width="0.45" fill="none"/>
<text x="755.5" y="237.97" font-size="2.7" text-anchor="middle" font-weight="700" fill="#2a2a2a">mAb 1</text>
<path d="M768.5 233L780.5 233" stroke="#333" stroke-width="0.45" fill="none"/>
<text x="774.5" y="237.97" font-size="2.7" text-anchor="middle" font-weight="700" fill="#2a2a2a">mAb 2</text>
<path d="M787.5 233L800 233" stroke="#333" stroke-width="0.45" fill="none"/>
<text x="793.75" y="237.97" font-size="2.7" text-anchor="middle" font-weight="700" fill="#2a2a2a">mAb 3</text>
<path d="M806 233L818.5 233" stroke="#333" stroke-width="0.45" fill="none"/>
<text x="812.25" y="237.97" font-size="2.7" text-anchor="middle" font-weight="700" fill="#2a2a2a">Placebo</text>
<text x="903.3" y="166.3" font-size="2.9" text-anchor="middle" font-weight="700" fill="#222" textLength="61.5" lengthAdjust="spacingAndGlyphs">MFI, AR &gt; 0.85, Intensity STD &gt; 180</text>
<rect x="868" y="200.75" width="1.5" height="20.5" fill="#6767f8"/>
<rect x="869.4" y="211.25" width="1.5" height="10" fill="#f25353"/>
<rect x="868" y="196.25" width="1.5" height="1.6" fill="#6767f8"/>
<rect x="872.5" y="193.75" width="1.5" height="27.5" fill="#6767f8"/>
<rect x="873.9" y="210" width="1.5" height="11.25" fill="#f25353"/>
<rect x="876.75" y="177.5" width="1.5" height="43.75" fill="#6767f8"/>
<rect x="878.15" y="200.75" width="1.5" height="20.5" fill="#f25353"/>
<rect x="885.5" y="194.5" width="1.5" height="26.75" fill="#6767f8"/>
<rect x="886.9" y="201.75" width="1.5" height="19.5" fill="#f25353"/>
<rect x="889.75" y="200.75" width="1.5" height="20.5" fill="#6767f8"/>
<rect x="891.15" y="215" width="1.5" height="6.25" fill="#f25353"/>
<rect x="894.25" y="194.5" width="1.5" height="26.75" fill="#6767f8"/>
<rect x="895.65" y="201.75" width="1.5" height="19.5" fill="#f25353"/>
<rect x="903" y="200.75" width="1.5" height="20.5" fill="#6767f8"/>
<rect x="904.4" y="216.25" width="1.5" height="5" fill="#f25353"/>
<rect x="907.25" y="200.75" width="1.5" height="20.5" fill="#6767f8"/>
<rect x="908.65" y="217" width="1.5" height="4.25" fill="#f25353"/>
<rect x="911.75" y="200.75" width="1.5" height="20.5" fill="#6767f8"/>
<rect x="913.15" y="219.5" width="1.5" height="1.75" fill="#f25353"/>
<rect x="920.5" y="193.75" width="1.5" height="27.5" fill="#6767f8"/>
<rect x="921.9" y="213.75" width="1.5" height="7.5" fill="#f25353"/>
<rect x="924.75" y="200.75" width="1.5" height="20.5" fill="#6767f8"/>
<rect x="926.15" y="218.75" width="1.5" height="2.5" fill="#f25353"/>
<rect x="929.25" y="186.25" width="1.5" height="35" fill="#6767f8"/>
<rect x="930.65" y="213.75" width="1.5" height="7.5" fill="#f25353"/>
<rect x="867.05" y="198.7" width="65.75" height="1" fill="#f6f6f6"/>
<path d="M866.75 175.75L866.75 221.5" stroke="#3a3a3a" stroke-width="0.5" fill="none"/>
<path d="M866.5 221.25L932.5 221.25" stroke="#3a3a3a" stroke-width="0.5" fill="none"/>
<path d="M865.15 176.25L866.75 176.25" stroke="#3a3a3a" stroke-width="0.45" fill="none"/>
<text x="864.45" y="177.35" font-size="3.2" text-anchor="end" font-weight="700" fill="#2a2a2a">15000</text>
<path d="M865.15 187.5L866.75 187.5" stroke="#3a3a3a" stroke-width="0.45" fill="none"/>
<text x="864.45" y="188.6" font-size="3.2" text-anchor="end" font-weight="700" fill="#2a2a2a">10000</text>
<path d="M865.15 197L866.75 197" stroke="#3a3a3a" stroke-width="0.45" fill="none"/>
<text x="864.45" y="198.1" font-size="3.2" text-anchor="end" font-weight="700" fill="#2a2a2a">5000</text>
<path d="M865.15 200.9L866.75 200.9" stroke="#3a3a3a" stroke-width="0.45" fill="none"/>
<text x="864.45" y="202" font-size="3.2" text-anchor="end" font-weight="700" fill="#2a2a2a">1000</text>
<path d="M865.15 210.5L866.75 210.5" stroke="#3a3a3a" stroke-width="0.45" fill="none"/>
<text x="864.45" y="211.6" font-size="3.2" text-anchor="end" font-weight="700" fill="#2a2a2a">500</text>
<path d="M865.15 221.25L866.75 221.25" stroke="#3a3a3a" stroke-width="0.45" fill="none"/>
<text x="864.45" y="222.35" font-size="3.2" text-anchor="end" font-weight="700" fill="#2a2a2a">0</text>
<rect x="865.25" y="198.4" width="3" height="1.4" fill="#f6f6f6"/>
<path d="M865.45 198.4L868.05 198.4" stroke="#3a3a3a" stroke-width="0.35" fill="none"/>
<path d="M865.45 199.8L868.05 199.8" stroke="#3a3a3a" stroke-width="0.35" fill="none"/>
<text x="854.2" y="197.5" font-size="2.9" text-anchor="middle" font-weight="700" fill="#2a2a2a" transform="rotate(-90 854.2 197.5)" textLength="36" lengthAdjust="spacingAndGlyphs">Concentration (#/mL)</text>
<rect x="937" y="178.25" width="2.5" height="2.5" fill="#3535ff"/>
<text x="941.45" y="180.54" font-size="2.9" font-weight="700" fill="#333" textLength="12.04" lengthAdjust="spacingAndGlyphs">&gt; 2 µm</text>
<rect x="937" y="184.5" width="2.5" height="2.5" fill="#ff3030"/>
<text x="941.45" y="186.79" font-size="2.9" font-weight="700" fill="#333" textLength="15.05" lengthAdjust="spacingAndGlyphs">&gt; 10 µm</text>
<rect x="937" y="190.5" width="2.5" height="2.5" fill="#28c832"/>
<text x="941.45" y="192.79" font-size="2.9" font-weight="700" fill="#333" textLength="15.05" lengthAdjust="spacingAndGlyphs">&gt; 25 µm</text>
<path d="M868.75 222.8L868.75 224" stroke="#3a3a3a" stroke-width="0.4" fill="none"/>
<text x="869.65" y="225.2" font-size="2.2" text-anchor="end" font-weight="700" fill="#2a2a2a" transform="rotate(-52 869.65 225.2)">T0</text>
<path d="M873.25 222.8L873.25 224" stroke="#3a3a3a" stroke-width="0.4" fill="none"/>
<text x="874.15" y="225.2" font-size="2.2" text-anchor="end" font-weight="700" fill="#2a2a2a" transform="rotate(-52 874.15 225.2)">A-3D</text>
<path d="M877.5 222.8L877.5 224" stroke="#3a3a3a" stroke-width="0.4" fill="none"/>
<text x="878.4" y="225.2" font-size="2.2" text-anchor="end" font-weight="700" fill="#2a2a2a" transform="rotate(-52 878.4 225.2)">40C-1M</text>
<path d="M886.25 222.8L886.25 224" stroke="#3a3a3a" stroke-width="0.4" fill="none"/>
<text x="887.15" y="225.2" font-size="2.2" text-anchor="end" font-weight="700" fill="#2a2a2a" transform="rotate(-52 887.15 225.2)">T0</text>
<path d="M890.5 222.8L890.5 224" stroke="#3a3a3a" stroke-width="0.4" fill="none"/>
<text x="891.4" y="225.2" font-size="2.2" text-anchor="end" font-weight="700" fill="#2a2a2a" transform="rotate(-52 891.4 225.2)">A-3D</text>
<path d="M895 222.8L895 224" stroke="#3a3a3a" stroke-width="0.4" fill="none"/>
<text x="895.9" y="225.2" font-size="2.2" text-anchor="end" font-weight="700" fill="#2a2a2a" transform="rotate(-52 895.9 225.2)">40C-1M</text>
<path d="M903.75 222.8L903.75 224" stroke="#3a3a3a" stroke-width="0.4" fill="none"/>
<text x="904.65" y="225.2" font-size="2.2" text-anchor="end" font-weight="700" fill="#2a2a2a" transform="rotate(-52 904.65 225.2)">T0</text>
<path d="M908 222.8L908 224" stroke="#3a3a3a" stroke-width="0.4" fill="none"/>
<text x="908.9" y="225.2" font-size="2.2" text-anchor="end" font-weight="700" fill="#2a2a2a" transform="rotate(-52 908.9 225.2)">A-3D</text>
<path d="M912.5 222.8L912.5 224" stroke="#3a3a3a" stroke-width="0.4" fill="none"/>
<text x="913.4" y="225.2" font-size="2.2" text-anchor="end" font-weight="700" fill="#2a2a2a" transform="rotate(-52 913.4 225.2)">40C-1M</text>
<path d="M921.25 222.8L921.25 224" stroke="#3a3a3a" stroke-width="0.4" fill="none"/>
<text x="922.15" y="225.2" font-size="2.2" text-anchor="end" font-weight="700" fill="#2a2a2a" transform="rotate(-52 922.15 225.2)">T0</text>
<path d="M925.5 222.8L925.5 224" stroke="#3a3a3a" stroke-width="0.4" fill="none"/>
<text x="926.4" y="225.2" font-size="2.2" text-anchor="end" font-weight="700" fill="#2a2a2a" transform="rotate(-52 926.4 225.2)">A-3D</text>
<path d="M930 222.8L930 224" stroke="#3a3a3a" stroke-width="0.4" fill="none"/>
<text x="930.9" y="225.2" font-size="2.2" text-anchor="end" font-weight="700" fill="#2a2a2a" transform="rotate(-52 930.9 225.2)">40C-1M</text>
<path d="M867 233.75L878.5 233.75" stroke="#333" stroke-width="0.45" fill="none"/>
<text x="872.75" y="238.47" font-size="2.7" text-anchor="middle" font-weight="700" fill="#2a2a2a">mAb 1</text>
<path d="M885 233.75L896.5 233.75" stroke="#333" stroke-width="0.45" fill="none"/>
<text x="890.75" y="238.47" font-size="2.7" text-anchor="middle" font-weight="700" fill="#2a2a2a">mAb 2</text>
<path d="M902.5 233.75L914 233.75" stroke="#333" stroke-width="0.45" fill="none"/>
<text x="908.25" y="238.47" font-size="2.7" text-anchor="middle" font-weight="700" fill="#2a2a2a">mAb 3</text>
<path d="M919.5 233.75L931.5 233.75" stroke="#333" stroke-width="0.45" fill="none"/>
<text x="925.5" y="238.47" font-size="2.7" text-anchor="middle" font-weight="700" fill="#2a2a2a">Placebo</text>
<path d="M740 278.75L740 333.25" stroke="#3a3a3a" stroke-width="0.5" fill="none"/>
<path d="M739.75 333L818.75 333" stroke="#3a3a3a" stroke-width="0.5" fill="none"/>
<path d="M738.4 279.5L740 279.5" stroke="#3a3a3a" stroke-width="0.45" fill="none"/>
<text x="737.7" y="280.6" font-size="3.2" text-anchor="end" font-weight="700" fill="#2a2a2a">10</text>
<path d="M738.4 305.75L740 305.75" stroke="#3a3a3a" stroke-width="0.45" fill="none"/>
<text x="737.7" y="306.85" font-size="3.2" text-anchor="end" font-weight="700" fill="#2a2a2a">5</text>
<path d="M738.4 333L740 333" stroke="#3a3a3a" stroke-width="0.45" fill="none"/>
<text x="737.7" y="334.1" font-size="3.2" text-anchor="end" font-weight="700" fill="#2a2a2a">0</text>
<path d="M739.1 284.75L740 284.75" stroke="#555" stroke-width="0.35" fill="none"/>
<path d="M739.1 290L740 290" stroke="#555" stroke-width="0.35" fill="none"/>
<path d="M739.1 295.25L740 295.25" stroke="#555" stroke-width="0.35" fill="none"/>
<path d="M739.1 300.5L740 300.5" stroke="#555" stroke-width="0.35" fill="none"/>
<path d="M739.1 311.2L740 311.2" stroke="#555" stroke-width="0.35" fill="none"/>
<path d="M739.1 316.65L740 316.65" stroke="#555" stroke-width="0.35" fill="none"/>
<path d="M739.1 322.1L740 322.1" stroke="#555" stroke-width="0.35" fill="none"/>
<path d="M739.1 327.55L740 327.55" stroke="#555" stroke-width="0.35" fill="none"/>
<text x="730.3" y="305" font-size="2.9" text-anchor="middle" font-weight="700" fill="#2a2a2a" transform="rotate(-90 730.3 305)" textLength="42" lengthAdjust="spacingAndGlyphs">Break loose force (N)</text>
<path d="M743.75 293.25L743.75 301" stroke="#444" stroke-width="0.4" fill="none"/>
<path d="M742.95 293.25L744.55 293.25" stroke="#444" stroke-width="0.4" fill="none"/>
<path d="M742.95 301L744.55 301" stroke="#444" stroke-width="0.4" fill="none"/>
<circle cx="743.75" cy="293.55" r="0.75" fill="#111"/>
<circle cx="743.75" cy="300.7" r="0.75" fill="#111"/>
<circle cx="743.75" cy="300" r="0.95" fill="#111"/>
<circle cx="744.65" cy="299.5" r="0.76" fill="#111"/>
<circle cx="742.95" cy="300.5" r="0.76" fill="#111"/>
<path d="M748.75 293.25L748.75 301.5" stroke="#444" stroke-width="0.4" fill="none"/>
<path d="M747.95 293.25L749.55 293.25" stroke="#444" stroke-width="0.4" fill="none"/>
<path d="M747.95 301.5L749.55 301.5" stroke="#444" stroke-width="0.4" fill="none"/>
<circle cx="748.75" cy="293.55" r="0.75" fill="#111"/>
<circle cx="748.75" cy="301.2" r="0.75" fill="#111"/>
<circle cx="748.75" cy="300" r="0.95" fill="#111"/>
<circle cx="749.65" cy="299.5" r="0.76" fill="#111"/>
<circle cx="747.95" cy="300.5" r="0.76" fill="#111"/>
<circle cx="754.25" cy="300.5" r="0.95" fill="#111"/>
<circle cx="755.15" cy="300" r="0.76" fill="#111"/>
<circle cx="753.45" cy="301" r="0.76" fill="#111"/>
<path d="M763.75 291.75L763.75 301.25" stroke="#444" stroke-width="0.4" fill="none"/>
<path d="M762.95 291.75L764.55 291.75" stroke="#444" stroke-width="0.4" fill="none"/>
<path d="M762.95 301.25L764.55 301.25" stroke="#444" stroke-width="0.4" fill="none"/>
<circle cx="763.75" cy="292.05" r="0.75" fill="#111"/>
<circle cx="763.75" cy="300.95" r="0.75" fill="#111"/>
<circle cx="763.75" cy="297.5" r="0.95" fill="#111"/>
<circle cx="764.65" cy="297" r="0.76" fill="#111"/>
<circle cx="762.95" cy="298" r="0.76" fill="#111"/>
<circle cx="768.75" cy="302" r="0.95" fill="#111"/>
<circle cx="769.65" cy="301.5" r="0.76" fill="#111"/>
<circle cx="767.95" cy="302.5" r="0.76" fill="#111"/>
<path d="M774.25 303L774.25 308" stroke="#444" stroke-width="0.4" fill="none"/>
<path d="M773.45 303L775.05 303" stroke="#444" stroke-width="0.4" fill="none"/>
<path d="M773.45 308L775.05 308" stroke="#444" stroke-width="0.4" fill="none"/>
<circle cx="774.25" cy="303.3" r="0.75" fill="#111"/>
<circle cx="774.25" cy="307.7" r="0.75" fill="#111"/>
<circle cx="774.25" cy="305.5" r="0.95" fill="#111"/>
<circle cx="775.15" cy="305" r="0.76" fill="#111"/>
<circle cx="773.45" cy="306" r="0.76" fill="#111"/>
<path d="M783.75 296.25L783.75 301.25" stroke="#444" stroke-width="0.4" fill="none"/>
<path d="M782.95 296.25L784.55 296.25" stroke="#444" stroke-width="0.4" fill="none"/>
<path d="M782.95 301.25L784.55 301.25" stroke="#444" stroke-width="0.4" fill="none"/>
<circle cx="783.75" cy="296.55" r="0.75" fill="#111"/>
<circle cx="783.75" cy="300.95" r="0.75" fill="#111"/>
<circle cx="783.75" cy="299.5" r="0.95" fill="#111"/>
<circle cx="784.65" cy="299" r="0.76" fill="#111"/>
<circle cx="782.95" cy="300" r="0.76" fill="#111"/>
<circle cx="789.25" cy="301.75" r="0.95" fill="#111"/>
<circle cx="790.15" cy="301.25" r="0.76" fill="#111"/>
<circle cx="788.45" cy="302.25" r="0.76" fill="#111"/>
<path d="M795 303.75L795 308.75" stroke="#444" stroke-width="0.4" fill="none"/>
<path d="M794.2 303.75L795.8 303.75" stroke="#444" stroke-width="0.4" fill="none"/>
<path d="M794.2 308.75L795.8 308.75" stroke="#444" stroke-width="0.4" fill="none"/>
<circle cx="795" cy="304.05" r="0.75" fill="#111"/>
<circle cx="795" cy="308.45" r="0.75" fill="#111"/>
<circle cx="795" cy="305.5" r="0.95" fill="#111"/>
<circle cx="795.9" cy="305" r="0.76" fill="#111"/>
<circle cx="794.2" cy="306" r="0.76" fill="#111"/>
<circle cx="803.75" cy="303" r="0.95" fill="#111"/>
<circle cx="804.65" cy="302.5" r="0.76" fill="#111"/>
<circle cx="802.95" cy="303.5" r="0.76" fill="#111"/>
<circle cx="810" cy="303.2" r="0.95" fill="#111"/>
<circle cx="810.9" cy="302.7" r="0.76" fill="#111"/>
<circle cx="809.2" cy="303.7" r="0.76" fill="#111"/>
<circle cx="815.5" cy="303.5" r="0.95" fill="#111"/>
<circle cx="816.4" cy="303" r="0.76" fill="#111"/>
<circle cx="814.7" cy="304" r="0.76" fill="#111"/>
<path d="M743.75 334.8L743.75 336" stroke="#3a3a3a" stroke-width="0.4" fill="none"/>
<text x="744.65" y="337.2" font-size="2.2" text-anchor="end" font-weight="700" fill="#2a2a2a" transform="rotate(-52 744.65 337.2)">T0</text>
<path d="M748.75 334.8L748.75 336" stroke="#3a3a3a" stroke-width="0.4" fill="none"/>
<text x="749.65" y="337.2" font-size="2.2" text-anchor="end" font-weight="700" fill="#2a2a2a" transform="rotate(-52 749.65 337.2)">A-3D</text>
<path d="M754.25 334.8L754.25 336" stroke="#3a3a3a" stroke-width="0.4" fill="none"/>
<text x="755.15" y="337.2" font-size="2.2" text-anchor="end" font-weight="700" fill="#2a2a2a" transform="rotate(-52 755.15 337.2)">40C-1M</text>
<path d="M763.75 334.8L763.75 336" stroke="#3a3a3a" stroke-width="0.4" fill="none"/>
<text x="764.65" y="337.2" font-size="2.2" text-anchor="end" font-weight="700" fill="#2a2a2a" transform="rotate(-52 764.65 337.2)">T0</text>
<path d="M768.75 334.8L768.75 336" stroke="#3a3a3a" stroke-width="0.4" fill="none"/>
<text x="769.65" y="337.2" font-size="2.2" text-anchor="end" font-weight="700" fill="#2a2a2a" transform="rotate(-52 769.65 337.2)">A-3D</text>
<path d="M774.25 334.8L774.25 336" stroke="#3a3a3a" stroke-width="0.4" fill="none"/>
<text x="775.15" y="337.2" font-size="2.2" text-anchor="end" font-weight="700" fill="#2a2a2a" transform="rotate(-52 775.15 337.2)">40C-1M</text>
<path d="M783.75 334.8L783.75 336" stroke="#3a3a3a" stroke-width="0.4" fill="none"/>
<text x="784.65" y="337.2" font-size="2.2" text-anchor="end" font-weight="700" fill="#2a2a2a" transform="rotate(-52 784.65 337.2)">T0</text>
<path d="M789.25 334.8L789.25 336" stroke="#3a3a3a" stroke-width="0.4" fill="none"/>
<text x="790.15" y="337.2" font-size="2.2" text-anchor="end" font-weight="700" fill="#2a2a2a" transform="rotate(-52 790.15 337.2)">A-3D</text>
<path d="M795 334.8L795 336" stroke="#3a3a3a" stroke-width="0.4" fill="none"/>
<text x="795.9" y="337.2" font-size="2.2" text-anchor="end" font-weight="700" fill="#2a2a2a" transform="rotate(-52 795.9 337.2)">40C-1M</text>
<path d="M803.75 334.8L803.75 336" stroke="#3a3a3a" stroke-width="0.4" fill="none"/>
<text x="804.65" y="337.2" font-size="2.2" text-anchor="end" font-weight="700" fill="#2a2a2a" transform="rotate(-52 804.65 337.2)">T0</text>
<path d="M810 334.8L810 336" stroke="#3a3a3a" stroke-width="0.4" fill="none"/>
<text x="810.9" y="337.2" font-size="2.2" text-anchor="end" font-weight="700" fill="#2a2a2a" transform="rotate(-52 810.9 337.2)">A-3D</text>
<path d="M815.5 334.8L815.5 336" stroke="#3a3a3a" stroke-width="0.4" fill="none"/>
<text x="816.4" y="337.2" font-size="2.2" text-anchor="end" font-weight="700" fill="#2a2a2a" transform="rotate(-52 816.4 337.2)">40C-1M</text>
<path d="M742 346.25L756 346.25" stroke="#333" stroke-width="0.45" fill="none"/>
<text x="749" y="350.97" font-size="2.7" text-anchor="middle" font-weight="700" fill="#2a2a2a">mAb 1</text>
<path d="M762 346.25L776 346.25" stroke="#333" stroke-width="0.45" fill="none"/>
<text x="769" y="350.97" font-size="2.7" text-anchor="middle" font-weight="700" fill="#2a2a2a">mAb 2</text>
<path d="M782 346.25L796.5 346.25" stroke="#333" stroke-width="0.45" fill="none"/>
<text x="789.25" y="350.97" font-size="2.7" text-anchor="middle" font-weight="700" fill="#2a2a2a">mAb 3</text>
<path d="M802 346.25L817 346.25" stroke="#333" stroke-width="0.45" fill="none"/>
<text x="809.5" y="350.97" font-size="2.7" text-anchor="middle" font-weight="700" fill="#2a2a2a">Placebo</text>
<path d="M845 282L845 334.75" stroke="#3a3a3a" stroke-width="0.5" fill="none"/>
<path d="M844.75 334.5L923.75 334.5" stroke="#3a3a3a" stroke-width="0.5" fill="none"/>
<path d="M843.4 291.25L845 291.25" stroke="#3a3a3a" stroke-width="0.45" fill="none"/>
<text x="842.7" y="292.35" font-size="3.2" text-anchor="end" font-weight="700" fill="#2a2a2a">10</text>
<path d="M843.4 312.5L845 312.5" stroke="#3a3a3a" stroke-width="0.45" fill="none"/>
<text x="842.7" y="313.6" font-size="3.2" text-anchor="end" font-weight="700" fill="#2a2a2a">5</text>
<path d="M843.4 334.5L845 334.5" stroke="#3a3a3a" stroke-width="0.45" fill="none"/>
<text x="842.7" y="335.6" font-size="3.2" text-anchor="end" font-weight="700" fill="#2a2a2a">0</text>
<path d="M844.1 295.5L845 295.5" stroke="#555" stroke-width="0.35" fill="none"/>
<path d="M844.1 299.75L845 299.75" stroke="#555" stroke-width="0.35" fill="none"/>
<path d="M844.1 304L845 304" stroke="#555" stroke-width="0.35" fill="none"/>
<path d="M844.1 308.25L845 308.25" stroke="#555" stroke-width="0.35" fill="none"/>
<path d="M844.1 316.9L845 316.9" stroke="#555" stroke-width="0.35" fill="none"/>
<path d="M844.1 321.3L845 321.3" stroke="#555" stroke-width="0.35" fill="none"/>
<path d="M844.1 325.7L845 325.7" stroke="#555" stroke-width="0.35" fill="none"/>
<path d="M844.1 330.1L845 330.1" stroke="#555" stroke-width="0.35" fill="none"/>
<text x="835.7" y="307.5" font-size="2.9" text-anchor="middle" font-weight="700" fill="#2a2a2a" transform="rotate(-90 835.7 307.5)" textLength="44" lengthAdjust="spacingAndGlyphs">Average glide force (N)</text>
<path d="M849.25 294.5L849.25 311.25" stroke="#444" stroke-width="0.4" fill="none"/>
<path d="M848.45 294.5L850.05 294.5" stroke="#444" stroke-width="0.4" fill="none"/>
<path d="M848.45 311.25L850.05 311.25" stroke="#444" stroke-width="0.4" fill="none"/>
<circle cx="849.25" cy="294.8" r="0.75" fill="#111"/>
<circle cx="849.25" cy="310.95" r="0.75" fill="#111"/>
<circle cx="849.25" cy="300" r="0.95" fill="#111"/>
<circle cx="850.15" cy="299.5" r="0.76" fill="#111"/>
<circle cx="848.45" cy="300.5" r="0.76" fill="#111"/>
<path d="M854.5 298L854.5 310" stroke="#444" stroke-width="0.4" fill="none"/>
<path d="M853.7 298L855.3 298" stroke="#444" stroke-width="0.4" fill="none"/>
<path d="M853.7 310L855.3 310" stroke="#444" stroke-width="0.4" fill="none"/>
<circle cx="854.5" cy="298.3" r="0.75" fill="#111"/>
<circle cx="854.5" cy="309.7" r="0.75" fill="#111"/>
<circle cx="854.5" cy="306.25" r="0.95" fill="#111"/>
<circle cx="855.4" cy="305.75" r="0.76" fill="#111"/>
<circle cx="853.7" cy="306.75" r="0.76" fill="#111"/>
<path d="M860 299.5L860 304.5" stroke="#444" stroke-width="0.4" fill="none"/>
<path d="M859.2 299.5L860.8 299.5" stroke="#444" stroke-width="0.4" fill="none"/>
<path d="M859.2 304.5L860.8 304.5" stroke="#444" stroke-width="0.4" fill="none"/>
<circle cx="860" cy="299.8" r="0.75" fill="#111"/>
<circle cx="860" cy="304.2" r="0.75" fill="#111"/>
<circle cx="860" cy="301.25" r="0.95" fill="#111"/>
<circle cx="860.9" cy="300.75" r="0.76" fill="#111"/>
<circle cx="859.2" cy="301.75" r="0.76" fill="#111"/>
<path d="M869.25 291.25L869.25 310" stroke="#444" stroke-width="0.4" fill="none"/>
<path d="M868.45 291.25L870.05 291.25" stroke="#444" stroke-width="0.4" fill="none"/>
<path d="M868.45 310L870.05 310" stroke="#444" stroke-width="0.4" fill="none"/>
<circle cx="869.25" cy="291.55" r="0.75" fill="#111"/>
<circle cx="869.25" cy="309.7" r="0.75" fill="#111"/>
<circle cx="869.25" cy="296.25" r="0.95" fill="#111"/>
<circle cx="870.15" cy="295.75" r="0.76" fill="#111"/>
<circle cx="868.45" cy="296.75" r="0.76" fill="#111"/>
<path d="M874.5 306.25L874.5 311.25" stroke="#444" stroke-width="0.4" fill="none"/>
<path d="M873.7 306.25L875.3 306.25" stroke="#444" stroke-width="0.4" fill="none"/>
<path d="M873.7 311.25L875.3 311.25" stroke="#444" stroke-width="0.4" fill="none"/>
<circle cx="874.5" cy="306.55" r="0.75" fill="#111"/>
<circle cx="874.5" cy="310.95" r="0.75" fill="#111"/>
<circle cx="874.5" cy="308" r="0.95" fill="#111"/>
<circle cx="875.4" cy="307.5" r="0.76" fill="#111"/>
<circle cx="873.7" cy="308.5" r="0.76" fill="#111"/>
<path d="M880 305.5L880 311.25" stroke="#444" stroke-width="0.4" fill="none"/>
<path d="M879.2 305.5L880.8 305.5" stroke="#444" stroke-width="0.4" fill="none"/>
<path d="M879.2 311.25L880.8 311.25" stroke="#444" stroke-width="0.4" fill="none"/>
<circle cx="880" cy="305.8" r="0.75" fill="#111"/>
<circle cx="880" cy="310.95" r="0.75" fill="#111"/>
<circle cx="880" cy="308" r="0.95" fill="#111"/>
<circle cx="880.9" cy="307.5" r="0.76" fill="#111"/>
<circle cx="879.2" cy="308.5" r="0.76" fill="#111"/>
<path d="M889.25 297L889.25 314.25" stroke="#444" stroke-width="0.4" fill="none"/>
<path d="M888.45 297L890.05 297" stroke="#444" stroke-width="0.4" fill="none"/>
<path d="M888.45 314.25L890.05 314.25" stroke="#444" stroke-width="0.4" fill="none"/>
<circle cx="889.25" cy="297.3" r="0.75" fill="#111"/>
<circle cx="889.25" cy="313.95" r="0.75" fill="#111"/>
<circle cx="889.25" cy="305.5" r="0.95" fill="#111"/>
<circle cx="890.15" cy="305" r="0.76" fill="#111"/>
<circle cx="888.45" cy="306" r="0.76" fill="#111"/>
<path d="M894.5 305.5L894.5 311.25" stroke="#444" stroke-width="0.4" fill="none"/>
<path d="M893.7 305.5L895.3 305.5" stroke="#444" stroke-width="0.4" fill="none"/>
<path d="M893.7 311.25L895.3 311.25" stroke="#444" stroke-width="0.4" fill="none"/>
<circle cx="894.5" cy="305.8" r="0.75" fill="#111"/>
<circle cx="894.5" cy="310.95" r="0.75" fill="#111"/>
<circle cx="894.5" cy="307.5" r="0.95" fill="#111"/>
<circle cx="895.4" cy="307" r="0.76" fill="#111"/>
<circle cx="893.7" cy="308" r="0.76" fill="#111"/>
<path d="M900 307.5L900 315" stroke="#444" stroke-width="0.4" fill="none"/>
<path d="M899.2 307.5L900.8 307.5" stroke="#444" stroke-width="0.4" fill="none"/>
<path d="M899.2 315L900.8 315" stroke="#444" stroke-width="0.4" fill="none"/>
<circle cx="900" cy="307.8" r="0.75" fill="#111"/>
<circle cx="900" cy="314.7" r="0.75" fill="#111"/>
<circle cx="900" cy="310.75" r="0.95" fill="#111"/>
<circle cx="900.9" cy="310.25" r="0.76" fill="#111"/>
<circle cx="899.2" cy="311.25" r="0.76" fill="#111"/>
<path d="M909.25 313.5L909.25 316.5" stroke="#444" stroke-width="0.4" fill="none"/>
<path d="M908.45 313.5L910.05 313.5" stroke="#444" stroke-width="0.4" fill="none"/>
<path d="M908.45 316.5L910.05 316.5" stroke="#444" stroke-width="0.4" fill="none"/>
<circle cx="909.25" cy="313.8" r="0.75" fill="#111"/>
<circle cx="909.25" cy="316.2" r="0.75" fill="#111"/>
<circle cx="909.25" cy="315" r="0.95" fill="#111"/>
<circle cx="910.15" cy="314.5" r="0.76" fill="#111"/>
<circle cx="908.45" cy="315.5" r="0.76" fill="#111"/>
<path d="M914.5 313.5L914.5 317" stroke="#444" stroke-width="0.4" fill="none"/>
<path d="M913.7 313.5L915.3 313.5" stroke="#444" stroke-width="0.4" fill="none"/>
<path d="M913.7 317L915.3 317" stroke="#444" stroke-width="0.4" fill="none"/>
<circle cx="914.5" cy="313.8" r="0.75" fill="#111"/>
<circle cx="914.5" cy="316.7" r="0.75" fill="#111"/>
<circle cx="914.5" cy="315" r="0.95" fill="#111"/>
<circle cx="915.4" cy="314.5" r="0.76" fill="#111"/>
<circle cx="913.7" cy="315.5" r="0.76" fill="#111"/>
<circle cx="920" cy="317" r="0.95" fill="#111"/>
<circle cx="920.9" cy="316.5" r="0.76" fill="#111"/>
<circle cx="919.2" cy="317.5" r="0.76" fill="#111"/>
<path d="M858.75 296L858.75 278L921.75 278L921.75 315" stroke="#444" stroke-width="0.5" fill="none"/>
<text x="890.25" y="277.6" font-size="2.8" text-anchor="middle" font-weight="700" fill="#333">#</text>
<path d="M858.75 287.5L858.75 287.5L880 287.5L880 307.5" stroke="#444" stroke-width="0.5" fill="none"/>
<text x="869.38" y="287.1" font-size="2.8" text-anchor="middle" font-weight="700" fill="#333">**</text>
<path d="M880 294.25L880 294.25L921.75 294.25L921.75 294.25" stroke="#444" stroke-width="0.5" fill="none"/>
<text x="900.88" y="293.85" font-size="2.8" text-anchor="middle" font-weight="700" fill="#333">*</text>
<path d="M849.25 336.4L849.25 337.6" stroke="#3a3a3a" stroke-width="0.4" fill="none"/>
<text x="850.15" y="338.8" font-size="2.2" text-anchor="end" font-weight="700" fill="#2a2a2a" transform="rotate(-52 850.15 338.8)">T0</text>
<path d="M854.5 336.4L854.5 337.6" stroke="#3a3a3a" stroke-width="0.4" fill="none"/>
<text x="855.4" y="338.8" font-size="2.2" text-anchor="end" font-weight="700" fill="#2a2a2a" transform="rotate(-52 855.4 338.8)">A-3D</text>
<path d="M860 336.4L860 337.6" stroke="#3a3a3a" stroke-width="0.4" fill="none"/>
<text x="860.9" y="338.8" font-size="2.2" text-anchor="end" font-weight="700" fill="#2a2a2a" transform="rotate(-52 860.9 338.8)">40C-1M</text>
<path d="M869.25 336.4L869.25 337.6" stroke="#3a3a3a" stroke-width="0.4" fill="none"/>
<text x="870.15" y="338.8" font-size="2.2" text-anchor="end" font-weight="700" fill="#2a2a2a" transform="rotate(-52 870.15 338.8)">T0</text>
<path d="M874.5 336.4L874.5 337.6" stroke="#3a3a3a" stroke-width="0.4" fill="none"/>
<text x="875.4" y="338.8" font-size="2.2" text-anchor="end" font-weight="700" fill="#2a2a2a" transform="rotate(-52 875.4 338.8)">A-3D</text>
<path d="M880 336.4L880 337.6" stroke="#3a3a3a" stroke-width="0.4" fill="none"/>
<text x="880.9" y="338.8" font-size="2.2" text-anchor="end" font-weight="700" fill="#2a2a2a" transform="rotate(-52 880.9 338.8)">40C-1M</text>
<path d="M889.25 336.4L889.25 337.6" stroke="#3a3a3a" stroke-width="0.4" fill="none"/>
<text x="890.15" y="338.8" font-size="2.2" text-anchor="end" font-weight="700" fill="#2a2a2a" transform="rotate(-52 890.15 338.8)">T0</text>
<path d="M894.5 336.4L894.5 337.6" stroke="#3a3a3a" stroke-width="0.4" fill="none"/>
<text x="895.4" y="338.8" font-size="2.2" text-anchor="end" font-weight="700" fill="#2a2a2a" transform="rotate(-52 895.4 338.8)">A-3D</text>
<path d="M900 336.4L900 337.6" stroke="#3a3a3a" stroke-width="0.4" fill="none"/>
<text x="900.9" y="338.8" font-size="2.2" text-anchor="end" font-weight="700" fill="#2a2a2a" transform="rotate(-52 900.9 338.8)">40C-1M</text>
<path d="M909.25 336.4L909.25 337.6" stroke="#3a3a3a" stroke-width="0.4" fill="none"/>
<text x="910.15" y="338.8" font-size="2.2" text-anchor="end" font-weight="700" fill="#2a2a2a" transform="rotate(-52 910.15 338.8)">T0</text>
<path d="M914.5 336.4L914.5 337.6" stroke="#3a3a3a" stroke-width="0.4" fill="none"/>
<text x="915.4" y="338.8" font-size="2.2" text-anchor="end" font-weight="700" fill="#2a2a2a" transform="rotate(-52 915.4 338.8)">A-3D</text>
<path d="M920 336.4L920 337.6" stroke="#3a3a3a" stroke-width="0.4" fill="none"/>
<text x="920.9" y="338.8" font-size="2.2" text-anchor="end" font-weight="700" fill="#2a2a2a" transform="rotate(-52 920.9 338.8)">40C-1M</text>
<path d="M847.5 348.25L862 348.25" stroke="#333" stroke-width="0.45" fill="none"/>
<text x="854.75" y="352.72" font-size="2.7" text-anchor="middle" font-weight="700" fill="#2a2a2a">mAb 1</text>
<path d="M867.5 348.25L882 348.25" stroke="#333" stroke-width="0.45" fill="none"/>
<text x="874.75" y="352.72" font-size="2.7" text-anchor="middle" font-weight="700" fill="#2a2a2a">mAb 2</text>
<path d="M887.5 348.25L902 348.25" stroke="#333" stroke-width="0.45" fill="none"/>
<text x="894.75" y="352.72" font-size="2.7" text-anchor="middle" font-weight="700" fill="#2a2a2a">mAb 3</text>
<path d="M907.5 348.25L922 348.25" stroke="#333" stroke-width="0.45" fill="none"/>
<text x="914.75" y="352.72" font-size="2.7" text-anchor="middle" font-weight="700" fill="#2a2a2a">Placebo</text>
<path d="M955 278.75L955 335.75" stroke="#3a3a3a" stroke-width="0.5" fill="none"/>
<path d="M954.75 335.5L1038.75 335.5" stroke="#3a3a3a" stroke-width="0.5" fill="none"/>
<path d="M953.4 280L955 280" stroke="#3a3a3a" stroke-width="0.45" fill="none"/>
<text x="952.7" y="281.1" font-size="3.2" text-anchor="end" font-weight="700" fill="#2a2a2a">15</text>
<path d="M953.4 298.75L955 298.75" stroke="#3a3a3a" stroke-width="0.45" fill="none"/>
<text x="952.7" y="299.85" font-size="3.2" text-anchor="end" font-weight="700" fill="#2a2a2a">10</text>
<path d="M953.4 316.25L955 316.25" stroke="#3a3a3a" stroke-width="0.45" fill="none"/>
<text x="952.7" y="317.35" font-size="3.2" text-anchor="end" font-weight="700" fill="#2a2a2a">5</text>
<path d="M953.4 335.5L955 335.5" stroke="#3a3a3a" stroke-width="0.45" fill="none"/>
<text x="952.7" y="336.6" font-size="3.2" text-anchor="end" font-weight="700" fill="#2a2a2a">0</text>
<path d="M954.1 283.75L955 283.75" stroke="#555" stroke-width="0.35" fill="none"/>
<path d="M954.1 287.5L955 287.5" stroke="#555" stroke-width="0.35" fill="none"/>
<path d="M954.1 291.25L955 291.25" stroke="#555" stroke-width="0.35" fill="none"/>
<path d="M954.1 295L955 295" stroke="#555" stroke-width="0.35" fill="none"/>
<path d="M954.1 302.25L955 302.25" stroke="#555" stroke-width="0.35" fill="none"/>
<path d="M954.1 305.75L955 305.75" stroke="#555" stroke-width="0.35" fill="none"/>
<path d="M954.1 309.25L955 309.25" stroke="#555" stroke-width="0.35" fill="none"/>
<path d="M954.1 312.75L955 312.75" stroke="#555" stroke-width="0.35" fill="none"/>
<path d="M954.1 320.1L955 320.1" stroke="#555" stroke-width="0.35" fill="none"/>
<path d="M954.1 323.95L955 323.95" stroke="#555" stroke-width="0.35" fill="none"/>
<path d="M954.1 327.8L955 327.8" stroke="#555" stroke-width="0.35" fill="none"/>
<path d="M954.1 331.65L955 331.65" stroke="#555" stroke-width="0.35" fill="none"/>
<text x="945.3" y="307.5" font-size="2.9" text-anchor="middle" font-weight="700" fill="#2a2a2a" transform="rotate(-90 945.3 307.5)" textLength="38" lengthAdjust="spacingAndGlyphs">Max glide force (N)</text>
<path d="M959.25 297L959.25 312.5" stroke="#444" stroke-width="0.4" fill="none"/>
<path d="M958.45 297L960.05 297" stroke="#444" stroke-width="0.4" fill="none"/>
<path d="M958.45 312.5L960.05 312.5" stroke="#444" stroke-width="0.4" fill="none"/>
<circle cx="959.25" cy="297.3" r="0.75" fill="#111"/>
<circle cx="959.25" cy="312.2" r="0.75" fill="#111"/>
<circle cx="959.25" cy="303.75" r="0.95" fill="#111"/>
<circle cx="960.15" cy="303.25" r="0.76" fill="#111"/>
<circle cx="958.45" cy="304.25" r="0.76" fill="#111"/>
<path d="M965 300L965 313.75" stroke="#444" stroke-width="0.4" fill="none"/>
<path d="M964.2 300L965.8 300" stroke="#444" stroke-width="0.4" fill="none"/>
<path d="M964.2 313.75L965.8 313.75" stroke="#444" stroke-width="0.4" fill="none"/>
<circle cx="965" cy="300.3" r="0.75" fill="#111"/>
<circle cx="965" cy="313.45" r="0.75" fill="#111"/>
<circle cx="965" cy="310.75" r="0.95" fill="#111"/>
<circle cx="965.9" cy="310.25" r="0.76" fill="#111"/>
<circle cx="964.2" cy="311.25" r="0.76" fill="#111"/>
<path d="M970.75 300L970.75 305.5" stroke="#444" stroke-width="0.4" fill="none"/>
<path d="M969.95 300L971.55 300" stroke="#444" stroke-width="0.4" fill="none"/>
<path d="M969.95 305.5L971.55 305.5" stroke="#444" stroke-width="0.4" fill="none"/>
<circle cx="970.75" cy="300.3" r="0.75" fill="#111"/>
<circle cx="970.75" cy="305.2" r="0.75" fill="#111"/>
<circle cx="970.75" cy="303" r="0.95" fill="#111"/>
<circle cx="971.65" cy="302.5" r="0.76" fill="#111"/>
<circle cx="969.95" cy="303.5" r="0.76" fill="#111"/>
<path d="M980 291.25L980 312" stroke="#444" stroke-width="0.4" fill="none"/>
<path d="M979.2 291.25L980.8 291.25" stroke="#444" stroke-width="0.4" fill="none"/>
<path d="M979.2 312L980.8 312" stroke="#444" stroke-width="0.4" fill="none"/>
<circle cx="980" cy="291.55" r="0.75" fill="#111"/>
<circle cx="980" cy="311.7" r="0.75" fill="#111"/>
<circle cx="980" cy="294.5" r="0.95" fill="#111"/>
<circle cx="980.9" cy="294" r="0.76" fill="#111"/>
<circle cx="979.2" cy="295" r="0.76" fill="#111"/>
<path d="M985.75 309.5L985.75 313" stroke="#444" stroke-width="0.4" fill="none"/>
<path d="M984.95 309.5L986.55 309.5" stroke="#444" stroke-width="0.4" fill="none"/>
<path d="M984.95 313L986.55 313" stroke="#444" stroke-width="0.4" fill="none"/>
<circle cx="985.75" cy="309.8" r="0.75" fill="#111"/>
<circle cx="985.75" cy="312.7" r="0.75" fill="#111"/>
<circle cx="985.75" cy="311.25" r="0.95" fill="#111"/>
<circle cx="986.65" cy="310.75" r="0.76" fill="#111"/>
<circle cx="984.95" cy="311.75" r="0.76" fill="#111"/>
<path d="M991.75 309.5L991.75 313" stroke="#444" stroke-width="0.4" fill="none"/>
<path d="M990.95 309.5L992.55 309.5" stroke="#444" stroke-width="0.4" fill="none"/>
<path d="M990.95 313L992.55 313" stroke="#444" stroke-width="0.4" fill="none"/>
<circle cx="991.75" cy="309.8" r="0.75" fill="#111"/>
<circle cx="991.75" cy="312.7" r="0.75" fill="#111"/>
<circle cx="991.75" cy="311.25" r="0.95" fill="#111"/>
<circle cx="992.65" cy="310.75" r="0.76" fill="#111"/>
<circle cx="990.95" cy="311.75" r="0.76" fill="#111"/>
<path d="M1001.75 300.75L1001.75 313.25" stroke="#444" stroke-width="0.4" fill="none"/>
<path d="M1000.95 300.75L1002.55 300.75" stroke="#444" stroke-width="0.4" fill="none"/>
<path d="M1000.95 313.25L1002.55 313.25" stroke="#444" stroke-width="0.4" fill="none"/>
<circle cx="1001.75" cy="301.05" r="0.75" fill="#111"/>
<circle cx="1001.75" cy="312.95" r="0.75" fill="#111"/>
<circle cx="1001.75" cy="307.5" r="0.95" fill="#111"/>
<circle cx="1002.65" cy="307" r="0.76" fill="#111"/>
<circle cx="1000.95" cy="308" r="0.76" fill="#111"/>
<path d="M1007.5 309L1007.5 314" stroke="#444" stroke-width="0.4" fill="none"/>
<path d="M1006.7 309L1008.3 309" stroke="#444" stroke-width="0.4" fill="none"/>
<path d="M1006.7 314L1008.3 314" stroke="#444" stroke-width="0.4" fill="none"/>
<circle cx="1007.5" cy="309.3" r="0.75" fill="#111"/>
<circle cx="1007.5" cy="313.7" r="0.75" fill="#111"/>
<circle cx="1007.5" cy="311.25" r="0.95" fill="#111"/>
<circle cx="1008.4" cy="310.75" r="0.76" fill="#111"/>
<circle cx="1006.7" cy="311.75" r="0.76" fill="#111"/>
<path d="M1013.25 310L1013.25 317" stroke="#444" stroke-width="0.4" fill="none"/>
<path d="M1012.45 310L1014.05 310" stroke="#444" stroke-width="0.4" fill="none"/>
<path d="M1012.45 317L1014.05 317" stroke="#444" stroke-width="0.4" fill="none"/>
<circle cx="1013.25" cy="310.3" r="0.75" fill="#111"/>
<circle cx="1013.25" cy="316.7" r="0.75" fill="#111"/>
<circle cx="1013.25" cy="312.5" r="0.95" fill="#111"/>
<circle cx="1014.15" cy="312" r="0.76" fill="#111"/>
<circle cx="1012.45" cy="313" r="0.76" fill="#111"/>
<circle cx="1023" cy="313.75" r="0.95" fill="#111"/>
<circle cx="1023.9" cy="313.25" r="0.76" fill="#111"/>
<circle cx="1022.2" cy="314.25" r="0.76" fill="#111"/>
<circle cx="1028.75" cy="313.75" r="0.95" fill="#111"/>
<circle cx="1029.65" cy="313.25" r="0.76" fill="#111"/>
<circle cx="1027.95" cy="314.25" r="0.76" fill="#111"/>
<circle cx="1034.5" cy="317.5" r="0.95" fill="#111"/>
<circle cx="1035.4" cy="317" r="0.76" fill="#111"/>
<circle cx="1033.7" cy="318" r="0.76" fill="#111"/>
<path d="M969.25 297.5L969.25 276.25L1035.75 276.25L1035.75 313.75" stroke="#444" stroke-width="0.5" fill="none"/>
<text x="1002.5" y="275.85" font-size="2.8" text-anchor="middle" font-weight="700" fill="#333">#</text>
<path d="M969.25 285.75L969.25 285.75L991.75 285.75L991.75 307.5" stroke="#444" stroke-width="0.5" fill="none"/>
<text x="980.5" y="285.35" font-size="2.8" text-anchor="middle" font-weight="700" fill="#333">**</text>
<path d="M991.75 293L991.75 293L1035.75 293L1035.75 293" stroke="#444" stroke-width="0.5" fill="none"/>
<text x="1013.75" y="292.6" font-size="2.8" text-anchor="middle" font-weight="700" fill="#333">**</text>
<path d="M959.25 337.4L959.25 338.6" stroke="#3a3a3a" stroke-width="0.4" fill="none"/>
<text x="960.15" y="339.8" font-size="2.2" text-anchor="end" font-weight="700" fill="#2a2a2a" transform="rotate(-52 960.15 339.8)">T0</text>
<path d="M965 337.4L965 338.6" stroke="#3a3a3a" stroke-width="0.4" fill="none"/>
<text x="965.9" y="339.8" font-size="2.2" text-anchor="end" font-weight="700" fill="#2a2a2a" transform="rotate(-52 965.9 339.8)">A-3D</text>
<path d="M970.75 337.4L970.75 338.6" stroke="#3a3a3a" stroke-width="0.4" fill="none"/>
<text x="971.65" y="339.8" font-size="2.2" text-anchor="end" font-weight="700" fill="#2a2a2a" transform="rotate(-52 971.65 339.8)">40C-1M</text>
<path d="M980 337.4L980 338.6" stroke="#3a3a3a" stroke-width="0.4" fill="none"/>
<text x="980.9" y="339.8" font-size="2.2" text-anchor="end" font-weight="700" fill="#2a2a2a" transform="rotate(-52 980.9 339.8)">T0</text>
<path d="M985.75 337.4L985.75 338.6" stroke="#3a3a3a" stroke-width="0.4" fill="none"/>
<text x="986.65" y="339.8" font-size="2.2" text-anchor="end" font-weight="700" fill="#2a2a2a" transform="rotate(-52 986.65 339.8)">A-3D</text>
<path d="M991.75 337.4L991.75 338.6" stroke="#3a3a3a" stroke-width="0.4" fill="none"/>
<text x="992.65" y="339.8" font-size="2.2" text-anchor="end" font-weight="700" fill="#2a2a2a" transform="rotate(-52 992.65 339.8)">40C-1M</text>
<path d="M1001.75 337.4L1001.75 338.6" stroke="#3a3a3a" stroke-width="0.4" fill="none"/>
<text x="1002.65" y="339.8" font-size="2.2" text-anchor="end" font-weight="700" fill="#2a2a2a" transform="rotate(-52 1002.65 339.8)">T0</text>
<path d="M1007.5 337.4L1007.5 338.6" stroke="#3a3a3a" stroke-width="0.4" fill="none"/>
<text x="1008.4" y="339.8" font-size="2.2" text-anchor="end" font-weight="700" fill="#2a2a2a" transform="rotate(-52 1008.4 339.8)">A-3D</text>
<path d="M1013.25 337.4L1013.25 338.6" stroke="#3a3a3a" stroke-width="0.4" fill="none"/>
<text x="1014.15" y="339.8" font-size="2.2" text-anchor="end" font-weight="700" fill="#2a2a2a" transform="rotate(-52 1014.15 339.8)">40C-1M</text>
<path d="M1023 337.4L1023 338.6" stroke="#3a3a3a" stroke-width="0.4" fill="none"/>
<text x="1023.9" y="339.8" font-size="2.2" text-anchor="end" font-weight="700" fill="#2a2a2a" transform="rotate(-52 1023.9 339.8)">T0</text>
<path d="M1028.75 337.4L1028.75 338.6" stroke="#3a3a3a" stroke-width="0.4" fill="none"/>
<text x="1029.65" y="339.8" font-size="2.2" text-anchor="end" font-weight="700" fill="#2a2a2a" transform="rotate(-52 1029.65 339.8)">A-3D</text>
<path d="M1034.5 337.4L1034.5 338.6" stroke="#3a3a3a" stroke-width="0.4" fill="none"/>
<text x="1035.4" y="339.8" font-size="2.2" text-anchor="end" font-weight="700" fill="#2a2a2a" transform="rotate(-52 1035.4 339.8)">40C-1M</text>
<path d="M957 350L973 350" stroke="#333" stroke-width="0.45" fill="none"/>
<text x="965" y="355.29" font-size="2.9" text-anchor="middle" font-weight="700" fill="#2a2a2a">mAb 1</text>
<path d="M978 350L994 350" stroke="#333" stroke-width="0.45" fill="none"/>
<text x="986" y="355.29" font-size="2.9" text-anchor="middle" font-weight="700" fill="#2a2a2a">mAb 2</text>
<path d="M999.5 350L1015.5 350" stroke="#333" stroke-width="0.45" fill="none"/>
<text x="1007.5" y="355.29" font-size="2.9" text-anchor="middle" font-weight="700" fill="#2a2a2a">mAb 3</text>
<path d="M1021 350L1037 350" stroke="#333" stroke-width="0.45" fill="none"/>
<text x="1029" y="355.29" font-size="2.9" text-anchor="middle" font-weight="700" fill="#2a2a2a">Placebo</text>
</g>
<g id="logo">
<text x="876.6" y="36.9" font-size="19.6" fill="#474747" stroke="#474747" stroke-width="0.5" textLength="144.4" lengthAdjust="spacingAndGlyphs">WuXi Biologics</text>
<text x="877" y="51.3" font-size="9" font-weight="700" fill="#5a5a5a" textLength="107.6" lengthAdjust="spacingAndGlyphs">Global Solution Provider</text>
<path d="M885.3 59L991 59L987.5 68.4L878.7 68.4z" fill="#2c80c4"/>
<path d="M988.4 51.3L1000.6 51.3L994 59.2L981.8 59.2z" fill="#3db5ea"/>
<path d="M992.5 44.7L1008 44.7L1002.5 51.4L987.3 51.4z" fill="#3aa84c"/>
<path d="M1008 44.7L1030.6 44.7L1025.9 51.4L1002.5 51.4z" fill="#8fae3e"/>
<path d="M1033.4 22.2L1048.4 22.2L1030.6 44.8L1017.5 44.8z" fill="#f2c62a"/>
</g>
<g id="pda">
<text x="16.6" y="724.9" font-size="19.2" font-weight="700" fill="#1f6396" stroke="#1f6396" stroke-width="0.55" textLength="39.8" lengthAdjust="spacingAndGlyphs" style="font-family:'Liberation Serif',serif">PDA</text>
<text x="56.3" y="714.6" font-size="2.4" fill="#1f6396">®</text>
<path d="M17 726.3L56.4 726.3" stroke="#1f6396" stroke-width="0.6" fill="none"/>
<text x="36.7" y="730.4" font-size="3" text-anchor="middle" font-weight="700" fill="#1f6396" textLength="38.6" lengthAdjust="spacingAndGlyphs">Parenteral Drug Association</text>
<path d="M17 731.9L56.4 731.9" stroke="#1f6396" stroke-width="0.6" fill="none"/>
<path d="M17 733.7L56.4 733.7" stroke="#1f6396" stroke-width="1.2" fill="none"/>
<path d="M17.2 733.7A19.5 12.2 0 0 0 56.2 733.7" stroke="#1f6396" stroke-width="1.1" fill="none"/>
<path d="M36.7 733.7L36.7 745.9" stroke="#1f6396" stroke-width="0.9" fill="none"/>
<path d="M27.5 733.7Q29.5 741.5 36.7 745.9M45.9 733.7Q43.9 741.5 36.7 745.9" stroke="#1f6396" stroke-width="0.9" fill="none"/>
<path d="M20.5 740.3Q36.7 736.4 52.9 740.3" stroke="#1f6396" stroke-width="0.9" fill="none"/>
<path d="M27.3 744.2Q36.7 741.2 46.1 744.2" stroke="#1f6396" stroke-width="0.8" fill="none"/>
</g>
<g id="mail" stroke="#3684cd" fill="none" stroke-linejoin="round"><rect x="865.3" y="723.3" width="22.4" height="12" rx="1" stroke-width="1.5"/><path d="M865.6 723.6L876.5 730.2L887.4 723.6M865.6 735L873.3 728.2M887.4 735L879.7 728.2" stroke-width="1.1"/></g>
<g id="heat1">
<rect x="551" y="168" width="148.5" height="202" fill="#f7f7f7" stroke="#a7bdea" stroke-width="1"/>
<text x="595.5" y="182.4" font-size="4.6" text-anchor="middle" font-weight="700" fill="#2a2a2a" textLength="23" lengthAdjust="spacingAndGlyphs">Spray-on</text>
<text x="644.5" y="183.4" font-size="4.6" text-anchor="middle" font-weight="700" fill="#2a2a2a" textLength="32" lengthAdjust="spacingAndGlyphs">Cross-linked</text>
<text x="586.3" y="191.5" font-size="3.9" text-anchor="middle" font-weight="700" fill="#2a2a2a">DS</text>
<text x="603.9" y="191.8" font-size="3.9" text-anchor="middle" font-weight="700" fill="#2a2a2a" textLength="19.5" lengthAdjust="spacingAndGlyphs">Placebo</text>
<text x="633.8" y="191.5" font-size="3.9" text-anchor="middle" font-weight="700" fill="#2a2a2a">DS</text>
<text x="655.8" y="191.3" font-size="3.9" text-anchor="middle" font-weight="700" fill="#2a2a2a" textLength="19.5" lengthAdjust="spacingAndGlyphs">Placebo</text>
<text x="570.75" y="218.8" font-size="4.2" text-anchor="middle" font-weight="700" fill="#333">T0</text>
<rect x="581.25" y="197" width="10.5" height="44.25" fill="#27278d"/>
<rect x="581.25" y="197" width="10.5" height="1.4" fill="#5a2a8a" opacity="0.7"/>
<rect x="581.65" y="198.8" width="9.7" height="23.42" fill="#3f8f55" opacity="0.64"/>
<path d="M581.55 198.8h1.15v1.15h-1.15zM582.7 198.8h1.15v1.15h-1.15zM587.3 198.8h1.15v1.15h-1.15zM589.6 198.8h1.15v1.15h-1.15zM585 199.95h1.15v1.15h-1.15zM590.75 199.95h0.7v1.15h-0.7zM581.55 201.1h1.15v1.15h-1.15zM585 201.1h1.15v1.15h-1.15zM590.75 201.1h0.7v1.15h-0.7zM581.55 202.25h1.15v1.15h-1.15zM582.7 203.4h1.15v1.15h-1.15zM588.45 203.4h1.15v1.15h-1.15zM589.6 203.4h1.15v1.15h-1.15zM590.75 203.4h0.7v1.15h-0.7zM581.55 204.55h1.15v1.15h-1.15zM589.6 204.55h1.15v1.15h-1.15zM582.7 205.7h1.15v1.15h-1.15zM583.85 205.7h1.15v1.15h-1.15zM586.15 205.7h1.15v1.15h-1.15zM587.3 206.85h1.15v1.15h-1.15zM588.45 206.85h1.15v1.15h-1.15zM589.6 206.85h1.15v1.15h-1.15zM590.75 206.85h0.7v1.15h-0.7zM583.85 208h1.15v1.15h-1.15zM586.15 208h1.15v1.15h-1.15zM590.75 208h0.7v1.15h-0.7zM581.55 209.15h1.15v1.15h-1.15zM582.7 209.15h1.15v1.15h-1.15zM585 209.15h1.15v1.15h-1.15zM583.85 210.3h1.15v1.15h-1.15zM589.6 210.3h1.15v1.15h-1.15zM581.55 211.45h1.15v1.15h-1.15zM582.7 211.45h1.15v1.15h-1.15zM588.45 211.45h1.15v1.15h-1.15zM589.6 211.45h1.15v1.15h-1.15zM583.85 213.75h1.15v1.15h-1.15zM585 213.75h1.15v1.15h-1.15zM581.55 214.9h1.15v1.15h-1.15zM588.45 214.9h1.15v1.15h-1.15zM589.6 214.9h1.15v1.15h-1.15zM590.75 214.9h0.7v1.15h-0.7zM581.55 216.05h1.15v1.15h-1.15zM588.45 216.05h1.15v1.15h-1.15zM589.6 216.05h1.15v1.15h-1.15zM588.45 217.2h1.15v1.15h-1.15zM589.6 218.35h1.15v1.15h-1.15zM581.55 219.5h1.15v1.15h-1.15zM583.85 219.5h1.15v1.15h-1.15zM589.6 219.5h1.15v1.15h-1.15zM589.6 220.65h1.15v1.15h-1.15zM587.3 221.8h1.15v0.42h-1.15zM589.6 221.8h1.15v0.42h-1.15zM587.3 222.22h1.15v1.15h-1.15zM590.75 223.37h0.7v1.15h-0.7zM583.85 224.52h1.15v1.15h-1.15zM585 224.52h1.15v1.15h-1.15zM582.7 225.67h1.15v1.15h-1.15zM585 227.97h1.15v1.15h-1.15zM588.45 227.97h1.15v1.15h-1.15zM582.7 231.42h1.15v1.15h-1.15zM585 231.42h1.15v1.15h-1.15zM588.45 234.87h1.15v1.15h-1.15zM585 237.17h1.15v1.15h-1.15zM588.45 238.32h1.15v1.15h-1.15zM583.85 239.47h1.15v0.78h-1.15z" fill="#4a9a4a" opacity="0.9"/>
<path d="M583.85 198.8h1.15v1.15h-1.15zM585 198.8h1.15v1.15h-1.15zM586.15 198.8h1.15v1.15h-1.15zM581.55 199.95h1.15v1.15h-1.15zM586.15 199.95h1.15v1.15h-1.15zM589.6 199.95h1.15v1.15h-1.15zM582.7 201.1h1.15v1.15h-1.15zM583.85 202.25h1.15v1.15h-1.15zM581.55 203.4h1.15v1.15h-1.15zM587.3 203.4h1.15v1.15h-1.15zM582.7 204.55h1.15v1.15h-1.15zM585 204.55h1.15v1.15h-1.15zM590.75 204.55h0.7v1.15h-0.7zM587.3 205.7h1.15v1.15h-1.15zM589.6 205.7h1.15v1.15h-1.15zM585 206.85h1.15v1.15h-1.15zM581.55 208h1.15v1.15h-1.15zM585 208h1.15v1.15h-1.15zM589.6 208h1.15v1.15h-1.15zM587.3 209.15h1.15v1.15h-1.15zM590.75 209.15h0.7v1.15h-0.7zM590.75 210.3h0.7v1.15h-0.7zM588.45 212.6h1.15v1.15h-1.15zM581.55 213.75h1.15v1.15h-1.15zM583.85 214.9h1.15v1.15h-1.15zM582.7 216.05h1.15v1.15h-1.15zM587.3 216.05h1.15v1.15h-1.15zM581.55 217.2h1.15v1.15h-1.15zM583.85 217.2h1.15v1.15h-1.15zM589.6 217.2h1.15v1.15h-1.15zM581.55 218.35h1.15v1.15h-1.15zM582.7 218.35h1.15v1.15h-1.15zM585 218.35h1.15v1.15h-1.15zM582.7 219.5h1.15v1.15h-1.15zM582.7 220.65h1.15v1.15h-1.15zM586.15 220.65h1.15v1.15h-1.15zM587.3 220.65h1.15v1.15h-1.15zM588.45 220.65h1.15v1.15h-1.15zM590.75 220.65h0.7v1.15h-0.7zM581.55 221.8h1.15v0.42h-1.15zM582.7 221.8h1.15v0.42h-1.15zM581.55 225.67h1.15v1.15h-1.15zM588.45 230.27h1.15v1.15h-1.15zM581.55 231.42h1.15v1.15h-1.15zM583.85 231.42h1.15v1.15h-1.15z" fill="#3f8c52" opacity="0.9"/>
<path d="M588.45 199.95h1.15v1.15h-1.15zM583.85 201.1h1.15v1.15h-1.15zM588.45 201.1h1.15v1.15h-1.15zM585 202.25h1.15v1.15h-1.15zM588.45 202.25h1.15v1.15h-1.15zM589.6 202.25h1.15v1.15h-1.15zM583.85 203.4h1.15v1.15h-1.15zM585 205.7h1.15v1.15h-1.15zM590.75 205.7h0.7v1.15h-0.7zM586.15 206.85h1.15v1.15h-1.15zM589.6 209.15h1.15v1.15h-1.15zM590.75 211.45h0.7v1.15h-0.7zM582.7 212.6h1.15v1.15h-1.15zM585 212.6h1.15v1.15h-1.15zM589.6 213.75h1.15v1.15h-1.15zM590.75 213.75h0.7v1.15h-0.7zM583.85 216.05h1.15v1.15h-1.15zM582.7 217.2h1.15v1.15h-1.15zM587.3 217.2h1.15v1.15h-1.15zM583.85 218.35h1.15v1.15h-1.15zM585 219.5h1.15v1.15h-1.15zM588.45 219.5h1.15v1.15h-1.15zM583.85 225.67h1.15v1.15h-1.15zM588.45 232.57h1.15v1.15h-1.15zM582.7 237.17h1.15v1.15h-1.15z" fill="#5cab50" opacity="0.9"/>
<path d="M588.45 198.8h1.15v1.15h-1.15zM583.85 199.95h1.15v1.15h-1.15zM582.7 202.25h1.15v1.15h-1.15zM590.75 202.25h0.7v1.15h-0.7zM581.55 210.3h1.15v1.15h-1.15zM582.7 210.3h1.15v1.15h-1.15zM588.45 210.3h1.15v1.15h-1.15zM581.55 212.6h1.15v1.15h-1.15zM589.6 212.6h1.15v1.15h-1.15zM590.75 212.6h0.7v1.15h-0.7zM588.45 213.75h1.15v1.15h-1.15zM590.75 216.05h0.7v1.15h-0.7zM590.75 217.2h0.7v1.15h-0.7zM588.45 221.8h1.15v0.42h-1.15zM583.85 223.37h1.15v1.15h-1.15zM589.6 225.67h1.15v1.15h-1.15zM586.15 227.97h1.15v1.15h-1.15zM590.75 232.57h0.7v1.15h-0.7zM590.75 234.87h0.7v1.15h-0.7zM587.3 236.02h1.15v1.15h-1.15z" fill="#2f7a6a" opacity="0.9"/>
<path d="M590.75 198.8h0.7v1.15h-0.7zM589.6 201.1h1.15v1.15h-1.15zM587.3 202.25h1.15v1.15h-1.15zM581.55 206.85h1.15v1.15h-1.15zM582.7 206.85h1.15v1.15h-1.15zM582.7 208h1.15v1.15h-1.15zM585 211.45h1.15v1.15h-1.15zM582.7 213.75h1.15v1.15h-1.15zM586.15 214.9h1.15v1.15h-1.15zM586.15 216.05h1.15v1.15h-1.15zM588.45 218.35h1.15v1.15h-1.15zM590.75 218.35h0.7v1.15h-0.7zM590.75 221.8h0.7v0.42h-0.7zM583.85 222.22h1.15v1.15h-1.15zM590.75 222.22h0.7v1.15h-0.7zM585 223.37h1.15v1.15h-1.15z" fill="#2a5fa0" opacity="0.9"/>
<path d="M581.55 205.7h1.15v1.15h-1.15zM588.45 205.7h1.15v1.15h-1.15zM583.85 209.15h1.15v1.15h-1.15zM583.85 211.45h1.15v1.15h-1.15zM590.75 219.5h0.7v1.15h-0.7zM581.55 220.65h1.15v1.15h-1.15zM583.85 221.8h1.15v0.42h-1.15z" fill="#86c455" opacity="0.9"/>
<rect x="581.25" y="221.72" width="10.5" height="0.9" fill="#929c3a" opacity="0.8"/>
<rect x="578.65" y="198.6" width="15.7" height="21.41" rx="2.4" fill="none" stroke="#f2a266" stroke-width="1.05" stroke-dasharray="1.5 0.9"/>
<rect x="599.25" y="197" width="10.75" height="44.25" fill="#27278d"/>
<rect x="599.25" y="197" width="10.75" height="1.4" fill="#5a2a8a" opacity="0.7"/>
<rect x="599.65" y="198.8" width="9.95" height="23.42" fill="#3f8f55" opacity="0.34"/>
<path d="M607.6 198.8h1.15v1.15h-1.15zM608.75 199.95h0.95v1.15h-0.95zM607.6 202.25h1.15v1.15h-1.15zM600.7 203.4h1.15v1.15h-1.15zM607.6 204.55h1.15v1.15h-1.15zM600.7 205.7h1.15v1.15h-1.15zM607.6 205.7h1.15v1.15h-1.15zM608.75 205.7h0.95v1.15h-0.95zM605.3 206.85h1.15v1.15h-1.15zM607.6 206.85h1.15v1.15h-1.15zM606.45 208h1.15v1.15h-1.15zM601.85 209.15h1.15v1.15h-1.15zM608.75 209.15h0.95v1.15h-0.95zM599.55 211.45h1.15v1.15h-1.15zM601.85 212.6h1.15v1.15h-1.15zM605.3 212.6h1.15v1.15h-1.15zM608.75 212.6h0.95v1.15h-0.95zM607.6 213.75h1.15v1.15h-1.15zM600.7 214.9h1.15v1.15h-1.15zM607.6 214.9h1.15v1.15h-1.15zM606.45 216.05h1.15v1.15h-1.15zM599.55 217.2h1.15v1.15h-1.15zM606.45 217.2h1.15v1.15h-1.15zM599.55 219.5h1.15v1.15h-1.15zM600.7 219.5h1.15v1.15h-1.15zM607.6 219.5h1.15v1.15h-1.15zM606.45 220.65h1.15v1.15h-1.15zM600.7 221.8h1.15v0.42h-1.15zM606.45 221.8h1.15v0.42h-1.15zM601.85 222.22h1.15v1.15h-1.15zM603 224.52h1.15v1.15h-1.15zM606.45 224.52h1.15v1.15h-1.15zM603 230.27h1.15v1.15h-1.15zM605.3 233.72h1.15v1.15h-1.15zM599.55 234.87h1.15v1.15h-1.15z" fill="#4a9a4a" opacity="0.9"/>
<path d="M599.55 198.8h1.15v1.15h-1.15zM604.15 198.8h1.15v1.15h-1.15zM600.7 199.95h1.15v1.15h-1.15zM599.55 201.1h1.15v1.15h-1.15zM600.7 201.1h1.15v1.15h-1.15zM601.85 201.1h1.15v1.15h-1.15zM600.7 202.25h1.15v1.15h-1.15zM603 203.4h1.15v1.15h-1.15zM599.55 205.7h1.15v1.15h-1.15zM606.45 206.85h1.15v1.15h-1.15zM608.75 208h0.95v1.15h-0.95zM603 209.15h1.15v1.15h-1.15zM604.15 210.3h1.15v1.15h-1.15zM600.7 211.45h1.15v1.15h-1.15zM600.7 213.75h1.15v1.15h-1.15zM608.75 214.9h0.95v1.15h-0.95zM600.7 217.2h1.15v1.15h-1.15zM604.15 217.2h1.15v1.15h-1.15zM607.6 217.2h1.15v1.15h-1.15zM608.75 218.35h0.95v1.15h-0.95zM604.15 219.5h1.15v1.15h-1.15zM608.75 219.5h0.95v1.15h-0.95zM600.7 220.65h1.15v1.15h-1.15zM603 220.65h1.15v1.15h-1.15zM608.75 229.12h0.95v1.15h-0.95zM607.6 232.57h1.15v1.15h-1.15zM606.45 238.32h1.15v1.15h-1.15z" fill="#3f8c52" opacity="0.9"/>
<path d="M599.55 199.95h1.15v1.15h-1.15zM603 204.55h1.15v1.15h-1.15zM606.45 205.7h1.15v1.15h-1.15zM608.75 206.85h0.95v1.15h-0.95zM607.6 211.45h1.15v1.15h-1.15zM603 212.6h1.15v1.15h-1.15zM605.3 214.9h1.15v1.15h-1.15zM607.6 218.35h1.15v1.15h-1.15zM606.45 231.42h1.15v1.15h-1.15zM605.3 237.17h1.15v1.15h-1.15zM608.75 237.17h0.95v1.15h-0.95z" fill="#5cab50" opacity="0.9"/>
<path d="M603 199.95h1.15v1.15h-1.15zM605.3 201.1h1.15v1.15h-1.15zM608.75 202.25h0.95v1.15h-0.95zM608.75 211.45h0.95v1.15h-0.95zM600.7 216.05h1.15v1.15h-1.15zM605.3 216.05h1.15v1.15h-1.15zM608.75 220.65h0.95v1.15h-0.95zM607.6 221.8h1.15v0.42h-1.15zM607.6 226.82h1.15v1.15h-1.15z" fill="#2f7a6a" opacity="0.9"/>
<path d="M600.7 198.8h1.15v1.15h-1.15zM608.75 198.8h0.95v1.15h-0.95zM607.6 199.95h1.15v1.15h-1.15zM607.6 201.1h1.15v1.15h-1.15zM599.55 203.4h1.15v1.15h-1.15zM601.85 206.85h1.15v1.15h-1.15zM599.55 212.6h1.15v1.15h-1.15zM605.3 218.35h1.15v1.15h-1.15zM607.6 220.65h1.15v1.15h-1.15zM607.6 236.02h1.15v1.15h-1.15zM600.7 239.47h1.15v0.78h-1.15zM604.15 239.47h1.15v0.78h-1.15z" fill="#2a5fa0" opacity="0.9"/>
<path d="M601.85 198.8h1.15v1.15h-1.15zM607.6 208h1.15v1.15h-1.15zM604.15 216.05h1.15v1.15h-1.15zM608.75 216.05h0.95v1.15h-0.95zM605.3 217.2h1.15v1.15h-1.15zM601.85 219.5h1.15v1.15h-1.15zM603 219.5h1.15v1.15h-1.15z" fill="#86c455" opacity="0.9"/>
<rect x="599.25" y="221.72" width="10.75" height="0.9" fill="#929c3a" opacity="0.8"/>
<rect x="596.65" y="198.6" width="15.95" height="21.41" rx="2.4" fill="none" stroke="#f2a266" stroke-width="1.05" stroke-dasharray="1.5 0.9"/>
<rect x="628.75" y="197" width="10.75" height="44.25" fill="#27278d"/>
<rect x="628.75" y="197" width="10.75" height="1.4" fill="#5a2a8a" opacity="0.7"/>
<rect x="629.15" y="198.8" width="9.95" height="23.42" fill="#3f8f55" opacity="0.68"/>
<path d="M633.65 198.8h1.15v1.15h-1.15zM635.95 198.8h1.15v1.15h-1.15zM638.25 198.8h0.95v1.15h-0.95zM637.1 199.95h1.15v1.15h-1.15zM632.5 201.1h1.15v1.15h-1.15zM633.65 201.1h1.15v1.15h-1.15zM638.25 202.25h0.95v1.15h-0.95zM631.35 203.4h1.15v1.15h-1.15zM637.1 203.4h1.15v1.15h-1.15zM629.05 204.55h1.15v1.15h-1.15zM638.25 204.55h0.95v1.15h-0.95zM634.8 205.7h1.15v1.15h-1.15zM635.95 205.7h1.15v1.15h-1.15zM637.1 205.7h1.15v1.15h-1.15zM630.2 206.85h1.15v1.15h-1.15zM631.35 206.85h1.15v1.15h-1.15zM635.95 206.85h1.15v1.15h-1.15zM637.1 206.85h1.15v1.15h-1.15zM631.35 208h1.15v1.15h-1.15zM635.95 208h1.15v1.15h-1.15zM629.05 209.15h1.15v1.15h-1.15zM635.95 209.15h1.15v1.15h-1.15zM637.1 209.15h1.15v1.15h-1.15zM629.05 210.3h1.15v1.15h-1.15zM630.2 210.3h1.15v1.15h-1.15zM632.5 210.3h1.15v1.15h-1.15zM635.95 210.3h1.15v1.15h-1.15zM634.8 211.45h1.15v1.15h-1.15zM635.95 211.45h1.15v1.15h-1.15zM629.05 212.6h1.15v1.15h-1.15zM635.95 212.6h1.15v1.15h-1.15zM630.2 213.75h1.15v1.15h-1.15zM633.65 214.9h1.15v1.15h-1.15zM635.95 214.9h1.15v1.15h-1.15zM637.1 214.9h1.15v1.15h-1.15zM637.1 216.05h1.15v1.15h-1.15zM638.25 216.05h0.95v1.15h-0.95zM633.65 217.2h1.15v1.15h-1.15zM637.1 217.2h1.15v1.15h-1.15zM638.25 217.2h0.95v1.15h-0.95zM637.1 218.35h1.15v1.15h-1.15zM638.25 218.35h0.95v1.15h-0.95zM629.05 219.5h1.15v1.15h-1.15zM630.2 219.5h1.15v1.15h-1.15zM629.05 220.65h1.15v1.15h-1.15zM638.25 220.65h0.95v1.15h-0.95zM629.05 221.8h1.15v0.42h-1.15zM630.2 221.8h1.15v0.42h-1.15z" fill="#4a9a4a" opacity="0.9"/>
<path d="M630.2 198.8h1.15v1.15h-1.15zM634.8 198.8h1.15v1.15h-1.15zM633.65 199.95h1.15v1.15h-1.15zM634.8 199.95h1.15v1.15h-1.15zM635.95 199.95h1.15v1.15h-1.15zM638.25 199.95h0.95v1.15h-0.95zM630.2 201.1h1.15v1.15h-1.15zM631.35 201.1h1.15v1.15h-1.15zM634.8 201.1h1.15v1.15h-1.15zM638.25 201.1h0.95v1.15h-0.95zM629.05 202.25h1.15v1.15h-1.15zM630.2 203.4h1.15v1.15h-1.15zM634.8 203.4h1.15v1.15h-1.15zM638.25 203.4h0.95v1.15h-0.95zM633.65 204.55h1.15v1.15h-1.15zM632.5 205.7h1.15v1.15h-1.15zM633.65 206.85h1.15v1.15h-1.15zM638.25 206.85h0.95v1.15h-0.95zM629.05 208h1.15v1.15h-1.15zM631.35 209.15h1.15v1.15h-1.15zM638.25 209.15h0.95v1.15h-0.95zM637.1 210.3h1.15v1.15h-1.15zM631.35 211.45h1.15v1.15h-1.15zM630.2 212.6h1.15v1.15h-1.15zM631.35 212.6h1.15v1.15h-1.15zM630.2 214.9h1.15v1.15h-1.15zM635.95 217.2h1.15v1.15h-1.15zM629.05 218.35h1.15v1.15h-1.15zM633.65 218.35h1.15v1.15h-1.15zM632.5 219.5h1.15v1.15h-1.15zM635.95 219.5h1.15v1.15h-1.15zM630.2 220.65h1.15v1.15h-1.15zM635.95 220.65h1.15v1.15h-1.15zM637.1 220.65h1.15v1.15h-1.15zM632.5 221.8h1.15v0.42h-1.15zM634.8 221.8h1.15v0.42h-1.15zM638.25 221.8h0.95v0.42h-0.95zM631.35 236.02h1.15v1.15h-1.15z" fill="#3f8c52" opacity="0.9"/>
<path d="M637.1 198.8h1.15v1.15h-1.15zM631.35 199.95h1.15v1.15h-1.15zM632.5 199.95h1.15v1.15h-1.15zM635.95 201.1h1.15v1.15h-1.15zM637.1 201.1h1.15v1.15h-1.15zM637.1 204.55h1.15v1.15h-1.15zM629.05 205.7h1.15v1.15h-1.15zM629.05 206.85h1.15v1.15h-1.15zM630.2 208h1.15v1.15h-1.15zM637.1 208h1.15v1.15h-1.15zM630.2 209.15h1.15v1.15h-1.15zM634.8 210.3h1.15v1.15h-1.15zM629.05 211.45h1.15v1.15h-1.15zM632.5 212.6h1.15v1.15h-1.15zM629.05 214.9h1.15v1.15h-1.15zM631.35 214.9h1.15v1.15h-1.15zM638.25 214.9h0.95v1.15h-0.95zM629.05 216.05h1.15v1.15h-1.15zM630.2 216.05h1.15v1.15h-1.15zM630.2 217.2h1.15v1.15h-1.15zM635.95 218.35h1.15v1.15h-1.15zM631.35 220.65h1.15v1.15h-1.15zM637.1 221.8h1.15v0.42h-1.15z" fill="#5cab50" opacity="0.9"/>
<path d="M629.05 198.8h1.15v1.15h-1.15zM629.05 199.95h1.15v1.15h-1.15zM630.2 199.95h1.15v1.15h-1.15zM629.05 201.1h1.15v1.15h-1.15zM631.35 202.25h1.15v1.15h-1.15zM633.65 203.4h1.15v1.15h-1.15zM632.5 204.55h1.15v1.15h-1.15zM630.2 205.7h1.15v1.15h-1.15zM638.25 208h0.95v1.15h-0.95zM630.2 211.45h1.15v1.15h-1.15zM637.1 211.45h1.15v1.15h-1.15zM638.25 211.45h0.95v1.15h-0.95zM637.1 212.6h1.15v1.15h-1.15zM638.25 212.6h0.95v1.15h-0.95zM637.1 213.75h1.15v1.15h-1.15zM638.25 213.75h0.95v1.15h-0.95zM631.35 216.05h1.15v1.15h-1.15zM629.05 217.2h1.15v1.15h-1.15zM634.8 217.2h1.15v1.15h-1.15zM631.35 218.35h1.15v1.15h-1.15zM634.8 218.35h1.15v1.15h-1.15zM637.1 219.5h1.15v1.15h-1.15zM632.5 220.65h1.15v1.15h-1.15zM635.95 221.8h1.15v0.42h-1.15z" fill="#2f7a6a" opacity="0.9"/>
<path d="M629.05 203.4h1.15v1.15h-1.15zM630.2 204.55h1.15v1.15h-1.15zM631.35 204.55h1.15v1.15h-1.15zM635.95 204.55h1.15v1.15h-1.15zM634.8 208h1.15v1.15h-1.15zM631.35 210.3h1.15v1.15h-1.15zM638.25 210.3h0.95v1.15h-0.95zM634.8 212.6h1.15v1.15h-1.15zM629.05 213.75h1.15v1.15h-1.15zM632.5 214.9h1.15v1.15h-1.15zM634.8 214.9h1.15v1.15h-1.15zM634.8 216.05h1.15v1.15h-1.15zM638.25 219.5h0.95v1.15h-0.95z" fill="#2a5fa0" opacity="0.9"/>
<path d="M630.2 202.25h1.15v1.15h-1.15zM635.95 202.25h1.15v1.15h-1.15zM637.1 202.25h1.15v1.15h-1.15zM631.35 205.7h1.15v1.15h-1.15zM638.25 205.7h0.95v1.15h-0.95zM630.2 218.35h1.15v1.15h-1.15zM631.35 219.5h1.15v1.15h-1.15z" fill="#86c455" opacity="0.9"/>
<rect x="628.75" y="221.72" width="10.75" height="0.9" fill="#929c3a" opacity="0.8"/>
<rect x="626.15" y="198.6" width="15.95" height="21.41" rx="2.4" fill="none" stroke="#f2a266" stroke-width="1.05" stroke-dasharray="1.5 0.9"/>
<rect x="650" y="197" width="11.25" height="44.25" fill="#27278d"/>
<rect x="650" y="197" width="11.25" height="1.4" fill="#5a2a8a" opacity="0.7"/>
<rect x="650.4" y="198.8" width="10.45" height="23.42" fill="#3f8f55" opacity="0.32"/>
<path d="M651.45 198.8h1.15v1.15h-1.15zM653.75 198.8h1.15v1.15h-1.15zM657.2 199.95h1.15v1.15h-1.15zM660.65 199.95h0.3v1.15h-0.3zM650.3 201.1h1.15v1.15h-1.15zM652.6 201.1h1.15v1.15h-1.15zM659.5 202.25h1.15v1.15h-1.15zM654.9 208h1.15v1.15h-1.15zM660.65 209.15h0.3v1.15h-0.3zM652.6 211.45h1.15v1.15h-1.15zM656.05 212.6h1.15v1.15h-1.15zM660.65 212.6h0.3v1.15h-0.3zM652.6 213.75h1.15v1.15h-1.15zM652.6 214.9h1.15v1.15h-1.15zM659.5 214.9h1.15v1.15h-1.15zM660.65 216.05h0.3v1.15h-0.3zM656.05 218.35h1.15v1.15h-1.15zM660.65 219.5h0.3v1.15h-0.3zM657.2 220.65h1.15v1.15h-1.15zM660.65 220.65h0.3v1.15h-0.3zM659.5 221.8h1.15v0.42h-1.15z" fill="#4a9a4a" opacity="0.9"/>
<path d="M650.3 198.8h1.15v1.15h-1.15zM660.65 202.25h0.3v1.15h-0.3zM650.3 203.4h1.15v1.15h-1.15zM651.45 203.4h1.15v1.15h-1.15zM650.3 204.55h1.15v1.15h-1.15zM659.5 204.55h1.15v1.15h-1.15zM658.35 205.7h1.15v1.15h-1.15zM651.45 206.85h1.15v1.15h-1.15zM652.6 206.85h1.15v1.15h-1.15zM657.2 206.85h1.15v1.15h-1.15zM653.75 208h1.15v1.15h-1.15zM658.35 210.3h1.15v1.15h-1.15zM659.5 210.3h1.15v1.15h-1.15zM658.35 211.45h1.15v1.15h-1.15zM656.05 214.9h1.15v1.15h-1.15zM659.5 217.2h1.15v1.15h-1.15z" fill="#3f8c52" opacity="0.9"/>
<path d="M652.6 202.25h1.15v1.15h-1.15zM652.6 204.55h1.15v1.15h-1.15zM654.9 204.55h1.15v1.15h-1.15zM650.3 205.7h1.15v1.15h-1.15zM659.5 205.7h1.15v1.15h-1.15zM658.35 206.85h1.15v1.15h-1.15zM650.3 208h1.15v1.15h-1.15zM657.2 209.15h1.15v1.15h-1.15zM660.65 210.3h0.3v1.15h-0.3zM651.45 211.45h1.15v1.15h-1.15zM653.75 212.6h1.15v1.15h-1.15zM657.2 212.6h1.15v1.15h-1.15zM651.45 213.75h1.15v1.15h-1.15zM658.35 213.75h1.15v1.15h-1.15zM660.65 214.9h0.3v1.15h-0.3zM650.3 216.05h1.15v1.15h-1.15zM652.6 216.05h1.15v1.15h-1.15zM650.3 218.35h1.15v1.15h-1.15zM653.75 220.65h1.15v1.15h-1.15zM652.6 221.8h1.15v0.42h-1.15zM660.65 221.8h0.3v0.42h-0.3z" fill="#5cab50" opacity="0.9"/>
<path d="M651.45 199.95h1.15v1.15h-1.15zM654.9 199.95h1.15v1.15h-1.15zM656.05 203.4h1.15v1.15h-1.15zM650.3 206.85h1.15v1.15h-1.15zM650.3 210.3h1.15v1.15h-1.15zM651.45 216.05h1.15v1.15h-1.15zM650.3 219.5h1.15v1.15h-1.15zM650.3 220.65h1.15v1.15h-1.15zM651.45 220.65h1.15v1.15h-1.15z" fill="#2f7a6a" opacity="0.9"/>
<path d="M660.65 198.8h0.3v1.15h-0.3zM656.05 201.1h1.15v1.15h-1.15zM652.6 205.7h1.15v1.15h-1.15zM659.5 212.6h1.15v1.15h-1.15zM660.65 213.75h0.3v1.15h-0.3zM658.35 214.9h1.15v1.15h-1.15z" fill="#2a5fa0" opacity="0.9"/>
<path d="M658.35 204.55h1.15v1.15h-1.15zM658.35 212.6h1.15v1.15h-1.15zM650.3 214.9h1.15v1.15h-1.15zM650.3 217.2h1.15v1.15h-1.15z" fill="#86c455" opacity="0.9"/>
<rect x="650" y="221.72" width="11.25" height="0.9" fill="#929c3a" opacity="0.8"/>
<rect x="647.4" y="198.6" width="16.45" height="21.41" rx="2.4" fill="none" stroke="#f2a266" stroke-width="1.05" stroke-dasharray="1.5 0.9"/>
<text x="568" y="270.6" font-size="4.2" text-anchor="middle" font-weight="700" fill="#333">A-3D</text>
<rect x="581.25" y="253.75" width="10.5" height="45.5" fill="#27278d"/>
<rect x="581.25" y="253.75" width="10.5" height="1.4" fill="#5a2a8a" opacity="0.7"/>
<rect x="581.65" y="255.55" width="9.7" height="23.22" fill="#3f8f55" opacity="0.44"/>
<path d="M583.85 255.55h1.15v1.15h-1.15zM581.55 256.7h1.15v1.15h-1.15zM582.7 257.85h1.15v1.15h-1.15zM583.85 257.85h1.15v1.15h-1.15zM585 257.85h1.15v1.15h-1.15zM581.55 259h1.15v1.15h-1.15zM581.55 260.15h1.15v1.15h-1.15zM590.75 260.15h0.7v1.15h-0.7zM587.3 261.3h1.15v1.15h-1.15zM588.45 261.3h1.15v1.15h-1.15zM589.6 261.3h1.15v1.15h-1.15zM590.75 261.3h0.7v1.15h-0.7zM581.55 262.45h1.15v1.15h-1.15zM583.85 263.6h1.15v1.15h-1.15zM589.6 263.6h1.15v1.15h-1.15zM581.55 264.75h1.15v1.15h-1.15zM589.6 264.75h1.15v1.15h-1.15zM585 265.9h1.15v1.15h-1.15zM590.75 265.9h0.7v1.15h-0.7zM582.7 267.05h1.15v1.15h-1.15zM586.15 267.05h1.15v1.15h-1.15zM589.6 267.05h1.15v1.15h-1.15zM581.55 268.2h1.15v1.15h-1.15zM587.3 268.2h1.15v1.15h-1.15zM583.85 269.35h1.15v1.15h-1.15zM588.45 269.35h1.15v1.15h-1.15zM590.75 269.35h0.7v1.15h-0.7zM587.3 271.65h1.15v1.15h-1.15zM588.45 271.65h1.15v1.15h-1.15zM590.75 271.65h0.7v1.15h-0.7zM581.55 272.8h1.15v1.15h-1.15zM589.6 272.8h1.15v1.15h-1.15zM581.55 273.95h1.15v1.15h-1.15zM582.7 273.95h1.15v1.15h-1.15zM581.55 277.4h1.15v1.15h-1.15zM590.75 278.55h0.7v0.23h-0.7zM582.7 278.77h1.15v1.15h-1.15zM586.15 278.77h1.15v1.15h-1.15zM587.3 278.77h1.15v1.15h-1.15zM588.45 278.77h1.15v1.15h-1.15zM589.6 278.77h1.15v1.15h-1.15zM589.6 279.92h1.15v1.15h-1.15zM589.6 281.07h1.15v1.15h-1.15zM581.55 282.22h1.15v1.15h-1.15zM585 282.22h1.15v1.15h-1.15zM581.55 287.97h1.15v1.15h-1.15zM582.7 291.42h1.15v1.15h-1.15zM589.6 291.42h1.15v1.15h-1.15zM581.55 292.57h1.15v1.15h-1.15zM581.55 294.87h1.15v1.15h-1.15zM583.85 294.87h1.15v1.15h-1.15zM589.6 294.87h1.15v1.15h-1.15zM582.7 296.02h1.15v1.15h-1.15zM583.85 296.02h1.15v1.15h-1.15zM588.45 296.02h1.15v1.15h-1.15zM582.7 297.17h1.15v1.08h-1.15z" fill="#4a9a4a" opacity="0.9"/>
<path d="M582.7 255.55h1.15v1.15h-1.15zM590.75 255.55h0.7v1.15h-0.7zM588.45 259h1.15v1.15h-1.15zM582.7 260.15h1.15v1.15h-1.15zM586.15 261.3h1.15v1.15h-1.15zM587.3 262.45h1.15v1.15h-1.15zM590.75 262.45h0.7v1.15h-0.7zM588.45 263.6h1.15v1.15h-1.15zM582.7 264.75h1.15v1.15h-1.15zM588.45 264.75h1.15v1.15h-1.15zM590.75 264.75h0.7v1.15h-0.7zM582.7 270.5h1.15v1.15h-1.15zM583.85 270.5h1.15v1.15h-1.15zM582.7 271.65h1.15v1.15h-1.15zM590.75 272.8h0.7v1.15h-0.7zM590.75 273.95h0.7v1.15h-0.7zM582.7 275.1h1.15v1.15h-1.15zM587.3 275.1h1.15v1.15h-1.15zM583.85 276.25h1.15v1.15h-1.15zM587.3 276.25h1.15v1.15h-1.15zM589.6 276.25h1.15v1.15h-1.15zM590.75 276.25h0.7v1.15h-0.7zM586.15 278.55h1.15v0.23h-1.15zM589.6 278.55h1.15v0.23h-1.15zM590.75 279.92h0.7v1.15h-0.7zM582.7 281.07h1.15v1.15h-1.15zM582.7 282.22h1.15v1.15h-1.15zM588.45 282.22h1.15v1.15h-1.15zM590.75 284.52h0.7v1.15h-0.7zM581.55 285.67h1.15v1.15h-1.15zM583.85 285.67h1.15v1.15h-1.15zM589.6 285.67h1.15v1.15h-1.15zM590.75 285.67h0.7v1.15h-0.7zM589.6 286.82h1.15v1.15h-1.15zM589.6 287.97h1.15v1.15h-1.15zM581.55 289.12h1.15v1.15h-1.15zM587.3 289.12h1.15v1.15h-1.15zM582.7 290.27h1.15v1.15h-1.15zM589.6 290.27h1.15v1.15h-1.15zM590.75 291.42h0.7v1.15h-0.7zM588.45 292.57h1.15v1.15h-1.15zM581.55 293.72h1.15v1.15h-1.15zM586.15 293.72h1.15v1.15h-1.15zM590.75 293.72h0.7v1.15h-0.7zM585 294.87h1.15v1.15h-1.15zM587.3 296.02h1.15v1.15h-1.15z" fill="#3f8c52" opacity="0.9"/>
<path d="M581.55 255.55h1.15v1.15h-1.15zM587.3 255.55h1.15v1.15h-1.15zM589.6 255.55h1.15v1.15h-1.15zM590.75 257.85h0.7v1.15h-0.7zM583.85 259h1.15v1.15h-1.15zM583.85 261.3h1.15v1.15h-1.15zM582.7 263.6h1.15v1.15h-1.15zM585 263.6h1.15v1.15h-1.15zM587.3 265.9h1.15v1.15h-1.15zM585 267.05h1.15v1.15h-1.15zM590.75 267.05h0.7v1.15h-0.7zM582.7 268.2h1.15v1.15h-1.15zM589.6 268.2h1.15v1.15h-1.15zM581.55 270.5h1.15v1.15h-1.15zM585 270.5h1.15v1.15h-1.15zM588.45 270.5h1.15v1.15h-1.15zM582.7 272.8h1.15v1.15h-1.15zM586.15 273.95h1.15v1.15h-1.15zM590.75 277.4h0.7v1.15h-0.7zM581.55 278.55h1.15v0.23h-1.15zM582.7 278.55h1.15v0.23h-1.15zM581.55 279.92h1.15v1.15h-1.15zM583.85 279.92h1.15v1.15h-1.15zM581.55 281.07h1.15v1.15h-1.15zM585 281.07h1.15v1.15h-1.15zM589.6 282.22h1.15v1.15h-1.15zM582.7 283.37h1.15v1.15h-1.15zM581.55 286.82h1.15v1.15h-1.15zM588.45 289.12h1.15v1.15h-1.15zM582.7 292.57h1.15v1.15h-1.15zM590.75 292.57h0.7v1.15h-0.7zM588.45 293.72h1.15v1.15h-1.15zM581.55 296.02h1.15v1.15h-1.15zM581.55 297.17h1.15v1.08h-1.15zM589.6 297.17h1.15v1.08h-1.15z" fill="#5cab50" opacity="0.9"/>
<path d="M587.3 256.7h1.15v1.15h-1.15zM587.3 260.15h1.15v1.15h-1.15zM581.55 263.6h1.15v1.15h-1.15zM589.6 265.9h1.15v1.15h-1.15zM581.55 267.05h1.15v1.15h-1.15zM590.75 268.2h0.7v1.15h-0.7zM581.55 269.35h1.15v1.15h-1.15zM589.6 270.5h1.15v1.15h-1.15zM588.45 273.95h1.15v1.15h-1.15zM590.75 278.77h0.7v1.15h-0.7zM588.45 281.07h1.15v1.15h-1.15zM590.75 282.22h0.7v1.15h-0.7zM581.55 284.52h1.15v1.15h-1.15zM587.3 285.67h1.15v1.15h-1.15z" fill="#2f7a6a" opacity="0.9"/>
<path d="M588.45 256.7h1.15v1.15h-1.15zM588.45 257.85h1.15v1.15h-1.15zM581.55 261.3h1.15v1.15h-1.15zM582.7 262.45h1.15v1.15h-1.15zM583.85 262.45h1.15v1.15h-1.15zM588.45 262.45h1.15v1.15h-1.15zM587.3 263.6h1.15v1.15h-1.15zM586.15 264.75h1.15v1.15h-1.15zM583.85 267.05h1.15v1.15h-1.15zM590.75 270.5h0.7v1.15h-0.7zM587.3 272.8h1.15v1.15h-1.15zM590.75 283.37h0.7v1.15h-0.7zM583.85 286.82h1.15v1.15h-1.15zM583.85 289.12h1.15v1.15h-1.15z" fill="#2a5fa0" opacity="0.9"/>
<path d="M589.6 259h1.15v1.15h-1.15zM589.6 260.15h1.15v1.15h-1.15zM585 264.75h1.15v1.15h-1.15zM588.45 265.9h1.15v1.15h-1.15zM586.15 271.65h1.15v1.15h-1.15zM588.45 275.1h1.15v1.15h-1.15zM582.7 277.4h1.15v1.15h-1.15zM581.55 278.77h1.15v1.15h-1.15zM587.3 281.07h1.15v1.15h-1.15zM589.6 293.72h1.15v1.15h-1.15zM590.75 296.02h0.7v1.15h-0.7z" fill="#86c455" opacity="0.9"/>
<rect x="581.25" y="278.27" width="10.5" height="0.9" fill="#929c3a" opacity="0.8"/>
<rect x="578.65" y="255.35" width="15.7" height="22.06" rx="2.4" fill="none" stroke="#f2a266" stroke-width="1.05" stroke-dasharray="1.5 0.9"/>
<rect x="599.25" y="253.75" width="10.75" height="45.5" fill="#27278d"/>
<rect x="599.25" y="253.75" width="10.75" height="1.4" fill="#5a2a8a" opacity="0.7"/>
<rect x="599.65" y="255.55" width="9.95" height="23.22" fill="#3f8f55" opacity="0.3"/>
<path d="M607.6 255.55h1.15v1.15h-1.15zM608.75 255.55h0.95v1.15h-0.95zM605.3 256.7h1.15v1.15h-1.15zM607.6 256.7h1.15v1.15h-1.15zM608.75 256.7h0.95v1.15h-0.95zM599.55 257.85h1.15v1.15h-1.15zM601.85 257.85h1.15v1.15h-1.15zM604.15 257.85h1.15v1.15h-1.15zM603 261.3h1.15v1.15h-1.15zM599.55 262.45h1.15v1.15h-1.15zM600.7 262.45h1.15v1.15h-1.15zM599.55 263.6h1.15v1.15h-1.15zM599.55 264.75h1.15v1.15h-1.15zM604.15 264.75h1.15v1.15h-1.15zM605.3 264.75h1.15v1.15h-1.15zM608.75 265.9h0.95v1.15h-0.95zM601.85 267.05h1.15v1.15h-1.15zM600.7 268.2h1.15v1.15h-1.15zM599.55 269.35h1.15v1.15h-1.15zM603 270.5h1.15v1.15h-1.15zM599.55 271.65h1.15v1.15h-1.15zM607.6 272.8h1.15v1.15h-1.15zM608.75 272.8h0.95v1.15h-0.95zM599.55 273.95h1.15v1.15h-1.15zM606.45 273.95h1.15v1.15h-1.15zM601.85 276.25h1.15v1.15h-1.15zM603 276.25h1.15v1.15h-1.15zM606.45 276.25h1.15v1.15h-1.15zM599.55 278.55h1.15v0.23h-1.15zM608.75 278.55h0.95v0.23h-0.95zM604.15 278.77h1.15v1.15h-1.15zM601.85 281.07h1.15v1.15h-1.15zM606.45 281.07h1.15v1.15h-1.15zM607.6 283.37h1.15v1.15h-1.15zM608.75 284.52h0.95v1.15h-0.95zM608.75 287.97h0.95v1.15h-0.95zM599.55 292.57h1.15v1.15h-1.15zM604.15 292.57h1.15v1.15h-1.15zM600.7 294.87h1.15v1.15h-1.15zM605.3 296.02h1.15v1.15h-1.15zM606.45 297.17h1.15v1.08h-1.15zM608.75 297.17h0.95v1.08h-0.95z" fill="#4a9a4a" opacity="0.9"/>
<path d="M600.7 255.55h1.15v1.15h-1.15zM603 255.55h1.15v1.15h-1.15zM601.85 256.7h1.15v1.15h-1.15zM606.45 257.85h1.15v1.15h-1.15zM599.55 259h1.15v1.15h-1.15zM607.6 259h1.15v1.15h-1.15zM606.45 260.15h1.15v1.15h-1.15zM601.85 261.3h1.15v1.15h-1.15zM608.75 261.3h0.95v1.15h-0.95zM606.45 264.75h1.15v1.15h-1.15zM607.6 264.75h1.15v1.15h-1.15zM603 265.9h1.15v1.15h-1.15zM606.45 270.5h1.15v1.15h-1.15zM603 273.95h1.15v1.15h-1.15zM603 275.1h1.15v1.15h-1.15zM606.45 277.4h1.15v1.15h-1.15zM601.85 278.77h1.15v1.15h-1.15zM604.15 285.67h1.15v1.15h-1.15zM599.55 286.82h1.15v1.15h-1.15zM601.85 286.82h1.15v1.15h-1.15zM603 286.82h1.15v1.15h-1.15zM599.55 291.42h1.15v1.15h-1.15zM606.45 293.72h1.15v1.15h-1.15zM607.6 293.72h1.15v1.15h-1.15zM600.7 296.02h1.15v1.15h-1.15zM604.15 297.17h1.15v1.08h-1.15z" fill="#3f8c52" opacity="0.9"/>
<path d="M600.7 256.7h1.15v1.15h-1.15zM608.75 259h0.95v1.15h-0.95zM603 260.15h1.15v1.15h-1.15zM599.55 261.3h1.15v1.15h-1.15zM607.6 261.3h1.15v1.15h-1.15zM601.85 262.45h1.15v1.15h-1.15zM600.7 263.6h1.15v1.15h-1.15zM608.75 263.6h0.95v1.15h-0.95zM607.6 267.05h1.15v1.15h-1.15zM606.45 269.35h1.15v1.15h-1.15zM608.75 269.35h0.95v1.15h-0.95zM607.6 270.5h1.15v1.15h-1.15zM607.6 271.65h1.15v1.15h-1.15zM601.85 272.8h1.15v1.15h-1.15zM600.7 273.95h1.15v1.15h-1.15zM599.55 275.1h1.15v1.15h-1.15zM605.3 275.1h1.15v1.15h-1.15zM599.55 278.77h1.15v1.15h-1.15zM600.7 278.77h1.15v1.15h-1.15zM606.45 278.77h1.15v1.15h-1.15zM607.6 282.22h1.15v1.15h-1.15zM599.55 283.37h1.15v1.15h-1.15zM600.7 284.52h1.15v1.15h-1.15zM608.75 285.67h0.95v1.15h-0.95zM600.7 289.12h1.15v1.15h-1.15zM604.15 291.42h1.15v1.15h-1.15zM605.3 291.42h1.15v1.15h-1.15zM606.45 292.57h1.15v1.15h-1.15zM601.85 297.17h1.15v1.08h-1.15z" fill="#5cab50" opacity="0.9"/>
<path d="M608.75 260.15h0.95v1.15h-0.95zM607.6 263.6h1.15v1.15h-1.15zM599.55 265.9h1.15v1.15h-1.15zM606.45 265.9h1.15v1.15h-1.15zM603 267.05h1.15v1.15h-1.15zM608.75 267.05h0.95v1.15h-0.95zM605.3 269.35h1.15v1.15h-1.15zM608.75 271.65h0.95v1.15h-0.95zM600.7 277.4h1.15v1.15h-1.15zM605.3 277.4h1.15v1.15h-1.15zM608.75 277.4h0.95v1.15h-0.95zM607.6 278.77h1.15v1.15h-1.15zM600.7 287.97h1.15v1.15h-1.15zM607.6 287.97h1.15v1.15h-1.15zM605.3 292.57h1.15v1.15h-1.15zM606.45 294.87h1.15v1.15h-1.15z" fill="#2f7a6a" opacity="0.9"/>
<path d="M599.55 255.55h1.15v1.15h-1.15zM599.55 260.15h1.15v1.15h-1.15zM606.45 275.1h1.15v1.15h-1.15zM601.85 285.67h1.15v1.15h-1.15zM607.6 291.42h1.15v1.15h-1.15zM600.7 293.72h1.15v1.15h-1.15z" fill="#2a5fa0" opacity="0.9"/>
<path d="M607.6 273.95h1.15v1.15h-1.15zM608.75 286.82h0.95v1.15h-0.95z" fill="#86c455" opacity="0.9"/>
<rect x="599.25" y="278.27" width="10.75" height="0.9" fill="#929c3a" opacity="0.8"/>
<rect x="596.65" y="255.35" width="15.95" height="22.06" rx="2.4" fill="none" stroke="#f2a266" stroke-width="1.05" stroke-dasharray="1.5 0.9"/>
<rect x="628.75" y="253.75" width="10.75" height="45.5" fill="#27278d"/>
<rect x="628.75" y="253.75" width="10.75" height="1.4" fill="#5a2a8a" opacity="0.7"/>
<rect x="629.15" y="255.55" width="9.95" height="21.86" fill="#3f8f55" opacity="0.44"/>
<path d="M629.05 255.55h1.15v1.15h-1.15zM629.05 256.7h1.15v1.15h-1.15zM629.05 257.85h1.15v1.15h-1.15zM634.8 257.85h1.15v1.15h-1.15zM635.95 257.85h1.15v1.15h-1.15zM630.2 259h1.15v1.15h-1.15zM637.1 259h1.15v1.15h-1.15zM634.8 260.15h1.15v1.15h-1.15zM635.95 260.15h1.15v1.15h-1.15zM638.25 261.3h0.95v1.15h-0.95zM638.25 262.45h0.95v1.15h-0.95zM629.05 263.6h1.15v1.15h-1.15zM629.05 264.75h1.15v1.15h-1.15zM638.25 265.9h0.95v1.15h-0.95zM633.65 267.05h1.15v1.15h-1.15zM634.8 267.05h1.15v1.15h-1.15zM638.25 267.05h0.95v1.15h-0.95zM631.35 268.2h1.15v1.15h-1.15zM638.25 269.35h0.95v1.15h-0.95zM629.05 270.5h1.15v1.15h-1.15zM630.2 270.5h1.15v1.15h-1.15zM634.8 272.8h1.15v1.15h-1.15zM629.05 273.95h1.15v1.15h-1.15zM637.1 273.95h1.15v1.15h-1.15zM629.05 275.1h1.15v1.15h-1.15zM630.2 275.1h1.15v1.15h-1.15zM631.35 275.1h1.15v1.15h-1.15zM630.2 276.25h1.15v1.15h-1.15zM638.25 276.25h0.95v1.15h-0.95zM631.35 291.21h1.15v1.15h-1.15z" fill="#4a9a4a" opacity="0.9"/>
<path d="M630.2 255.55h1.15v1.15h-1.15zM630.2 257.85h1.15v1.15h-1.15zM638.25 257.85h0.95v1.15h-0.95zM629.05 259h1.15v1.15h-1.15zM631.35 259h1.15v1.15h-1.15zM632.5 260.15h1.15v1.15h-1.15zM638.25 260.15h0.95v1.15h-0.95zM629.05 262.45h1.15v1.15h-1.15zM633.65 262.45h1.15v1.15h-1.15zM630.2 263.6h1.15v1.15h-1.15zM632.5 263.6h1.15v1.15h-1.15zM638.25 263.6h0.95v1.15h-0.95zM635.95 265.9h1.15v1.15h-1.15zM638.25 268.2h0.95v1.15h-0.95zM631.35 271.65h1.15v1.15h-1.15zM631.35 273.95h1.15v1.15h-1.15zM635.95 275.1h1.15v1.15h-1.15zM637.1 275.1h1.15v1.15h-1.15zM631.35 276.25h1.15v1.15h-1.15z" fill="#3f8c52" opacity="0.9"/>
<path d="M633.65 255.55h1.15v1.15h-1.15zM638.25 255.55h0.95v1.15h-0.95zM637.1 256.7h1.15v1.15h-1.15zM638.25 256.7h0.95v1.15h-0.95zM638.25 259h0.95v1.15h-0.95zM637.1 260.15h1.15v1.15h-1.15zM629.05 261.3h1.15v1.15h-1.15zM632.5 261.3h1.15v1.15h-1.15zM637.1 262.45h1.15v1.15h-1.15zM631.35 263.6h1.15v1.15h-1.15zM637.1 263.6h1.15v1.15h-1.15zM637.1 264.75h1.15v1.15h-1.15zM629.05 265.9h1.15v1.15h-1.15zM629.05 267.05h1.15v1.15h-1.15zM635.95 267.05h1.15v1.15h-1.15zM629.05 268.2h1.15v1.15h-1.15zM630.2 269.35h1.15v1.15h-1.15zM631.35 269.35h1.15v1.15h-1.15zM634.8 269.35h1.15v1.15h-1.15zM635.95 270.5h1.15v1.15h-1.15zM634.8 271.65h1.15v1.15h-1.15zM637.1 271.65h1.15v1.15h-1.15zM638.25 272.8h0.95v1.15h-0.95zM638.25 275.1h0.95v1.15h-0.95zM629.05 276.25h1.15v1.15h-1.15zM637.1 277.41h1.15v1.15h-1.15zM635.95 279.71h1.15v1.15h-1.15zM638.25 295.81h0.95v1.15h-0.95z" fill="#5cab50" opacity="0.9"/>
<path d="M634.8 256.7h1.15v1.15h-1.15zM630.2 260.15h1.15v1.15h-1.15zM635.95 261.3h1.15v1.15h-1.15zM630.2 264.75h1.15v1.15h-1.15zM631.35 264.75h1.15v1.15h-1.15zM638.25 264.75h0.95v1.15h-0.95zM632.5 265.9h1.15v1.15h-1.15zM632.5 267.05h1.15v1.15h-1.15zM637.1 268.2h1.15v1.15h-1.15zM631.35 270.5h1.15v1.15h-1.15zM629.05 271.65h1.15v1.15h-1.15zM630.2 272.8h1.15v1.15h-1.15zM635.95 282.01h1.15v1.15h-1.15z" fill="#2f7a6a" opacity="0.9"/>
<path d="M637.1 257.85h1.15v1.15h-1.15zM635.95 259h1.15v1.15h-1.15zM631.35 260.15h1.15v1.15h-1.15zM633.65 263.6h1.15v1.15h-1.15zM637.1 267.05h1.15v1.15h-1.15zM635.95 269.35h1.15v1.15h-1.15zM637.1 270.5h1.15v1.15h-1.15zM629.05 272.8h1.15v1.15h-1.15zM632.5 272.8h1.15v1.15h-1.15zM637.1 272.8h1.15v1.15h-1.15z" fill="#2a5fa0" opacity="0.9"/>
<path d="M631.35 267.05h1.15v1.15h-1.15zM633.65 268.2h1.15v1.15h-1.15zM635.95 272.8h1.15v1.15h-1.15zM632.5 275.1h1.15v1.15h-1.15zM634.8 276.25h1.15v1.15h-1.15z" fill="#86c455" opacity="0.9"/>
<rect x="628.75" y="276.91" width="10.75" height="0.9" fill="#929c3a" opacity="0.8"/>
<rect x="626.15" y="255.35" width="15.95" height="22.06" rx="2.4" fill="none" stroke="#f2a266" stroke-width="1.05" stroke-dasharray="1.5 0.9"/>
<rect x="650" y="253.75" width="11.25" height="45.5" fill="#27278d"/>
<rect x="650" y="253.75" width="11.25" height="1.4" fill="#5a2a8a" opacity="0.7"/>
<rect x="650.4" y="255.55" width="10.45" height="21.86" fill="#3f8f55" opacity="0.4"/>
<path d="M659.5 255.55h1.15v1.15h-1.15zM650.3 256.7h1.15v1.15h-1.15zM659.5 257.85h1.15v1.15h-1.15zM652.6 259h1.15v1.15h-1.15zM650.3 260.15h1.15v1.15h-1.15zM653.75 260.15h1.15v1.15h-1.15zM660.65 261.3h0.3v1.15h-0.3zM652.6 262.45h1.15v1.15h-1.15zM660.65 262.45h0.3v1.15h-0.3zM650.3 263.6h1.15v1.15h-1.15zM652.6 263.6h1.15v1.15h-1.15zM650.3 264.75h1.15v1.15h-1.15zM651.45 265.9h1.15v1.15h-1.15zM659.5 265.9h1.15v1.15h-1.15zM660.65 265.9h0.3v1.15h-0.3zM660.65 267.05h0.3v1.15h-0.3zM652.6 268.2h1.15v1.15h-1.15zM658.35 268.2h1.15v1.15h-1.15zM659.5 268.2h1.15v1.15h-1.15zM660.65 268.2h0.3v1.15h-0.3zM652.6 269.35h1.15v1.15h-1.15zM658.35 269.35h1.15v1.15h-1.15zM650.3 270.5h1.15v1.15h-1.15zM651.45 270.5h1.15v1.15h-1.15zM657.2 270.5h1.15v1.15h-1.15zM653.75 271.65h1.15v1.15h-1.15zM651.45 272.8h1.15v1.15h-1.15zM651.45 273.95h1.15v1.15h-1.15zM656.05 273.95h1.15v1.15h-1.15zM660.65 275.1h0.3v1.15h-0.3z" fill="#4a9a4a" opacity="0.9"/>
<path d="M651.45 257.85h1.15v1.15h-1.15zM656.05 257.85h1.15v1.15h-1.15zM658.35 257.85h1.15v1.15h-1.15zM653.75 259h1.15v1.15h-1.15zM651.45 260.15h1.15v1.15h-1.15zM650.3 261.3h1.15v1.15h-1.15zM653.75 264.75h1.15v1.15h-1.15zM656.05 265.9h1.15v1.15h-1.15zM659.5 267.05h1.15v1.15h-1.15zM650.3 269.35h1.15v1.15h-1.15zM660.65 269.35h0.3v1.15h-0.3zM656.05 270.5h1.15v1.15h-1.15zM654.9 271.65h1.15v1.15h-1.15zM650.3 273.95h1.15v1.15h-1.15zM654.9 273.95h1.15v1.15h-1.15zM657.2 273.95h1.15v1.15h-1.15zM650.3 275.1h1.15v1.15h-1.15zM660.65 276.25h0.3v1.15h-0.3z" fill="#3f8c52" opacity="0.9"/>
<path d="M654.9 255.55h1.15v1.15h-1.15zM653.75 256.7h1.15v1.15h-1.15zM657.2 256.7h1.15v1.15h-1.15zM658.35 256.7h1.15v1.15h-1.15zM652.6 260.15h1.15v1.15h-1.15zM656.05 260.15h1.15v1.15h-1.15zM653.75 261.3h1.15v1.15h-1.15zM658.35 261.3h1.15v1.15h-1.15zM651.45 264.75h1.15v1.15h-1.15zM652.6 264.75h1.15v1.15h-1.15zM653.75 267.05h1.15v1.15h-1.15zM654.9 268.2h1.15v1.15h-1.15zM651.45 269.35h1.15v1.15h-1.15zM651.45 271.65h1.15v1.15h-1.15zM658.35 271.65h1.15v1.15h-1.15zM659.5 271.65h1.15v1.15h-1.15zM654.9 272.8h1.15v1.15h-1.15zM656.05 275.1h1.15v1.15h-1.15zM659.5 275.1h1.15v1.15h-1.15z" fill="#5cab50" opacity="0.9"/>
<path d="M660.65 255.55h0.3v1.15h-0.3zM657.2 257.85h1.15v1.15h-1.15zM659.5 259h1.15v1.15h-1.15zM653.75 262.45h1.15v1.15h-1.15zM658.35 263.6h1.15v1.15h-1.15zM659.5 263.6h1.15v1.15h-1.15zM658.35 264.75h1.15v1.15h-1.15zM652.6 265.9h1.15v1.15h-1.15zM651.45 268.2h1.15v1.15h-1.15zM650.3 271.65h1.15v1.15h-1.15zM652.6 271.65h1.15v1.15h-1.15zM658.35 272.8h1.15v1.15h-1.15zM653.75 276.25h1.15v1.15h-1.15z" fill="#2f7a6a" opacity="0.9"/>
<path d="M660.65 257.85h0.3v1.15h-0.3zM660.65 259h0.3v1.15h-0.3zM659.5 260.15h1.15v1.15h-1.15zM660.65 260.15h0.3v1.15h-0.3zM652.6 261.3h1.15v1.15h-1.15zM654.9 261.3h1.15v1.15h-1.15zM651.45 262.45h1.15v1.15h-1.15zM658.35 262.45h1.15v1.15h-1.15zM657.2 263.6h1.15v1.15h-1.15zM659.5 264.75h1.15v1.15h-1.15zM652.6 267.05h1.15v1.15h-1.15zM659.5 269.35h1.15v1.15h-1.15zM658.35 270.5h1.15v1.15h-1.15zM659.5 270.5h1.15v1.15h-1.15zM660.65 270.5h0.3v1.15h-0.3zM657.2 271.65h1.15v1.15h-1.15zM659.5 272.8h1.15v1.15h-1.15zM660.65 272.8h0.3v1.15h-0.3z" fill="#2a5fa0" opacity="0.9"/>
<path d="M653.75 257.85h1.15v1.15h-1.15z" fill="#86c455" opacity="0.9"/>
<rect x="650" y="276.91" width="11.25" height="0.9" fill="#929c3a" opacity="0.8"/>
<rect x="647.4" y="255.35" width="16.45" height="22.06" rx="2.4" fill="none" stroke="#f2a266" stroke-width="1.05" stroke-dasharray="1.5 0.9"/>
<text x="564.5" y="325.6" font-size="4.2" text-anchor="middle" font-weight="700" fill="#333">40C-1M</text>
<rect x="581.25" y="307.5" width="10.5" height="46.25" fill="#27278d"/>
<rect x="581.25" y="307.5" width="10.5" height="1.4" fill="#5a2a8a" opacity="0.7"/>
<rect x="581.65" y="309.3" width="9.7" height="22.25" fill="#3f8f55" opacity="0.24"/>
<path d="M582.7 310.45h1.15v1.15h-1.15zM583.85 312.75h1.15v1.15h-1.15zM589.6 312.75h1.15v1.15h-1.15zM582.7 313.9h1.15v1.15h-1.15zM590.75 313.9h0.7v1.15h-0.7zM585 316.2h1.15v1.15h-1.15zM589.6 321.95h1.15v1.15h-1.15zM589.6 323.1h1.15v1.15h-1.15zM587.3 324.25h1.15v1.15h-1.15zM581.55 325.4h1.15v1.15h-1.15zM588.45 332.7h1.15v1.15h-1.15zM581.55 333.85h1.15v1.15h-1.15zM582.7 333.85h1.15v1.15h-1.15zM590.75 333.85h0.7v1.15h-0.7zM582.7 335h1.15v1.15h-1.15zM588.45 335h1.15v1.15h-1.15zM590.75 338.45h0.7v1.15h-0.7zM587.3 340.75h1.15v1.15h-1.15zM586.15 341.9h1.15v1.15h-1.15zM581.55 343.05h1.15v1.15h-1.15zM590.75 343.05h0.7v1.15h-0.7zM583.85 344.2h1.15v1.15h-1.15zM583.85 345.35h1.15v1.15h-1.15zM589.6 346.5h1.15v1.15h-1.15zM581.55 347.65h1.15v1.15h-1.15zM583.85 347.65h1.15v1.15h-1.15zM582.7 349.95h1.15v1.15h-1.15zM581.55 351.1h1.15v1.15h-1.15zM585 351.1h1.15v1.15h-1.15zM582.7 352.25h1.15v0.5h-1.15z" fill="#4a9a4a" opacity="0.9"/>
<path d="M582.7 312.75h1.15v1.15h-1.15zM583.85 316.2h1.15v1.15h-1.15zM589.6 316.2h1.15v1.15h-1.15zM589.6 319.65h1.15v1.15h-1.15zM585 320.8h1.15v1.15h-1.15zM585 323.1h1.15v1.15h-1.15zM588.45 323.1h1.15v1.15h-1.15zM582.7 324.25h1.15v1.15h-1.15zM585 324.25h1.15v1.15h-1.15zM582.7 328.85h1.15v1.15h-1.15zM582.7 330h1.15v1.15h-1.15zM582.7 331.15h1.15v0.4h-1.15zM583.85 331.15h1.15v0.4h-1.15zM583.85 335h1.15v1.15h-1.15zM590.75 335h0.7v1.15h-0.7zM588.45 336.15h1.15v1.15h-1.15zM582.7 338.45h1.15v1.15h-1.15zM583.85 338.45h1.15v1.15h-1.15zM589.6 338.45h1.15v1.15h-1.15zM581.55 341.9h1.15v1.15h-1.15zM583.85 346.5h1.15v1.15h-1.15zM581.55 348.8h1.15v1.15h-1.15zM588.45 352.25h1.15v0.5h-1.15z" fill="#3f8c52" opacity="0.9"/>
<path d="M587.3 311.6h1.15v1.15h-1.15zM589.6 311.6h1.15v1.15h-1.15zM583.85 313.9h1.15v1.15h-1.15zM588.45 313.9h1.15v1.15h-1.15zM590.75 316.2h0.7v1.15h-0.7zM588.45 317.35h1.15v1.15h-1.15zM581.55 318.5h1.15v1.15h-1.15zM582.7 320.8h1.15v1.15h-1.15zM589.6 320.8h1.15v1.15h-1.15zM587.3 323.1h1.15v1.15h-1.15zM589.6 326.55h1.15v1.15h-1.15zM588.45 327.7h1.15v1.15h-1.15zM585 331.55h1.15v1.15h-1.15zM585 332.7h1.15v1.15h-1.15zM590.75 336.15h0.7v1.15h-0.7zM585 339.6h1.15v1.15h-1.15zM582.7 341.9h1.15v1.15h-1.15zM590.75 347.65h0.7v1.15h-0.7zM588.45 351.1h1.15v1.15h-1.15z" fill="#5cab50" opacity="0.9"/>
<path d="M581.55 310.45h1.15v1.15h-1.15zM590.75 310.45h0.7v1.15h-0.7zM590.75 312.75h0.7v1.15h-0.7zM589.6 313.9h1.15v1.15h-1.15zM582.7 316.2h1.15v1.15h-1.15zM590.75 318.5h0.7v1.15h-0.7zM588.45 320.8h1.15v1.15h-1.15zM589.6 325.4h1.15v1.15h-1.15zM590.75 326.55h0.7v1.15h-0.7zM581.55 327.7h1.15v1.15h-1.15zM581.55 328.85h1.15v1.15h-1.15zM581.55 331.55h1.15v1.15h-1.15zM589.6 333.85h1.15v1.15h-1.15zM587.3 335h1.15v1.15h-1.15zM582.7 336.15h1.15v1.15h-1.15zM583.85 336.15h1.15v1.15h-1.15zM587.3 336.15h1.15v1.15h-1.15zM582.7 343.05h1.15v1.15h-1.15zM581.55 345.35h1.15v1.15h-1.15zM588.45 345.35h1.15v1.15h-1.15zM583.85 352.25h1.15v0.5h-1.15zM587.3 352.25h1.15v0.5h-1.15zM589.6 352.25h1.15v0.5h-1.15z" fill="#2f7a6a" opacity="0.9"/>
<path d="M583.85 315.05h1.15v1.15h-1.15zM587.3 337.3h1.15v1.15h-1.15zM588.45 340.75h1.15v1.15h-1.15zM585 344.2h1.15v1.15h-1.15zM581.55 346.5h1.15v1.15h-1.15zM590.75 348.8h0.7v1.15h-0.7z" fill="#2a5fa0" opacity="0.9"/>
<path d="M589.6 309.3h1.15v1.15h-1.15zM589.6 318.5h1.15v1.15h-1.15zM590.75 319.65h0.7v1.15h-0.7zM590.75 320.8h0.7v1.15h-0.7zM590.75 323.1h0.7v1.15h-0.7zM581.55 338.45h1.15v1.15h-1.15zM585 352.25h1.15v0.5h-1.15z" fill="#86c455" opacity="0.9"/>
<rect x="581.25" y="331.05" width="10.5" height="0.9" fill="#929c3a" opacity="0.8"/>
<rect x="578.65" y="309.1" width="15.7" height="22.45" rx="2.4" fill="none" stroke="#f2a266" stroke-width="1.05" stroke-dasharray="1.5 0.9"/>
<rect x="599.25" y="307.5" width="10.75" height="46.25" fill="#27278d"/>
<rect x="599.25" y="307.5" width="10.75" height="1.4" fill="#5a2a8a" opacity="0.7"/>
<rect x="599.65" y="309.3" width="9.95" height="23.64" fill="#3f8f55" opacity="0.36"/>
<path d="M608.75 309.3h0.95v1.15h-0.95zM599.55 310.45h1.15v1.15h-1.15zM600.7 310.45h1.15v1.15h-1.15zM599.55 312.75h1.15v1.15h-1.15zM601.85 316.2h1.15v1.15h-1.15zM604.15 316.2h1.15v1.15h-1.15zM607.6 318.5h1.15v1.15h-1.15zM599.55 319.65h1.15v1.15h-1.15zM608.75 319.65h0.95v1.15h-0.95zM600.7 320.8h1.15v1.15h-1.15zM608.75 320.8h0.95v1.15h-0.95zM599.55 321.95h1.15v1.15h-1.15zM600.7 321.95h1.15v1.15h-1.15zM606.45 321.95h1.15v1.15h-1.15zM607.6 323.1h1.15v1.15h-1.15zM603 324.25h1.15v1.15h-1.15zM608.75 324.25h0.95v1.15h-0.95zM607.6 325.4h1.15v1.15h-1.15zM601.85 326.55h1.15v1.15h-1.15zM600.7 327.7h1.15v1.15h-1.15zM605.3 327.7h1.15v1.15h-1.15zM607.6 327.7h1.15v1.15h-1.15zM608.75 327.7h0.95v1.15h-0.95zM603 328.85h1.15v1.15h-1.15zM601.85 330h1.15v1.15h-1.15zM604.15 330h1.15v1.15h-1.15zM599.55 331.15h1.15v1.15h-1.15zM601.85 331.15h1.15v1.15h-1.15zM605.3 331.15h1.15v1.15h-1.15zM607.6 331.15h1.15v1.15h-1.15zM599.55 332.3h1.15v0.64h-1.15zM608.75 332.3h0.95v0.64h-0.95zM601.85 332.94h1.15v1.15h-1.15zM600.7 337.54h1.15v1.15h-1.15zM608.75 337.54h0.95v1.15h-0.95zM601.85 339.84h1.15v1.15h-1.15zM606.45 345.59h1.15v1.15h-1.15zM607.6 345.59h1.15v1.15h-1.15zM608.75 345.59h0.95v1.15h-0.95zM608.75 349.04h0.95v1.15h-0.95zM603 350.19h1.15v1.15h-1.15zM606.45 350.19h1.15v1.15h-1.15zM600.7 351.34h1.15v1.15h-1.15zM601.85 352.49h1.15v0.26h-1.15z" fill="#4a9a4a" opacity="0.9"/>
<path d="M607.6 310.45h1.15v1.15h-1.15zM599.55 311.6h1.15v1.15h-1.15zM604.15 311.6h1.15v1.15h-1.15zM600.7 315.05h1.15v1.15h-1.15zM601.85 315.05h1.15v1.15h-1.15zM603 315.05h1.15v1.15h-1.15zM606.45 317.35h1.15v1.15h-1.15zM608.75 317.35h0.95v1.15h-0.95zM603 319.65h1.15v1.15h-1.15zM601.85 321.95h1.15v1.15h-1.15zM607.6 321.95h1.15v1.15h-1.15zM599.55 326.55h1.15v1.15h-1.15zM603 326.55h1.15v1.15h-1.15zM603 327.7h1.15v1.15h-1.15zM599.55 328.85h1.15v1.15h-1.15zM608.75 330h0.95v1.15h-0.95zM603 332.94h1.15v1.15h-1.15zM601.85 336.39h1.15v1.15h-1.15zM608.75 342.14h0.95v1.15h-0.95zM607.6 343.29h1.15v1.15h-1.15zM607.6 344.44h1.15v1.15h-1.15zM608.75 346.74h0.95v1.15h-0.95zM600.7 347.89h1.15v1.15h-1.15z" fill="#3f8c52" opacity="0.9"/>
<path d="M606.45 310.45h1.15v1.15h-1.15zM600.7 311.6h1.15v1.15h-1.15zM606.45 311.6h1.15v1.15h-1.15zM600.7 312.75h1.15v1.15h-1.15zM605.3 313.9h1.15v1.15h-1.15zM599.55 315.05h1.15v1.15h-1.15zM599.55 320.8h1.15v1.15h-1.15zM599.55 323.1h1.15v1.15h-1.15zM599.55 324.25h1.15v1.15h-1.15zM601.85 325.4h1.15v1.15h-1.15zM608.75 326.55h0.95v1.15h-0.95zM600.7 332.3h1.15v0.64h-1.15zM605.3 336.39h1.15v1.15h-1.15zM599.55 338.69h1.15v1.15h-1.15zM601.85 346.74h1.15v1.15h-1.15zM599.55 347.89h1.15v1.15h-1.15zM604.15 352.49h1.15v0.26h-1.15z" fill="#5cab50" opacity="0.9"/>
<path d="M600.7 309.3h1.15v1.15h-1.15zM603 310.45h1.15v1.15h-1.15zM605.3 311.6h1.15v1.15h-1.15zM607.6 316.2h1.15v1.15h-1.15zM603 317.35h1.15v1.15h-1.15zM605.3 321.95h1.15v1.15h-1.15zM601.85 323.1h1.15v1.15h-1.15zM603 323.1h1.15v1.15h-1.15zM604.15 323.1h1.15v1.15h-1.15zM599.55 325.4h1.15v1.15h-1.15zM603 325.4h1.15v1.15h-1.15zM608.75 331.15h0.95v1.15h-0.95zM603 332.3h1.15v0.64h-1.15zM600.7 335.24h1.15v1.15h-1.15zM601.85 343.29h1.15v1.15h-1.15zM599.55 349.04h1.15v1.15h-1.15z" fill="#2f7a6a" opacity="0.9"/>
<path d="M607.6 313.9h1.15v1.15h-1.15zM608.75 313.9h0.95v1.15h-0.95zM608.75 318.5h0.95v1.15h-0.95zM600.7 323.1h1.15v1.15h-1.15zM608.75 323.1h0.95v1.15h-0.95zM600.7 328.85h1.15v1.15h-1.15zM599.55 330h1.15v1.15h-1.15zM605.3 330h1.15v1.15h-1.15zM607.6 332.3h1.15v0.64h-1.15zM601.85 334.09h1.15v1.15h-1.15zM600.7 339.84h1.15v1.15h-1.15zM603 342.14h1.15v1.15h-1.15z" fill="#2a5fa0" opacity="0.9"/>
<path d="M608.75 310.45h0.95v1.15h-0.95zM604.15 324.25h1.15v1.15h-1.15zM600.7 325.4h1.15v1.15h-1.15zM601.85 337.54h1.15v1.15h-1.15zM601.85 344.44h1.15v1.15h-1.15z" fill="#86c455" opacity="0.9"/>
<rect x="599.25" y="332.44" width="10.75" height="0.9" fill="#929c3a" opacity="0.8"/>
<rect x="596.65" y="309.1" width="15.95" height="22.45" rx="2.4" fill="none" stroke="#f2a266" stroke-width="1.05" stroke-dasharray="1.5 0.9"/>
<rect x="628.75" y="307.5" width="10.75" height="46.25" fill="#27278d"/>
<rect x="628.75" y="307.5" width="10.75" height="1.4" fill="#5a2a8a" opacity="0.7"/>
<rect x="629.15" y="309.3" width="9.95" height="21.32" fill="#3f8f55" opacity="0.36"/>
<path d="M632.5 309.3h1.15v1.15h-1.15zM633.65 310.45h1.15v1.15h-1.15zM637.1 310.45h1.15v1.15h-1.15zM638.25 310.45h0.95v1.15h-0.95zM630.2 311.6h1.15v1.15h-1.15zM635.95 311.6h1.15v1.15h-1.15zM632.5 312.75h1.15v1.15h-1.15zM632.5 313.9h1.15v1.15h-1.15zM637.1 313.9h1.15v1.15h-1.15zM633.65 315.05h1.15v1.15h-1.15zM638.25 316.2h0.95v1.15h-0.95zM637.1 317.35h1.15v1.15h-1.15zM638.25 317.35h0.95v1.15h-0.95zM630.2 318.5h1.15v1.15h-1.15zM632.5 318.5h1.15v1.15h-1.15zM633.65 318.5h1.15v1.15h-1.15zM637.1 318.5h1.15v1.15h-1.15zM630.2 319.65h1.15v1.15h-1.15zM632.5 319.65h1.15v1.15h-1.15zM638.25 319.65h0.95v1.15h-0.95zM631.35 320.8h1.15v1.15h-1.15zM635.95 320.8h1.15v1.15h-1.15zM629.05 321.95h1.15v1.15h-1.15zM631.35 321.95h1.15v1.15h-1.15zM635.95 323.1h1.15v1.15h-1.15zM630.2 327.7h1.15v1.15h-1.15zM631.35 327.7h1.15v1.15h-1.15zM633.65 327.7h1.15v1.15h-1.15z" fill="#4a9a4a" opacity="0.9"/>
<path d="M629.05 309.3h1.15v1.15h-1.15zM630.2 312.75h1.15v1.15h-1.15zM629.05 313.9h1.15v1.15h-1.15zM638.25 313.9h0.95v1.15h-0.95zM629.05 315.05h1.15v1.15h-1.15zM638.25 315.05h0.95v1.15h-0.95zM631.35 316.2h1.15v1.15h-1.15zM635.95 316.2h1.15v1.15h-1.15zM631.35 317.35h1.15v1.15h-1.15zM629.05 319.65h1.15v1.15h-1.15zM632.5 323.1h1.15v1.15h-1.15zM630.2 325.4h1.15v1.15h-1.15zM629.05 327.7h1.15v1.15h-1.15zM635.95 327.7h1.15v1.15h-1.15zM629.05 330h1.15v0.63h-1.15zM632.5 330h1.15v0.63h-1.15z" fill="#3f8c52" opacity="0.9"/>
<path d="M629.05 310.45h1.15v1.15h-1.15zM630.2 310.45h1.15v1.15h-1.15zM634.8 311.6h1.15v1.15h-1.15zM631.35 313.9h1.15v1.15h-1.15zM637.1 315.05h1.15v1.15h-1.15zM629.05 316.2h1.15v1.15h-1.15zM629.05 320.8h1.15v1.15h-1.15zM638.25 323.1h0.95v1.15h-0.95zM638.25 324.25h0.95v1.15h-0.95zM629.05 328.85h1.15v1.15h-1.15zM637.1 328.85h1.15v1.15h-1.15zM638.25 330h0.95v0.63h-0.95z" fill="#5cab50" opacity="0.9"/>
<path d="M637.1 309.3h1.15v1.15h-1.15zM633.65 312.75h1.15v1.15h-1.15zM634.8 317.35h1.15v1.15h-1.15zM633.65 320.8h1.15v1.15h-1.15zM638.25 320.8h0.95v1.15h-0.95zM637.1 321.95h1.15v1.15h-1.15zM630.2 323.1h1.15v1.15h-1.15zM629.05 325.4h1.15v1.15h-1.15zM631.35 325.4h1.15v1.15h-1.15zM634.8 327.7h1.15v1.15h-1.15zM637.1 327.7h1.15v1.15h-1.15z" fill="#2f7a6a" opacity="0.9"/>
<path d="M630.2 309.3h1.15v1.15h-1.15zM629.05 312.75h1.15v1.15h-1.15zM634.8 313.9h1.15v1.15h-1.15zM638.25 321.95h0.95v1.15h-0.95zM637.1 323.1h1.15v1.15h-1.15zM631.35 324.25h1.15v1.15h-1.15zM637.1 325.4h1.15v1.15h-1.15zM631.35 326.55h1.15v1.15h-1.15zM634.8 328.85h1.15v1.15h-1.15zM630.2 330h1.15v0.63h-1.15zM637.1 330h1.15v0.63h-1.15z" fill="#2a5fa0" opacity="0.9"/>
<path d="M637.1 319.65h1.15v1.15h-1.15zM637.1 320.8h1.15v1.15h-1.15z" fill="#86c455" opacity="0.9"/>
<rect x="628.75" y="330.12" width="10.75" height="0.9" fill="#929c3a" opacity="0.8"/>
<rect x="626.15" y="309.1" width="15.95" height="22.45" rx="2.4" fill="none" stroke="#f2a266" stroke-width="1.05" stroke-dasharray="1.5 0.9"/>
<rect x="650" y="307.5" width="11.25" height="46.25" fill="#27278d"/>
<rect x="650" y="307.5" width="11.25" height="1.4" fill="#5a2a8a" opacity="0.7"/>
<rect x="650.4" y="309.3" width="10.45" height="23.64" fill="#3f8f55" opacity="0.4"/>
<path d="M651.45 309.3h1.15v1.15h-1.15zM658.35 311.6h1.15v1.15h-1.15zM658.35 312.75h1.15v1.15h-1.15zM660.65 312.75h0.3v1.15h-0.3zM653.75 313.9h1.15v1.15h-1.15zM656.05 315.05h1.15v1.15h-1.15zM651.45 316.2h1.15v1.15h-1.15zM656.05 316.2h1.15v1.15h-1.15zM657.2 316.2h1.15v1.15h-1.15zM651.45 317.35h1.15v1.15h-1.15zM653.75 317.35h1.15v1.15h-1.15zM660.65 317.35h0.3v1.15h-0.3zM651.45 318.5h1.15v1.15h-1.15zM659.5 319.65h1.15v1.15h-1.15zM659.5 321.95h1.15v1.15h-1.15zM650.3 323.1h1.15v1.15h-1.15zM651.45 323.1h1.15v1.15h-1.15zM660.65 323.1h0.3v1.15h-0.3zM652.6 324.25h1.15v1.15h-1.15zM658.35 324.25h1.15v1.15h-1.15zM659.5 324.25h1.15v1.15h-1.15zM650.3 325.4h1.15v1.15h-1.15zM658.35 325.4h1.15v1.15h-1.15zM651.45 326.55h1.15v1.15h-1.15zM656.05 327.7h1.15v1.15h-1.15zM660.65 327.7h0.3v1.15h-0.3zM660.65 328.85h0.3v1.15h-0.3zM660.65 330h0.3v1.15h-0.3zM660.65 331.15h0.3v1.15h-0.3z" fill="#4a9a4a" opacity="0.9"/>
<path d="M650.3 310.45h1.15v1.15h-1.15zM653.75 310.45h1.15v1.15h-1.15zM659.5 312.75h1.15v1.15h-1.15zM650.3 313.9h1.15v1.15h-1.15zM659.5 315.05h1.15v1.15h-1.15zM652.6 316.2h1.15v1.15h-1.15zM658.35 316.2h1.15v1.15h-1.15zM659.5 316.2h1.15v1.15h-1.15zM657.2 317.35h1.15v1.15h-1.15zM658.35 317.35h1.15v1.15h-1.15zM658.35 318.5h1.15v1.15h-1.15zM651.45 319.65h1.15v1.15h-1.15zM658.35 319.65h1.15v1.15h-1.15zM651.45 320.8h1.15v1.15h-1.15zM652.6 320.8h1.15v1.15h-1.15zM659.5 320.8h1.15v1.15h-1.15zM651.45 321.95h1.15v1.15h-1.15zM652.6 321.95h1.15v1.15h-1.15zM656.05 321.95h1.15v1.15h-1.15zM657.2 325.4h1.15v1.15h-1.15zM652.6 326.55h1.15v1.15h-1.15zM654.9 326.55h1.15v1.15h-1.15zM657.2 326.55h1.15v1.15h-1.15zM659.5 326.55h1.15v1.15h-1.15zM650.3 327.7h1.15v1.15h-1.15zM659.5 328.85h1.15v1.15h-1.15zM654.9 332.3h1.15v0.64h-1.15zM658.35 332.3h1.15v0.64h-1.15z" fill="#3f8c52" opacity="0.9"/>
<path d="M650.3 309.3h1.15v1.15h-1.15zM657.2 310.45h1.15v1.15h-1.15zM658.35 310.45h1.15v1.15h-1.15zM653.75 312.75h1.15v1.15h-1.15zM656.05 313.9h1.15v1.15h-1.15zM658.35 313.9h1.15v1.15h-1.15zM660.65 313.9h0.3v1.15h-0.3zM654.9 317.35h1.15v1.15h-1.15zM659.5 318.5h1.15v1.15h-1.15zM660.65 318.5h0.3v1.15h-0.3zM660.65 320.8h0.3v1.15h-0.3zM658.35 321.95h1.15v1.15h-1.15zM660.65 324.25h0.3v1.15h-0.3zM651.45 325.4h1.15v1.15h-1.15zM657.2 327.7h1.15v1.15h-1.15zM651.45 328.85h1.15v1.15h-1.15zM658.35 330h1.15v1.15h-1.15zM651.45 332.3h1.15v0.64h-1.15zM652.6 332.3h1.15v0.64h-1.15zM657.2 332.3h1.15v0.64h-1.15z" fill="#5cab50" opacity="0.9"/>
<path d="M657.2 309.3h1.15v1.15h-1.15zM650.3 311.6h1.15v1.15h-1.15zM651.45 315.05h1.15v1.15h-1.15zM650.3 316.2h1.15v1.15h-1.15zM660.65 321.95h0.3v1.15h-0.3zM658.35 327.7h1.15v1.15h-1.15zM657.2 330h1.15v1.15h-1.15zM659.5 330h1.15v1.15h-1.15zM653.75 331.15h1.15v1.15h-1.15zM659.5 331.15h1.15v1.15h-1.15z" fill="#2f7a6a" opacity="0.9"/>
<path d="M659.5 309.3h1.15v1.15h-1.15zM651.45 311.6h1.15v1.15h-1.15zM659.5 311.6h1.15v1.15h-1.15zM651.45 312.75h1.15v1.15h-1.15zM653.75 315.05h1.15v1.15h-1.15zM650.3 317.35h1.15v1.15h-1.15zM657.2 319.65h1.15v1.15h-1.15zM653.75 320.8h1.15v1.15h-1.15zM659.5 323.1h1.15v1.15h-1.15zM651.45 327.7h1.15v1.15h-1.15zM651.45 331.15h1.15v1.15h-1.15zM658.35 331.15h1.15v1.15h-1.15zM650.3 332.3h1.15v0.64h-1.15z" fill="#2a5fa0" opacity="0.9"/>
<path d="M659.5 310.45h1.15v1.15h-1.15zM660.65 315.05h0.3v1.15h-0.3zM660.65 316.2h0.3v1.15h-0.3z" fill="#86c455" opacity="0.9"/>
<rect x="650" y="332.44" width="11.25" height="0.9" fill="#929c3a" opacity="0.8"/>
<rect x="647.4" y="309.1" width="16.45" height="22.45" rx="2.4" fill="none" stroke="#f2a266" stroke-width="1.05" stroke-dasharray="1.5 0.9"/>
<text x="623.75" y="362.7" font-size="3.3" text-anchor="middle" fill="#666" textLength="58" lengthAdjust="spacingAndGlyphs">A: Agitation; D: Days; M: Month.</text>
<defs><linearGradient id="cb1" x1="0" y1="0" x2="0" y2="1"><stop offset="0" stop-color="#f0705a"/><stop offset="0.25" stop-color="#f2b45a"/><stop offset="0.5" stop-color="#eeee6a"/><stop offset="0.75" stop-color="#8ee87a"/><stop offset="1" stop-color="#5fe6c0"/></linearGradient><linearGradient id="cb2" x1="0" y1="0" x2="0" y2="1"><stop offset="0" stop-color="#5fe8e0"/><stop offset="0.4" stop-color="#6a9af0"/><stop offset="0.7" stop-color="#9a6af0"/><stop offset="1" stop-color="#ee60e6"/></linearGradient></defs>
<rect x="675.6" y="198.25" width="1.4" height="92" fill="url(#cb1)"/>
<rect x="686.9" y="198.25" width="1.3" height="87" fill="url(#cb2)"/>
<text x="678.3" y="200.2" font-size="1.9" fill="#777">1000</text>
<text x="689.3" y="200.2" font-size="1.9" fill="#777">90</text>
<text x="678.3" y="205.1" font-size="1.9" fill="#777">950</text>
<text x="689.3" y="205.1" font-size="1.9" fill="#777">85</text>
<text x="678.3" y="210" font-size="1.9" fill="#777">900</text>
<text x="689.3" y="210" font-size="1.9" fill="#777">80</text>
<text x="678.3" y="214.9" font-size="1.9" fill="#777">850</text>
<text x="689.3" y="214.9" font-size="1.9" fill="#777">75</text>
<text x="678.3" y="219.8" font-size="1.9" fill="#777">800</text>
<text x="689.3" y="219.8" font-size="1.9" fill="#777">70</text>
<text x="678.3" y="224.7" font-size="1.9" fill="#777">750</text>
<text x="689.3" y="224.7" font-size="1.9" fill="#777">65</text>
<text x="678.3" y="229.6" font-size="1.9" fill="#777">700</text>
<text x="689.3" y="229.6" font-size="1.9" fill="#777">60</text>
<text x="678.3" y="234.5" font-size="1.9" fill="#777">650</text>
<text x="689.3" y="234.5" font-size="1.9" fill="#777">55</text>
<text x="678.3" y="239.4" font-size="1.9" fill="#777">600</text>
<text x="689.3" y="239.4" font-size="1.9" fill="#777">50</text>
<text x="678.3" y="244.3" font-size="1.9" fill="#777">550</text>
<text x="689.3" y="244.3" font-size="1.9" fill="#777">45</text>
<text x="678.3" y="249.2" font-size="1.9" fill="#777">500</text>
<text x="689.3" y="249.2" font-size="1.9" fill="#777">40</text>
<text x="678.3" y="254.1" font-size="1.9" fill="#777">450</text>
<text x="689.3" y="254.1" font-size="1.9" fill="#777">35</text>
<text x="678.3" y="259" font-size="1.9" fill="#777">400</text>
<text x="689.3" y="259" font-size="1.9" fill="#777">30</text>
<text x="678.3" y="263.9" font-size="1.9" fill="#777">350</text>
<text x="689.3" y="263.9" font-size="1.9" fill="#777">25</text>
<text x="678.3" y="268.8" font-size="1.9" fill="#777">300</text>
<text x="689.3" y="268.8" font-size="1.9" fill="#777">20</text>
<text x="678.3" y="273.7" font-size="1.9" fill="#777">250</text>
<text x="689.3" y="273.7" font-size="1.9" fill="#777">15</text>
<text x="678.3" y="278.6" font-size="1.9" fill="#777">200</text>
<text x="689.3" y="278.6" font-size="1.9" fill="#777">10</text>
<text x="678.3" y="283.5" font-size="1.9" fill="#777">150</text>
<text x="689.3" y="283.5" font-size="1.9" fill="#777">5</text>
<text x="678.3" y="288.4" font-size="1.9" fill="#777">100</text>
<path d="M679.6 295L679.6 310.5" stroke="#777" stroke-width="0.5" fill="none"/>
<rect x="678.8" y="305.5" width="1.6" height="5" fill="#888"/>
<rect x="676" y="311.2" width="7.2" height="21" fill="#f2f2f2" stroke="#c9c9c9" stroke-width="0.5"/>
<rect x="673.9" y="310.9" width="11.6" height="21.6" rx="2.2" fill="none" stroke="#f3a264" stroke-width="1.05" stroke-dasharray="1.5 0.9"/>
<rect x="677.4" y="333.6" width="4.4" height="2.6" fill="#555"/>
<rect x="678" y="336.2" width="3.2" height="17" fill="#efefef" stroke="#bdbdbd" stroke-width="0.45"/>
<path d="M675 354.2L684.2 354.2" stroke="#999" stroke-width="0.8" fill="none"/>
</g>
<g id="heat2">
<rect x="964.2" y="151.7" width="75" height="107" fill="#f7f7f7" stroke="#a7bdea" stroke-width="1"/>
<text x="975" y="160.3" font-size="2.9" text-anchor="middle" font-weight="700" fill="#2a2a2a">mAb</text>
<text x="989.25" y="160.3" font-size="2.9" text-anchor="middle" font-weight="700" fill="#2a2a2a">1</text>
<text x="999.25" y="160.3" font-size="2.9" text-anchor="middle" font-weight="700" fill="#2a2a2a">2</text>
<text x="1009.5" y="160.3" font-size="2.9" text-anchor="middle" font-weight="700" fill="#2a2a2a">3</text>
<text x="1021.3" y="160.3" font-size="2.9" text-anchor="middle" font-weight="700" fill="#2a2a2a" textLength="12.5" lengthAdjust="spacingAndGlyphs">Placebo</text>
<text x="976.3" y="176" font-size="3.3" text-anchor="middle" font-weight="700" fill="#333">T0</text>
<rect x="985.5" y="163.75" width="6.5" height="25.5" fill="#27278d"/>
<rect x="985.5" y="163.75" width="6.5" height="1.4" fill="#5a2a8a" opacity="0.7"/>
<rect x="985.9" y="165.55" width="5.7" height="13.5" fill="#3f8f55" opacity="0.6"/>
<path d="M985.8 166.55h1v1h-1zM985.8 167.55h1v1h-1zM988.8 168.55h1v1h-1zM990.8 168.55h0.9v1h-0.9zM987.8 170.55h1v1h-1zM985.8 172.55h1v1h-1zM990.8 173.55h0.9v1h-0.9zM985.8 174.55h1v1h-1zM990.8 175.55h0.9v1h-0.9zM985.8 176.55h1v1h-1zM986.8 176.55h1v1h-1zM985.8 177.55h1v1h-1zM985.8 178.55h1v0.5h-1zM986.8 178.55h1v0.5h-1zM987.8 184.05h1v1h-1zM989.8 187.05h1v1h-1z" fill="#4a9a4a" opacity="0.9"/>
<path d="M987.8 167.55h1v1h-1zM990.8 167.55h0.9v1h-0.9zM986.8 168.55h1v1h-1zM985.8 169.55h1v1h-1zM985.8 171.55h1v1h-1zM990.8 171.55h0.9v1h-0.9zM986.8 172.55h1v1h-1zM987.8 172.55h1v1h-1zM989.8 174.55h1v1h-1zM986.8 175.55h1v1h-1zM986.8 177.55h1v1h-1zM989.8 177.55h1v1h-1zM990.8 178.55h0.9v0.5h-0.9z" fill="#3f8c52" opacity="0.9"/>
<path d="M986.8 165.55h1v1h-1zM987.8 166.55h1v1h-1zM990.8 166.55h0.9v1h-0.9zM985.8 168.55h1v1h-1zM985.8 170.55h1v1h-1zM989.8 171.55h1v1h-1zM989.8 172.55h1v1h-1zM987.8 173.55h1v1h-1zM989.8 173.55h1v1h-1zM986.8 174.55h1v1h-1zM990.8 174.55h0.9v1h-0.9zM990.8 176.55h0.9v1h-0.9zM988.8 177.55h1v1h-1zM990.8 177.55h0.9v1h-0.9z" fill="#5cab50" opacity="0.9"/>
<path d="M989.8 166.55h1v1h-1zM988.8 167.55h1v1h-1zM987.8 169.55h1v1h-1zM986.8 170.55h1v1h-1zM990.8 170.55h0.9v1h-0.9zM988.8 179.05h1v1h-1zM990.8 179.05h0.9v1h-0.9z" fill="#2f7a6a" opacity="0.9"/>
<path d="M989.8 165.55h1v1h-1zM986.8 169.55h1v1h-1zM988.8 169.55h1v1h-1zM989.8 169.55h1v1h-1zM990.8 172.55h0.9v1h-0.9zM985.8 175.55h1v1h-1zM989.8 176.55h1v1h-1zM988.8 178.55h1v0.5h-1zM989.8 178.55h1v0.5h-1z" fill="#2a5fa0" opacity="0.9"/>
<path d="M990.8 165.55h0.9v1h-0.9zM988.8 166.55h1v1h-1zM990.8 169.55h0.9v1h-0.9zM985.8 173.55h1v1h-1zM988.8 175.55h1v1h-1zM989.8 175.55h1v1h-1z" fill="#86c455" opacity="0.9"/>
<rect x="985.5" y="178.55" width="6.5" height="0.9" fill="#929c3a" opacity="0.8"/>
<rect x="983.9" y="165.35" width="9.7" height="13.7" rx="2.4" fill="none" stroke="#f2a266" stroke-width="1.2" stroke-dasharray="1.5 0.9"/>
<rect x="995.75" y="163.75" width="6.75" height="25.5" fill="#27278d"/>
<rect x="995.75" y="163.75" width="6.75" height="1.4" fill="#5a2a8a" opacity="0.7"/>
<rect x="996.15" y="165.55" width="5.95" height="13.5" fill="#3f8f55" opacity="0.6"/>
<path d="M999.05 165.55h1v1h-1zM996.05 166.55h1v1h-1zM997.05 166.55h1v1h-1zM996.05 167.55h1v1h-1zM998.05 167.55h1v1h-1zM996.05 168.55h1v1h-1zM997.05 168.55h1v1h-1zM1000.05 168.55h1v1h-1zM1001.05 168.55h1v1h-1zM997.05 169.55h1v1h-1zM996.05 170.55h1v1h-1zM1001.05 170.55h1v1h-1zM996.05 171.55h1v1h-1zM1001.05 171.55h1v1h-1zM996.05 172.55h1v1h-1zM1001.05 172.55h1v1h-1zM1000.05 173.55h1v1h-1zM996.05 174.55h1v1h-1zM996.05 176.55h1v1h-1zM997.05 177.55h1v1h-1zM1000.05 177.55h1v1h-1zM997.05 178.55h1v0.5h-1zM1001.05 178.55h1v0.5h-1z" fill="#4a9a4a" opacity="0.9"/>
<path d="M997.05 165.55h1v1h-1zM1000.05 165.55h1v1h-1zM1001.05 166.55h1v1h-1zM1001.05 169.55h1v1h-1zM997.05 170.55h1v1h-1zM999.05 175.55h1v1h-1zM1000.05 175.55h1v1h-1zM1001.05 175.55h1v1h-1zM997.05 176.55h1v1h-1zM998.05 176.55h1v1h-1zM1000.05 176.55h1v1h-1zM996.05 178.55h1v0.5h-1zM998.05 178.55h1v0.5h-1zM999.05 178.55h1v0.5h-1zM997.05 180.05h1v1h-1zM1001.05 186.05h1v1h-1zM997.05 187.05h1v1h-1z" fill="#3f8c52" opacity="0.9"/>
<path d="M996.05 165.55h1v1h-1zM1001.05 165.55h1v1h-1zM1000.05 166.55h1v1h-1zM997.05 167.55h1v1h-1zM1000.05 167.55h1v1h-1zM998.05 168.55h1v1h-1zM996.05 169.55h1v1h-1zM998.05 169.55h1v1h-1zM997.05 171.55h1v1h-1zM1000.05 171.55h1v1h-1zM997.05 172.55h1v1h-1zM998.05 172.55h1v1h-1zM999.05 172.55h1v1h-1zM996.05 173.55h1v1h-1zM1001.05 173.55h1v1h-1zM1001.05 174.55h1v1h-1zM996.05 175.55h1v1h-1zM1001.05 177.55h1v1h-1z" fill="#5cab50" opacity="0.9"/>
<path d="M1001.05 176.55h1v1h-1zM996.05 177.55h1v1h-1z" fill="#2f7a6a" opacity="0.9"/>
<path d="M998.05 165.55h1v1h-1zM1001.05 167.55h1v1h-1zM999.05 170.55h1v1h-1zM999.05 173.55h1v1h-1zM997.05 174.55h1v1h-1zM999.05 174.55h1v1h-1zM996.05 186.05h1v1h-1z" fill="#2a5fa0" opacity="0.9"/>
<path d="M1000.05 172.55h1v1h-1zM998.05 180.05h1v1h-1z" fill="#86c455" opacity="0.9"/>
<rect x="995.75" y="178.55" width="6.75" height="0.9" fill="#929c3a" opacity="0.8"/>
<rect x="994.15" y="165.35" width="9.95" height="13.7" rx="2.4" fill="none" stroke="#f2a266" stroke-width="1.2" stroke-dasharray="1.5 0.9"/>
<rect x="1006.25" y="163.75" width="6.25" height="25.5" fill="#27278d"/>
<rect x="1006.25" y="163.75" width="6.25" height="1.4" fill="#5a2a8a" opacity="0.7"/>
<rect x="1006.65" y="165.55" width="5.45" height="13.5" fill="#3f8f55" opacity="0.52"/>
<path d="M1006.55 165.55h1v1h-1zM1009.55 165.55h1v1h-1zM1011.55 165.55h0.65v1h-0.65zM1007.55 166.55h1v1h-1zM1010.55 166.55h1v1h-1zM1011.55 167.55h0.65v1h-0.65zM1009.55 169.55h1v1h-1zM1007.55 170.55h1v1h-1zM1008.55 170.55h1v1h-1zM1010.55 170.55h1v1h-1zM1007.55 172.55h1v1h-1zM1009.55 172.55h1v1h-1zM1011.55 173.55h0.65v1h-0.65zM1009.55 174.55h1v1h-1zM1007.55 175.55h1v1h-1zM1007.55 177.55h1v1h-1z" fill="#4a9a4a" opacity="0.9"/>
<path d="M1011.55 166.55h0.65v1h-0.65zM1006.55 167.55h1v1h-1zM1010.55 168.55h1v1h-1zM1007.55 169.55h1v1h-1zM1006.55 170.55h1v1h-1zM1009.55 170.55h1v1h-1zM1011.55 170.55h0.65v1h-0.65zM1007.55 171.55h1v1h-1zM1011.55 171.55h0.65v1h-0.65zM1010.55 172.55h1v1h-1zM1011.55 172.55h0.65v1h-0.65zM1006.55 173.55h1v1h-1zM1008.55 173.55h1v1h-1zM1010.55 173.55h1v1h-1zM1006.55 174.55h1v1h-1zM1006.55 175.55h1v1h-1zM1006.55 176.55h1v1h-1zM1008.55 176.55h1v1h-1zM1010.55 176.55h1v1h-1zM1011.55 177.55h0.65v1h-0.65z" fill="#3f8c52" opacity="0.9"/>
<path d="M1006.55 166.55h1v1h-1zM1008.55 166.55h1v1h-1zM1010.55 167.55h1v1h-1zM1011.55 168.55h0.65v1h-0.65zM1006.55 172.55h1v1h-1zM1009.55 173.55h1v1h-1zM1008.55 174.55h1v1h-1zM1011.55 174.55h0.65v1h-0.65zM1010.55 175.55h1v1h-1zM1011.55 175.55h0.65v1h-0.65zM1007.55 176.55h1v1h-1zM1011.55 176.55h0.65v1h-0.65zM1009.55 178.55h1v0.5h-1z" fill="#5cab50" opacity="0.9"/>
<path d="M1009.55 167.55h1v1h-1zM1006.55 168.55h1v1h-1zM1007.55 168.55h1v1h-1zM1006.55 169.55h1v1h-1zM1006.55 177.55h1v1h-1zM1010.55 177.55h1v1h-1z" fill="#2f7a6a" opacity="0.9"/>
<path d="M1009.55 171.55h1v1h-1zM1010.55 171.55h1v1h-1zM1010.55 178.55h1v0.5h-1z" fill="#2a5fa0" opacity="0.9"/>
<path d="M1008.55 167.55h1v1h-1zM1011.55 169.55h0.65v1h-0.65zM1007.55 173.55h1v1h-1z" fill="#86c455" opacity="0.9"/>
<rect x="1006.25" y="178.55" width="6.25" height="0.9" fill="#929c3a" opacity="0.8"/>
<rect x="1004.65" y="165.35" width="9.45" height="13.7" rx="2.4" fill="none" stroke="#f2a266" stroke-width="1.2" stroke-dasharray="1.5 0.9"/>
<rect x="1016.25" y="163.75" width="6.25" height="25.5" fill="#27278d"/>
<rect x="1016.25" y="163.75" width="6.25" height="1.4" fill="#5a2a8a" opacity="0.7"/>
<rect x="1016.65" y="165.55" width="5.45" height="13.5" fill="#3f8f55" opacity="0.28"/>
<path d="M1020.55 166.55h1v1h-1zM1021.55 166.55h0.65v1h-0.65zM1017.55 167.55h1v1h-1zM1017.55 169.55h1v1h-1zM1019.55 171.55h1v1h-1zM1020.55 172.55h1v1h-1zM1020.55 174.55h1v1h-1zM1021.55 177.55h0.65v1h-0.65zM1017.55 178.55h1v0.5h-1zM1020.55 178.55h1v0.5h-1z" fill="#4a9a4a" opacity="0.9"/>
<path d="M1021.55 171.55h0.65v1h-0.65zM1019.55 175.55h1v1h-1zM1016.55 178.55h1v0.5h-1z" fill="#3f8c52" opacity="0.9"/>
<path d="M1016.55 167.55h1v1h-1zM1016.55 170.55h1v1h-1zM1017.55 171.55h1v1h-1zM1021.55 172.55h0.65v1h-0.65zM1017.55 174.55h1v1h-1z" fill="#5cab50" opacity="0.9"/>
<path d="M1017.55 165.55h1v1h-1zM1018.55 165.55h1v1h-1zM1021.55 165.55h0.65v1h-0.65zM1021.55 170.55h0.65v1h-0.65zM1017.55 172.55h1v1h-1zM1020.55 175.55h1v1h-1zM1021.55 175.55h0.65v1h-0.65zM1019.55 176.55h1v1h-1z" fill="#2f7a6a" opacity="0.9"/>
<path d="M1020.55 165.55h1v1h-1zM1019.55 166.55h1v1h-1zM1020.55 168.55h1v1h-1zM1019.55 173.55h1v1h-1zM1020.55 176.55h1v1h-1z" fill="#2a5fa0" opacity="0.9"/>
<path d="M1020.55 170.55h1v1h-1z" fill="#86c455" opacity="0.9"/>
<rect x="1016.25" y="178.55" width="6.25" height="0.9" fill="#929c3a" opacity="0.8"/>
<rect x="1014.65" y="165.35" width="9.45" height="13.7" rx="2.4" fill="none" stroke="#f2a266" stroke-width="1.2" stroke-dasharray="1.5 0.9"/>
<text x="975.5" y="208" font-size="3.3" text-anchor="middle" font-weight="700" fill="#333">A-3D</text>
<rect x="985.5" y="193.75" width="6.5" height="25.75" fill="#27278d"/>
<rect x="985.5" y="193.75" width="6.5" height="1.4" fill="#5a2a8a" opacity="0.7"/>
<rect x="985.9" y="195.55" width="5.7" height="12.88" fill="#3f8f55" opacity="0.44"/>
<path d="M990.8 195.55h0.9v1h-0.9zM986.8 197.55h1v1h-1zM990.8 197.55h0.9v1h-0.9zM987.8 198.55h1v1h-1zM988.8 198.55h1v1h-1zM988.8 199.55h1v1h-1zM987.8 200.55h1v1h-1zM990.8 201.55h0.9v1h-0.9zM985.8 204.55h1v1h-1zM990.8 204.55h0.9v1h-0.9zM987.8 205.55h1v1h-1zM989.8 206.55h1v1h-1zM985.8 207.55h1v0.88h-1zM989.8 207.55h1v0.88h-1zM989.8 208.43h1v1h-1zM985.8 212.43h1v1h-1zM986.8 212.43h1v1h-1zM987.8 212.43h1v1h-1zM990.8 212.43h0.9v1h-0.9zM985.8 214.43h1v1h-1zM986.8 215.43h1v1h-1zM990.8 215.43h0.9v1h-0.9z" fill="#4a9a4a" opacity="0.9"/>
<path d="M985.8 195.55h1v1h-1zM986.8 195.55h1v1h-1zM985.8 197.55h1v1h-1zM989.8 198.55h1v1h-1zM990.8 198.55h0.9v1h-0.9zM985.8 199.55h1v1h-1zM989.8 199.55h1v1h-1zM990.8 200.55h0.9v1h-0.9zM986.8 201.55h1v1h-1zM986.8 203.55h1v1h-1zM985.8 205.55h1v1h-1zM990.8 206.55h0.9v1h-0.9zM986.8 207.55h1v0.88h-1zM990.8 208.43h0.9v1h-0.9zM986.8 209.43h1v1h-1zM989.8 209.43h1v1h-1zM988.8 210.43h1v1h-1zM987.8 211.43h1v1h-1zM989.8 211.43h1v1h-1zM990.8 211.43h0.9v1h-0.9zM989.8 214.43h1v1h-1zM990.8 214.43h0.9v1h-0.9z" fill="#3f8c52" opacity="0.9"/>
<path d="M989.8 196.55h1v1h-1zM990.8 196.55h0.9v1h-0.9zM989.8 197.55h1v1h-1zM990.8 199.55h0.9v1h-0.9zM986.8 202.55h1v1h-1zM990.8 202.55h0.9v1h-0.9zM989.8 203.55h1v1h-1zM986.8 204.55h1v1h-1zM988.8 204.55h1v1h-1zM990.8 205.55h0.9v1h-0.9zM986.8 206.55h1v1h-1zM988.8 206.55h1v1h-1zM985.8 208.43h1v1h-1zM986.8 210.43h1v1h-1zM990.8 210.43h0.9v1h-0.9zM985.8 215.43h1v1h-1z" fill="#5cab50" opacity="0.9"/>
<path d="M988.8 196.55h1v1h-1zM990.8 203.55h0.9v1h-0.9zM989.8 205.55h1v1h-1zM989.8 212.43h1v1h-1zM985.8 213.43h1v1h-1zM986.8 213.43h1v1h-1zM988.8 215.43h1v1h-1zM989.8 217.43h1v1h-1z" fill="#2f7a6a" opacity="0.9"/>
<path d="M989.8 195.55h1v1h-1zM989.8 200.55h1v1h-1zM985.8 201.55h1v1h-1zM985.8 202.55h1v1h-1zM987.8 206.55h1v1h-1zM990.8 209.43h0.9v1h-0.9zM986.8 211.43h1v1h-1zM987.8 213.43h1v1h-1z" fill="#2a5fa0" opacity="0.9"/>
<path d="M985.8 217.43h1v1h-1z" fill="#86c455" opacity="0.9"/>
<rect x="985.5" y="207.93" width="6.5" height="0.9" fill="#929c3a" opacity="0.8"/>
<rect x="983.9" y="195.35" width="9.7" height="13.85" rx="2.4" fill="none" stroke="#f2a266" stroke-width="1.2" stroke-dasharray="1.5 0.9"/>
<rect x="995.75" y="193.75" width="6.75" height="25.75" fill="#27278d"/>
<rect x="995.75" y="193.75" width="6.75" height="1.4" fill="#5a2a8a" opacity="0.7"/>
<rect x="996.15" y="195.55" width="5.95" height="12.88" fill="#3f8f55" opacity="0.52"/>
<path d="M1000.05 195.55h1v1h-1zM1001.05 195.55h1v1h-1zM1001.05 196.55h1v1h-1zM996.05 198.55h1v1h-1zM1001.05 200.55h1v1h-1zM996.05 201.55h1v1h-1zM997.05 201.55h1v1h-1zM1001.05 201.55h1v1h-1zM996.05 202.55h1v1h-1zM999.05 202.55h1v1h-1zM1001.05 202.55h1v1h-1zM996.05 203.55h1v1h-1zM1000.05 203.55h1v1h-1zM996.05 205.55h1v1h-1zM997.05 205.55h1v1h-1zM998.05 205.55h1v1h-1zM1000.05 206.55h1v1h-1zM1001.05 208.43h1v1h-1zM997.05 210.43h1v1h-1zM1000.05 212.43h1v1h-1zM1001.05 214.43h1v1h-1z" fill="#4a9a4a" opacity="0.9"/>
<path d="M998.05 196.55h1v1h-1zM997.05 197.55h1v1h-1zM996.05 200.55h1v1h-1zM997.05 202.55h1v1h-1zM1000.05 207.55h1v0.88h-1zM1001.05 207.55h1v0.88h-1zM999.05 210.43h1v1h-1zM1000.05 211.43h1v1h-1zM999.05 212.43h1v1h-1zM1001.05 212.43h1v1h-1zM996.05 214.43h1v1h-1z" fill="#3f8c52" opacity="0.9"/>
<path d="M996.05 196.55h1v1h-1zM997.05 196.55h1v1h-1zM998.05 197.55h1v1h-1zM1001.05 197.55h1v1h-1zM998.05 201.55h1v1h-1zM999.05 204.55h1v1h-1zM1001.05 204.55h1v1h-1zM1001.05 205.55h1v1h-1zM1001.05 206.55h1v1h-1zM997.05 207.55h1v0.88h-1zM996.05 208.43h1v1h-1zM1001.05 211.43h1v1h-1zM997.05 212.43h1v1h-1zM997.05 214.43h1v1h-1zM998.05 214.43h1v1h-1zM999.05 215.43h1v1h-1zM997.05 217.43h1v1h-1z" fill="#5cab50" opacity="0.9"/>
<path d="M997.05 195.55h1v1h-1zM1001.05 198.55h1v1h-1zM996.05 199.55h1v1h-1zM1001.05 199.55h1v1h-1zM997.05 200.55h1v1h-1zM999.05 201.55h1v1h-1zM1000.05 201.55h1v1h-1zM998.05 204.55h1v1h-1zM1000.05 205.55h1v1h-1zM996.05 211.43h1v1h-1z" fill="#2f7a6a" opacity="0.9"/>
<path d="M999.05 195.55h1v1h-1zM998.05 202.55h1v1h-1zM999.05 206.55h1v1h-1zM997.05 209.43h1v1h-1zM997.05 216.43h1v1h-1z" fill="#2a5fa0" opacity="0.9"/>
<path d="M996.05 195.55h1v1h-1zM996.05 204.55h1v1h-1zM996.05 210.43h1v1h-1z" fill="#86c455" opacity="0.9"/>
<rect x="995.75" y="207.93" width="6.75" height="0.9" fill="#929c3a" opacity="0.8"/>
<rect x="994.15" y="195.35" width="9.95" height="13.85" rx="2.4" fill="none" stroke="#f2a266" stroke-width="1.2" stroke-dasharray="1.5 0.9"/>
<rect x="1006.25" y="193.75" width="6.25" height="25.75" fill="#27278d"/>
<rect x="1006.25" y="193.75" width="6.25" height="1.4" fill="#5a2a8a" opacity="0.7"/>
<rect x="1006.65" y="195.55" width="5.45" height="12.88" fill="#3f8f55" opacity="0.32"/>
<path d="M1010.55 200.55h1v1h-1zM1011.55 201.55h0.65v1h-0.65zM1008.55 203.55h1v1h-1zM1010.55 205.55h1v1h-1zM1011.55 205.55h0.65v1h-0.65zM1006.55 207.55h1v0.88h-1zM1010.55 207.55h1v0.88h-1z" fill="#4a9a4a" opacity="0.9"/>
<path d="M1006.55 196.55h1v1h-1zM1009.55 197.55h1v1h-1zM1008.55 198.55h1v1h-1zM1010.55 199.55h1v1h-1zM1011.55 199.55h0.65v1h-0.65zM1010.55 201.55h1v1h-1zM1011.55 209.43h0.65v1h-0.65z" fill="#3f8c52" opacity="0.9"/>
<path d="M1006.55 195.55h1v1h-1zM1011.55 196.55h0.65v1h-0.65zM1006.55 198.55h1v1h-1zM1009.55 198.55h1v1h-1zM1006.55 199.55h1v1h-1zM1007.55 200.55h1v1h-1zM1006.55 202.55h1v1h-1zM1006.55 205.55h1v1h-1zM1008.55 206.55h1v1h-1z" fill="#5cab50" opacity="0.9"/>
<path d="M1011.55 197.55h0.65v1h-0.65zM1006.55 201.55h1v1h-1zM1008.55 202.55h1v1h-1zM1010.55 202.55h1v1h-1zM1011.55 203.55h0.65v1h-0.65zM1010.55 204.55h1v1h-1zM1010.55 206.55h1v1h-1zM1007.55 207.55h1v0.88h-1z" fill="#2f7a6a" opacity="0.9"/>
<path d="M1011.55 200.55h0.65v1h-0.65zM1006.55 203.55h1v1h-1zM1011.55 207.55h0.65v0.88h-0.65z" fill="#2a5fa0" opacity="0.9"/>
<rect x="1006.25" y="207.93" width="6.25" height="0.9" fill="#929c3a" opacity="0.8"/>
<rect x="1004.65" y="195.35" width="9.45" height="13.85" rx="2.4" fill="none" stroke="#f2a266" stroke-width="1.2" stroke-dasharray="1.5 0.9"/>
<rect x="1016.25" y="193.75" width="6.25" height="25.75" fill="#27278d"/>
<rect x="1016.25" y="193.75" width="6.25" height="1.4" fill="#5a2a8a" opacity="0.7"/>
<rect x="1016.65" y="195.55" width="5.45" height="12.88" fill="#3f8f55" opacity="0.28"/>
<path d="M1020.55 198.55h1v1h-1zM1017.55 201.55h1v1h-1zM1018.55 202.55h1v1h-1zM1017.55 203.55h1v1h-1zM1020.55 203.55h1v1h-1zM1021.55 203.55h0.65v1h-0.65zM1020.55 204.55h1v1h-1zM1020.55 207.55h1v0.88h-1z" fill="#4a9a4a" opacity="0.9"/>
<path d="M1021.55 197.55h0.65v1h-0.65zM1021.55 198.55h0.65v1h-0.65zM1020.55 199.55h1v1h-1zM1019.55 200.55h1v1h-1zM1018.55 201.55h1v1h-1zM1016.55 202.55h1v1h-1zM1020.55 206.55h1v1h-1zM1016.55 207.55h1v0.88h-1z" fill="#3f8c52" opacity="0.9"/>
<path d="M1016.55 198.55h1v1h-1zM1016.55 205.55h1v1h-1zM1021.55 205.55h0.65v1h-0.65z" fill="#5cab50" opacity="0.9"/>
<path d="M1017.55 196.55h1v1h-1zM1021.55 196.55h0.65v1h-0.65zM1018.55 197.55h1v1h-1zM1021.55 201.55h0.65v1h-0.65zM1021.55 204.55h0.65v1h-0.65zM1021.55 206.55h0.65v1h-0.65z" fill="#2f7a6a" opacity="0.9"/>
<path d="M1019.55 195.55h1v1h-1zM1021.55 199.55h0.65v1h-0.65zM1021.55 202.55h0.65v1h-0.65z" fill="#2a5fa0" opacity="0.9"/>
<path d="M1016.55 196.55h1v1h-1zM1020.55 197.55h1v1h-1zM1021.55 200.55h0.65v1h-0.65zM1016.55 206.55h1v1h-1z" fill="#86c455" opacity="0.9"/>
<rect x="1016.25" y="207.93" width="6.25" height="0.9" fill="#929c3a" opacity="0.8"/>
<rect x="1014.65" y="195.35" width="9.45" height="13.85" rx="2.4" fill="none" stroke="#f2a266" stroke-width="1.2" stroke-dasharray="1.5 0.9"/>
<text x="973" y="236" font-size="3.3" text-anchor="middle" font-weight="700" fill="#333">40C-1M</text>
<rect x="985.5" y="224.25" width="6.5" height="24.5" fill="#27278d"/>
<rect x="985.5" y="224.25" width="6.5" height="1.4" fill="#5a2a8a" opacity="0.7"/>
<rect x="985.9" y="226.05" width="5.7" height="11.43" fill="#3f8f55" opacity="0.16"/>
<path d="M989.8 229.05h1v1h-1zM990.8 232.05h0.9v1h-0.9zM989.8 236.05h1v1h-1zM989.8 240.48h1v1h-1zM990.8 240.48h0.9v1h-0.9zM985.8 242.48h1v1h-1z" fill="#4a9a4a" opacity="0.9"/>
<path d="M990.8 230.05h0.9v1h-0.9zM990.8 231.05h0.9v1h-0.9zM985.8 233.05h1v1h-1zM990.8 234.05h0.9v1h-0.9zM988.8 236.05h1v1h-1zM988.8 247.48h1v0.27h-1z" fill="#3f8c52" opacity="0.9"/>
<path d="M989.8 227.05h1v1h-1zM990.8 236.05h0.9v1h-0.9zM988.8 238.48h1v1h-1z" fill="#5cab50" opacity="0.9"/>
<path d="M986.8 229.05h1v1h-1zM989.8 232.05h1v1h-1zM989.8 235.05h1v1h-1zM989.8 247.48h1v0.27h-1z" fill="#2f7a6a" opacity="0.9"/>
<path d="M988.8 227.05h1v1h-1zM985.8 236.05h1v1h-1zM990.8 237.48h0.9v1h-0.9zM986.8 238.48h1v1h-1zM987.8 246.48h1v1h-1z" fill="#2a5fa0" opacity="0.9"/>
<path d="M985.8 245.48h1v1h-1z" fill="#86c455" opacity="0.9"/>
<rect x="985.5" y="236.98" width="6.5" height="0.9" fill="#929c3a" opacity="0.8"/>
<rect x="983.9" y="225.85" width="9.7" height="13.1" rx="2.4" fill="none" stroke="#f2a266" stroke-width="1.2" stroke-dasharray="1.5 0.9"/>
<rect x="995.75" y="224.25" width="6.75" height="24.5" fill="#27278d"/>
<rect x="995.75" y="224.25" width="6.75" height="1.4" fill="#5a2a8a" opacity="0.7"/>
<rect x="996.15" y="226.05" width="5.95" height="11.43" fill="#3f8f55" opacity="0.32"/>
<path d="M1000.05 227.05h1v1h-1zM996.05 228.05h1v1h-1zM999.05 228.05h1v1h-1zM1001.05 232.05h1v1h-1zM1001.05 235.05h1v1h-1zM1000.05 238.48h1v1h-1z" fill="#4a9a4a" opacity="0.9"/>
<path d="M997.05 229.05h1v1h-1zM999.05 229.05h1v1h-1zM1001.05 230.05h1v1h-1zM1000.05 231.05h1v1h-1zM996.05 233.05h1v1h-1zM997.05 233.05h1v1h-1zM997.05 235.05h1v1h-1zM997.05 237.48h1v1h-1zM1001.05 247.48h1v0.27h-1z" fill="#3f8c52" opacity="0.9"/>
<path d="M999.05 226.05h1v1h-1zM998.05 230.05h1v1h-1zM1000.05 234.05h1v1h-1zM996.05 236.05h1v1h-1zM1000.05 242.48h1v1h-1zM999.05 243.48h1v1h-1zM1000.05 244.48h1v1h-1z" fill="#5cab50" opacity="0.9"/>
<path d="M1000.05 243.48h1v1h-1z" fill="#2f7a6a" opacity="0.9"/>
<path d="M996.05 227.05h1v1h-1zM997.05 231.05h1v1h-1zM998.05 233.05h1v1h-1zM1001.05 239.48h1v1h-1zM1000.05 240.48h1v1h-1z" fill="#2a5fa0" opacity="0.9"/>
<path d="M996.05 226.05h1v1h-1zM997.05 228.05h1v1h-1zM1000.05 229.05h1v1h-1zM1001.05 229.05h1v1h-1z" fill="#86c455" opacity="0.9"/>
<rect x="995.75" y="236.98" width="6.75" height="0.9" fill="#929c3a" opacity="0.8"/>
<rect x="994.15" y="225.85" width="9.95" height="13.1" rx="2.4" fill="none" stroke="#f2a266" stroke-width="1.2" stroke-dasharray="1.5 0.9"/>
<rect x="1006.25" y="224.25" width="6.25" height="24.5" fill="#27278d"/>
<rect x="1006.25" y="224.25" width="6.25" height="1.4" fill="#5a2a8a" opacity="0.7"/>
<rect x="1006.65" y="226.05" width="5.45" height="11.43" fill="#3f8f55" opacity="0.28"/>
<path d="M1009.55 226.05h1v1h-1zM1011.55 227.05h0.65v1h-0.65zM1007.55 228.05h1v1h-1zM1008.55 228.05h1v1h-1zM1010.55 230.05h1v1h-1zM1009.55 231.05h1v1h-1zM1008.55 232.05h1v1h-1zM1011.55 232.05h0.65v1h-0.65zM1006.55 233.05h1v1h-1zM1007.55 234.05h1v1h-1zM1008.55 234.05h1v1h-1zM1006.55 235.05h1v1h-1zM1010.55 236.05h1v1h-1zM1010.55 237.05h1v0.43h-1z" fill="#4a9a4a" opacity="0.9"/>
<path d="M1011.55 226.05h0.65v1h-0.65zM1006.55 229.05h1v1h-1z" fill="#3f8c52" opacity="0.9"/>
<path d="M1009.55 227.05h1v1h-1zM1006.55 231.05h1v1h-1zM1010.55 231.05h1v1h-1zM1006.55 232.05h1v1h-1zM1006.55 236.05h1v1h-1z" fill="#5cab50" opacity="0.9"/>
<path d="M1010.55 227.05h1v1h-1zM1009.55 232.05h1v1h-1zM1011.55 235.05h0.65v1h-0.65z" fill="#2f7a6a" opacity="0.9"/>
<path d="M1006.55 228.05h1v1h-1z" fill="#2a5fa0" opacity="0.9"/>
<path d="M1006.55 230.05h1v1h-1zM1010.55 235.05h1v1h-1z" fill="#86c455" opacity="0.9"/>
<rect x="1006.25" y="236.98" width="6.25" height="0.9" fill="#929c3a" opacity="0.8"/>
<rect x="1004.65" y="225.85" width="9.45" height="13.1" rx="2.4" fill="none" stroke="#f2a266" stroke-width="1.2" stroke-dasharray="1.5 0.9"/>
<rect x="1016.25" y="224.25" width="6.25" height="24.5" fill="#27278d"/>
<rect x="1016.25" y="224.25" width="6.25" height="1.4" fill="#5a2a8a" opacity="0.7"/>
<rect x="1016.65" y="226.05" width="5.45" height="11.43" fill="#3f8f55" opacity="0.32"/>
<path d="M1017.55 226.05h1v1h-1zM1020.55 226.05h1v1h-1zM1019.55 227.05h1v1h-1zM1017.55 229.05h1v1h-1zM1016.55 230.05h1v1h-1zM1019.55 230.05h1v1h-1zM1020.55 230.05h1v1h-1zM1021.55 232.05h0.65v1h-0.65zM1017.55 234.05h1v1h-1zM1016.55 237.05h1v0.43h-1z" fill="#4a9a4a" opacity="0.9"/>
<path d="M1020.55 227.05h1v1h-1zM1020.55 228.05h1v1h-1zM1019.55 231.05h1v1h-1zM1017.55 233.05h1v1h-1zM1020.55 234.05h1v1h-1zM1017.55 235.05h1v1h-1zM1021.55 237.05h0.65v0.43h-0.65z" fill="#3f8c52" opacity="0.9"/>
<path d="M1016.55 226.05h1v1h-1zM1021.55 227.05h0.65v1h-0.65zM1021.55 228.05h0.65v1h-0.65zM1020.55 229.05h1v1h-1zM1021.55 230.05h0.65v1h-0.65zM1019.55 233.05h1v1h-1zM1021.55 235.05h0.65v1h-0.65z" fill="#5cab50" opacity="0.9"/>
<path d="M1019.55 228.05h1v1h-1zM1021.55 234.05h0.65v1h-0.65zM1016.55 235.05h1v1h-1zM1018.55 237.05h1v0.43h-1z" fill="#2f7a6a" opacity="0.9"/>
<path d="M1018.55 227.05h1v1h-1zM1016.55 233.05h1v1h-1zM1016.55 236.05h1v1h-1zM1020.55 236.05h1v1h-1z" fill="#2a5fa0" opacity="0.9"/>
<path d="M1017.55 237.05h1v0.43h-1z" fill="#86c455" opacity="0.9"/>
<rect x="1016.25" y="236.98" width="6.25" height="0.9" fill="#929c3a" opacity="0.8"/>
<rect x="1014.65" y="225.85" width="9.45" height="13.1" rx="2.4" fill="none" stroke="#f2a266" stroke-width="1.2" stroke-dasharray="1.5 0.9"/>
<text x="1003.75" y="256" font-size="2.7" text-anchor="middle" fill="#666" textLength="56" lengthAdjust="spacingAndGlyphs">A: Agitation; D: Days; M: Month.</text>
</g>
</svg>
</div><div id="soft"></div></div></body></html>
